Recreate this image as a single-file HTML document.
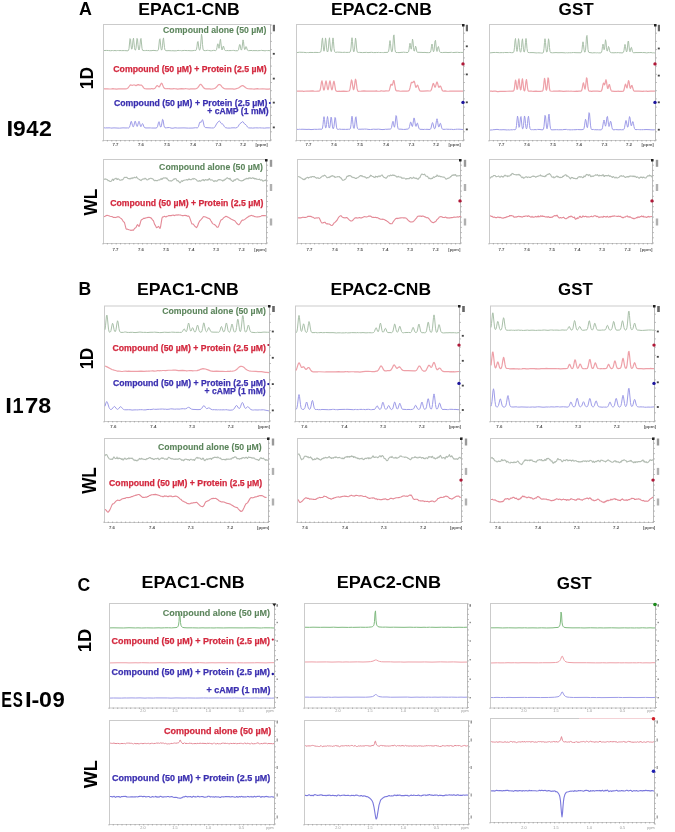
<!DOCTYPE html>
<html><head><meta charset="utf-8"><style>
html,body{margin:0;padding:0;background:#fff;overflow:hidden;width:675px;height:832px;}
svg{display:block;font-family:"Liberation Sans", sans-serif;filter:blur(0.55px);}
</style></head><body>
<svg width="675" height="832" viewBox="0 0 675 832">
<rect width="675" height="832" fill="#fff"/>
<text x="79.1" y="14.9" font-size="18.26" fill="#000" font-weight="bold" text-anchor="start" textLength="12.9" lengthAdjust="spacingAndGlyphs" >A</text>
<text x="138.3" y="14.9" font-size="16.57" fill="#000" font-weight="bold" text-anchor="start" textLength="101.3" lengthAdjust="spacingAndGlyphs" >EPAC1-CNB</text>
<text x="331.0" y="14.9" font-size="16.29" fill="#000" font-weight="bold" text-anchor="start" textLength="100.9" lengthAdjust="spacingAndGlyphs" >EPAC2-CNB</text>
<text x="558.6" y="15.1" font-size="16.86" fill="#000" font-weight="bold" text-anchor="start" textLength="35.2" lengthAdjust="spacingAndGlyphs" >GST</text>
<text x="78.4" y="294.8" font-size="18.12" fill="#000" font-weight="bold" text-anchor="start" textLength="12.7" lengthAdjust="spacingAndGlyphs" >B</text>
<text x="136.9" y="294.7" font-size="16.57" fill="#000" font-weight="bold" text-anchor="start" textLength="101.8" lengthAdjust="spacingAndGlyphs" >EPAC1-CNB</text>
<text x="330.5" y="294.6" font-size="16.00" fill="#000" font-weight="bold" text-anchor="start" textLength="100.5" lengthAdjust="spacingAndGlyphs" >EPAC2-CNB</text>
<text x="558.1" y="295.1" font-size="16.86" fill="#000" font-weight="bold" text-anchor="start" textLength="34.7" lengthAdjust="spacingAndGlyphs" >GST</text>
<text x="77.6" y="590.6" font-size="18.57" fill="#000" font-weight="bold" text-anchor="start" textLength="12.7" lengthAdjust="spacingAndGlyphs" >C</text>
<text x="141.6" y="588.4" font-size="16.14" fill="#000" font-weight="bold" text-anchor="start" textLength="103.0" lengthAdjust="spacingAndGlyphs" >EPAC1-CNB</text>
<text x="336.8" y="588.2" font-size="16.00" fill="#000" font-weight="bold" text-anchor="start" textLength="104.2" lengthAdjust="spacingAndGlyphs" >EPAC2-CNB</text>
<text x="556.7" y="588.5" font-size="16.57" fill="#000" font-weight="bold" text-anchor="start" textLength="35.0" lengthAdjust="spacingAndGlyphs" >GST</text>
<text x="6.4" y="135.7" font-size="22.71" fill="#000" font-weight="bold" text-anchor="start" textLength="6.7" lengthAdjust="spacingAndGlyphs" >I</text>
<text x="13.1" y="135.7" font-size="22.71" fill="#000" font-weight="bold" text-anchor="start" textLength="12.7" lengthAdjust="spacingAndGlyphs" >9</text>
<text x="26.2" y="135.7" font-size="22.71" fill="#000" font-weight="bold" text-anchor="start" textLength="12.3" lengthAdjust="spacingAndGlyphs" >4</text>
<text x="39.0" y="135.7" font-size="22.71" fill="#000" font-weight="bold" text-anchor="start" textLength="12.9" lengthAdjust="spacingAndGlyphs" >2</text>
<text x="5.3" y="412.7" font-size="22.71" fill="#000" font-weight="bold" text-anchor="start" textLength="6.7" lengthAdjust="spacingAndGlyphs" >I</text>
<text x="12.4" y="412.7" font-size="22.71" fill="#000" font-weight="bold" text-anchor="start" textLength="11.1" lengthAdjust="spacingAndGlyphs" >1</text>
<text x="24.9" y="412.7" font-size="22.71" fill="#000" font-weight="bold" text-anchor="start" textLength="13.3" lengthAdjust="spacingAndGlyphs" >7</text>
<text x="38.2" y="412.7" font-size="22.71" fill="#000" font-weight="bold" text-anchor="start" textLength="12.9" lengthAdjust="spacingAndGlyphs" >8</text>
<text x="1.2" y="706.7" font-size="22.86" fill="#000" font-weight="bold" text-anchor="start" textLength="10.7" lengthAdjust="spacingAndGlyphs" >E</text>
<text x="12.8" y="706.7" font-size="22.86" fill="#000" font-weight="bold" text-anchor="start" textLength="10.1" lengthAdjust="spacingAndGlyphs" >S</text>
<text x="24.9" y="706.7" font-size="22.86" fill="#000" font-weight="bold" text-anchor="start" textLength="6.7" lengthAdjust="spacingAndGlyphs" >I</text>
<text x="31.4" y="706.7" font-size="22.86" fill="#000" font-weight="bold" text-anchor="start" textLength="7.8" lengthAdjust="spacingAndGlyphs" >-</text>
<text x="39.1" y="706.7" font-size="22.86" fill="#000" font-weight="bold" text-anchor="start" textLength="12.9" lengthAdjust="spacingAndGlyphs" >0</text>
<text x="52.5" y="706.7" font-size="22.86" fill="#000" font-weight="bold" text-anchor="start" textLength="12.3" lengthAdjust="spacingAndGlyphs" >9</text>
<text transform="translate(93.30,89.13) rotate(-90)" x="0" y="0" font-size="18.26" font-weight="bold" fill="#000" textLength="22.29" lengthAdjust="spacingAndGlyphs">1D</text>
<text transform="translate(92.60,369.29) rotate(-90)" x="0" y="0" font-size="18.26" font-weight="bold" fill="#000" textLength="21.52" lengthAdjust="spacingAndGlyphs">1D</text>
<text transform="translate(90.70,652.29) rotate(-90)" x="0" y="0" font-size="17.68" font-weight="bold" fill="#000" textLength="23.49" lengthAdjust="spacingAndGlyphs">1D</text>
<text transform="translate(97.00,215.50) rotate(-90)" x="0" y="0" font-size="18.26" font-weight="bold" fill="#000" textLength="26.61" lengthAdjust="spacingAndGlyphs">WL</text>
<text transform="translate(96.00,493.80) rotate(-90)" x="0" y="0" font-size="19.42" font-weight="bold" fill="#000" textLength="26.61" lengthAdjust="spacingAndGlyphs">WL</text>
<text transform="translate(97.00,788.20) rotate(-90)" x="0" y="0" font-size="18.84" font-weight="bold" fill="#000" textLength="27.93" lengthAdjust="spacingAndGlyphs">WL</text>
<rect x="103.5" y="24.5" width="167.0" height="116.0" fill="none" stroke="#cbcbcb" stroke-width="1"/>
<line x1="270.5" y1="25.0" x2="270.5" y2="140.0" stroke="#bababa" stroke-width="1"/>
<line x1="270.0" y1="25.0" x2="272.0" y2="25.0" stroke="#b0b0b0" stroke-width="0.8"/>
<line x1="270.0" y1="33.2" x2="272.0" y2="33.2" stroke="#b0b0b0" stroke-width="0.8"/>
<line x1="270.0" y1="41.4" x2="272.0" y2="41.4" stroke="#b0b0b0" stroke-width="0.8"/>
<line x1="270.0" y1="49.6" x2="272.0" y2="49.6" stroke="#b0b0b0" stroke-width="0.8"/>
<line x1="270.0" y1="57.9" x2="272.0" y2="57.9" stroke="#b0b0b0" stroke-width="0.8"/>
<line x1="270.0" y1="66.1" x2="272.0" y2="66.1" stroke="#b0b0b0" stroke-width="0.8"/>
<line x1="270.0" y1="74.3" x2="272.0" y2="74.3" stroke="#b0b0b0" stroke-width="0.8"/>
<line x1="270.0" y1="82.5" x2="272.0" y2="82.5" stroke="#b0b0b0" stroke-width="0.8"/>
<line x1="270.0" y1="90.7" x2="272.0" y2="90.7" stroke="#b0b0b0" stroke-width="0.8"/>
<line x1="270.0" y1="98.9" x2="272.0" y2="98.9" stroke="#b0b0b0" stroke-width="0.8"/>
<line x1="270.0" y1="107.1" x2="272.0" y2="107.1" stroke="#b0b0b0" stroke-width="0.8"/>
<line x1="270.0" y1="115.4" x2="272.0" y2="115.4" stroke="#b0b0b0" stroke-width="0.8"/>
<line x1="270.0" y1="123.6" x2="272.0" y2="123.6" stroke="#b0b0b0" stroke-width="0.8"/>
<line x1="270.0" y1="131.8" x2="272.0" y2="131.8" stroke="#b0b0b0" stroke-width="0.8"/>
<line x1="270.0" y1="140.0" x2="272.0" y2="140.0" stroke="#b0b0b0" stroke-width="0.8"/>
<rect x="272.8" y="24.8" width="2.2" height="6.5" fill="#666"/>
<rect x="272.8" y="52.9" width="2.0" height="1.8" fill="#444"/>
<rect x="272.8" y="77.7" width="2.0" height="1.8" fill="#444"/>
<rect x="272.8" y="101.7" width="2.0" height="1.8" fill="#444"/>
<rect x="272.8" y="126.5" width="2.0" height="1.8" fill="#444"/>
<line x1="103.0" y1="140.0" x2="103.0" y2="141.5" stroke="#9a9a9a" stroke-width="0.7"/>
<line x1="107.4" y1="140.0" x2="107.4" y2="141.5" stroke="#9a9a9a" stroke-width="0.7"/>
<line x1="111.8" y1="140.0" x2="111.8" y2="141.5" stroke="#9a9a9a" stroke-width="0.7"/>
<line x1="116.2" y1="140.0" x2="116.2" y2="141.5" stroke="#9a9a9a" stroke-width="0.7"/>
<line x1="120.6" y1="140.0" x2="120.6" y2="141.5" stroke="#9a9a9a" stroke-width="0.7"/>
<line x1="125.0" y1="140.0" x2="125.0" y2="141.5" stroke="#9a9a9a" stroke-width="0.7"/>
<line x1="129.4" y1="140.0" x2="129.4" y2="141.5" stroke="#9a9a9a" stroke-width="0.7"/>
<line x1="133.8" y1="140.0" x2="133.8" y2="141.5" stroke="#9a9a9a" stroke-width="0.7"/>
<line x1="138.2" y1="140.0" x2="138.2" y2="141.5" stroke="#9a9a9a" stroke-width="0.7"/>
<line x1="142.6" y1="140.0" x2="142.6" y2="141.5" stroke="#9a9a9a" stroke-width="0.7"/>
<line x1="146.9" y1="140.0" x2="146.9" y2="141.5" stroke="#9a9a9a" stroke-width="0.7"/>
<line x1="151.3" y1="140.0" x2="151.3" y2="141.5" stroke="#9a9a9a" stroke-width="0.7"/>
<line x1="155.7" y1="140.0" x2="155.7" y2="141.5" stroke="#9a9a9a" stroke-width="0.7"/>
<line x1="160.1" y1="140.0" x2="160.1" y2="141.5" stroke="#9a9a9a" stroke-width="0.7"/>
<line x1="164.5" y1="140.0" x2="164.5" y2="141.5" stroke="#9a9a9a" stroke-width="0.7"/>
<line x1="168.9" y1="140.0" x2="168.9" y2="141.5" stroke="#9a9a9a" stroke-width="0.7"/>
<line x1="173.3" y1="140.0" x2="173.3" y2="141.5" stroke="#9a9a9a" stroke-width="0.7"/>
<line x1="177.7" y1="140.0" x2="177.7" y2="141.5" stroke="#9a9a9a" stroke-width="0.7"/>
<line x1="182.1" y1="140.0" x2="182.1" y2="141.5" stroke="#9a9a9a" stroke-width="0.7"/>
<line x1="186.5" y1="140.0" x2="186.5" y2="141.5" stroke="#9a9a9a" stroke-width="0.7"/>
<line x1="190.9" y1="140.0" x2="190.9" y2="141.5" stroke="#9a9a9a" stroke-width="0.7"/>
<line x1="195.3" y1="140.0" x2="195.3" y2="141.5" stroke="#9a9a9a" stroke-width="0.7"/>
<line x1="199.7" y1="140.0" x2="199.7" y2="141.5" stroke="#9a9a9a" stroke-width="0.7"/>
<line x1="204.1" y1="140.0" x2="204.1" y2="141.5" stroke="#9a9a9a" stroke-width="0.7"/>
<line x1="208.5" y1="140.0" x2="208.5" y2="141.5" stroke="#9a9a9a" stroke-width="0.7"/>
<line x1="212.9" y1="140.0" x2="212.9" y2="141.5" stroke="#9a9a9a" stroke-width="0.7"/>
<line x1="217.3" y1="140.0" x2="217.3" y2="141.5" stroke="#9a9a9a" stroke-width="0.7"/>
<line x1="221.7" y1="140.0" x2="221.7" y2="141.5" stroke="#9a9a9a" stroke-width="0.7"/>
<line x1="226.1" y1="140.0" x2="226.1" y2="141.5" stroke="#9a9a9a" stroke-width="0.7"/>
<line x1="230.4" y1="140.0" x2="230.4" y2="141.5" stroke="#9a9a9a" stroke-width="0.7"/>
<line x1="234.8" y1="140.0" x2="234.8" y2="141.5" stroke="#9a9a9a" stroke-width="0.7"/>
<line x1="239.2" y1="140.0" x2="239.2" y2="141.5" stroke="#9a9a9a" stroke-width="0.7"/>
<line x1="243.6" y1="140.0" x2="243.6" y2="141.5" stroke="#9a9a9a" stroke-width="0.7"/>
<line x1="248.0" y1="140.0" x2="248.0" y2="141.5" stroke="#9a9a9a" stroke-width="0.7"/>
<line x1="252.4" y1="140.0" x2="252.4" y2="141.5" stroke="#9a9a9a" stroke-width="0.7"/>
<line x1="256.8" y1="140.0" x2="256.8" y2="141.5" stroke="#9a9a9a" stroke-width="0.7"/>
<line x1="261.2" y1="140.0" x2="261.2" y2="141.5" stroke="#9a9a9a" stroke-width="0.7"/>
<line x1="265.6" y1="140.0" x2="265.6" y2="141.5" stroke="#9a9a9a" stroke-width="0.7"/>
<line x1="270.0" y1="140.0" x2="270.0" y2="141.5" stroke="#9a9a9a" stroke-width="0.7"/>
<text x="115.5" y="146.0" font-size="4.4" font-weight="bold" fill="#555" text-anchor="middle">7.7</text>
<text x="141.0" y="146.0" font-size="4.4" font-weight="bold" fill="#555" text-anchor="middle">7.6</text>
<text x="167.0" y="146.0" font-size="4.4" font-weight="bold" fill="#555" text-anchor="middle">7.5</text>
<text x="193.0" y="146.0" font-size="4.4" font-weight="bold" fill="#555" text-anchor="middle">7.4</text>
<text x="218.5" y="146.0" font-size="4.4" font-weight="bold" fill="#555" text-anchor="middle">7.3</text>
<text x="243.0" y="146.0" font-size="4.4" font-weight="bold" fill="#555" text-anchor="middle">7.2</text>
<text x="261.7" y="146.0" font-size="4.4" font-weight="bold" fill="#555" text-anchor="middle">[ppm]</text>
<polyline fill="none" stroke="#a9c0a9" stroke-width="1.0" stroke-linejoin="round"  points="104.0,50.54 106.5,50.45 108.5,50.52 110.5,50.74 112.5,50.51 113.5,50.68 114.0,50.53 116.5,50.67 117.5,50.50 118.5,50.53 119.0,50.66 120.0,50.53 121.5,50.64 124.5,50.58 128.0,50.82 128.5,50.45 129.0,48.68 130.0,38.64 130.5,39.28 131.0,44.85 131.5,48.90 132.0,49.17 132.5,45.87 133.0,40.23 133.5,38.20 134.5,47.67 135.0,49.93 135.5,50.10 136.0,48.33 137.0,38.41 137.5,39.16 138.0,44.78 138.5,48.89 139.0,50.01 139.5,48.89 140.0,44.79 140.5,39.26 141.0,38.44 142.0,48.36 142.5,50.26 143.0,50.54 144.5,50.59 145.0,50.48 145.5,50.55 146.0,50.39 147.5,50.57 149.0,50.52 149.5,50.71 152.0,50.63 153.0,50.39 156.5,50.70 157.5,50.63 158.0,50.45 158.5,49.15 159.5,39.53 160.0,38.78 161.0,48.59 161.5,50.13 162.0,49.38 162.5,45.84 163.0,40.07 163.5,37.91 164.5,47.64 165.0,49.98 165.5,50.53 167.0,50.77 168.0,50.60 171.5,50.76 173.0,50.69 174.0,50.85 176.5,50.77 178.0,50.40 179.5,50.56 180.5,50.52 181.5,50.71 184.5,50.46 187.5,50.60 189.0,50.56 190.0,50.72 192.0,50.75 194.5,50.42 195.0,50.52 196.0,50.33 196.5,49.34 197.0,46.22 197.5,42.00 198.0,41.48 199.0,48.92 199.5,50.17 200.0,49.82 200.5,46.78 201.5,34.12 202.0,36.84 202.5,44.37 203.0,49.05 203.5,50.34 204.0,50.58 205.5,50.61 207.5,50.34 208.5,50.47 209.0,50.40 210.0,50.77 211.0,50.82 211.5,50.78 212.0,50.59 213.0,50.57 213.5,50.39 215.0,50.46 215.5,50.61 216.0,50.50 216.5,49.72 217.0,47.41 217.5,44.20 218.0,43.71 218.5,46.44 219.0,48.32 219.5,46.21 220.0,41.17 220.5,39.22 221.5,48.16 222.0,49.98 222.5,49.04 223.0,46.85 223.5,46.07 224.5,49.60 225.0,50.41 225.5,50.56 226.5,50.63 228.0,50.50 228.5,50.64 231.5,50.56 232.0,50.40 232.5,50.49 233.5,50.41 235.5,50.72 237.5,50.71 238.0,50.55 238.5,49.78 239.5,44.72 240.0,44.50 241.0,49.59 241.5,50.11 242.0,48.29 243.0,39.90 243.5,41.64 244.0,46.58 244.5,49.40 245.0,49.53 246.0,46.56 246.5,47.22 247.0,49.06 247.5,50.24 248.0,50.55 248.5,50.66 251.0,50.49 252.0,50.50 252.5,50.68 254.0,50.56 255.0,50.68 256.0,50.55 257.5,50.71 260.5,50.52 261.5,50.33 263.0,50.62 264.0,50.62 265.0,50.87 266.5,50.51 267.5,50.58 269.0,50.52 270.0,50.75"/>
<polyline fill="none" stroke="#eea0a8" stroke-width="1.2" stroke-linejoin="round"  points="104.0,88.71 104.5,88.80 107.5,88.77 109.5,89.02 111.0,89.02 113.0,88.70 114.5,88.97 116.5,89.12 118.5,88.86 120.0,88.96 124.5,88.74 125.5,88.82 127.0,88.57 128.0,88.00 130.0,85.25 130.5,84.93 131.0,84.97 132.0,85.30 132.5,85.28 133.5,84.98 134.0,84.93 134.5,85.00 136.0,85.65 138.0,84.63 138.5,84.65 139.5,85.10 140.0,85.16 141.0,84.98 141.5,85.14 142.5,86.16 143.5,87.64 144.0,88.18 145.0,88.75 146.5,88.95 149.5,88.77 151.0,88.79 151.5,88.67 153.5,88.81 154.0,88.74 155.0,88.26 156.5,86.18 157.0,85.68 157.5,85.65 158.5,86.58 159.0,86.86 159.5,86.62 161.0,83.65 161.5,83.21 162.0,83.59 163.5,87.13 164.0,87.88 164.5,88.34 165.5,88.75 167.5,88.64 168.5,88.75 169.0,88.63 170.5,88.88 172.5,88.94 174.0,88.64 174.5,88.77 176.5,88.86 177.5,89.11 181.5,88.71 184.0,88.85 185.0,88.72 186.5,88.77 189.5,89.04 190.5,88.90 191.0,88.95 192.5,88.83 194.0,88.97 194.5,88.85 195.0,88.89 196.0,88.75 197.0,88.27 198.0,87.31 200.0,84.54 200.5,84.37 201.0,84.43 201.5,84.86 203.5,87.71 205.0,88.63 206.0,88.87 207.0,88.80 208.5,88.97 210.0,88.84 210.5,89.03 212.5,88.96 213.0,88.93 214.5,88.54 215.5,87.89 216.5,87.02 218.0,85.20 218.5,84.79 219.0,84.54 219.5,84.47 220.5,84.98 222.0,86.83 223.0,87.81 224.0,88.48 224.5,88.67 226.0,88.92 227.0,88.92 228.0,88.78 229.0,88.86 231.0,88.80 231.5,88.95 232.5,88.94 234.0,89.17 235.5,88.92 238.5,87.99 241.0,86.16 242.0,85.72 242.5,85.67 243.5,85.91 245.5,87.54 246.5,88.22 248.0,88.74 250.5,88.83 251.5,88.75 253.0,89.01 254.0,89.05 257.5,88.70 259.0,88.98 262.5,88.75 266.5,89.11 267.5,89.05 268.5,89.13 270.0,88.96"/>
<polyline fill="none" stroke="#9e9ce8" stroke-width="1.0" stroke-linejoin="round"  points="104.0,127.78 105.5,127.97 106.0,127.86 108.0,127.91 109.0,127.82 110.5,127.95 111.0,128.11 114.0,127.89 119.5,128.15 123.0,127.86 126.0,127.98 127.5,127.91 128.5,128.07 129.0,127.79 129.5,127.12 130.0,125.58 131.0,121.43 131.5,121.53 132.5,125.61 133.0,126.80 133.5,126.68 134.0,125.23 134.5,122.90 135.0,121.17 135.5,121.41 136.5,125.64 137.0,126.59 137.5,126.13 138.5,122.31 139.0,121.34 139.5,122.42 140.5,126.34 141.0,126.73 141.5,125.78 142.0,124.27 142.5,123.56 143.0,124.24 144.0,126.94 144.5,127.58 145.0,127.80 146.0,127.94 150.5,127.91 151.5,128.01 156.0,128.04 157.0,127.60 157.5,126.74 158.5,122.43 159.0,121.70 159.5,123.20 160.0,125.60 160.5,126.95 161.0,126.96 161.5,125.17 162.5,119.37 163.0,119.77 164.0,125.79 164.5,127.24 165.0,127.80 166.0,127.92 166.5,127.77 169.0,127.56 169.5,127.57 171.0,128.07 172.0,128.20 173.0,128.19 175.0,127.78 177.5,128.02 184.0,127.90 188.5,128.12 193.0,128.02 195.5,127.72 196.0,127.84 197.5,127.77 198.0,127.45 198.5,126.47 199.5,122.85 200.0,121.87 201.0,122.54 201.5,121.83 202.0,120.34 202.5,119.67 203.0,120.87 204.0,125.46 204.5,126.90 205.0,127.41 205.5,127.58 211.5,127.96 213.5,127.95 214.0,127.75 214.5,127.47 215.0,126.80 217.0,123.12 219.0,121.17 219.5,121.03 220.0,121.45 221.0,123.28 221.5,123.71 222.5,123.92 223.0,124.30 224.5,126.75 225.0,127.36 225.5,127.66 227.5,128.06 230.5,128.07 232.0,127.80 233.0,127.88 234.0,127.76 235.5,127.93 237.0,127.56 237.5,127.24 238.0,126.72 239.0,124.90 240.0,123.55 241.0,122.99 242.0,121.97 242.5,121.67 243.0,121.73 244.5,123.87 246.0,124.83 246.5,125.43 247.5,127.08 248.0,127.54 248.5,127.80 249.0,127.79 250.0,128.08 251.0,127.90 252.5,128.10 255.5,127.83 258.5,127.95 259.5,127.82 261.5,127.96 262.0,127.84 262.5,127.97 264.5,128.11 267.0,127.85 268.0,127.92 269.5,127.82 270.0,127.95"/>
<rect x="296.5" y="24.5" width="167.0" height="116.0" fill="none" stroke="#cbcbcb" stroke-width="1"/>
<line x1="463.5" y1="25.0" x2="463.5" y2="140.0" stroke="#bababa" stroke-width="1"/>
<line x1="463.0" y1="25.0" x2="465.0" y2="25.0" stroke="#b0b0b0" stroke-width="0.8"/>
<line x1="463.0" y1="33.2" x2="465.0" y2="33.2" stroke="#b0b0b0" stroke-width="0.8"/>
<line x1="463.0" y1="41.4" x2="465.0" y2="41.4" stroke="#b0b0b0" stroke-width="0.8"/>
<line x1="463.0" y1="49.6" x2="465.0" y2="49.6" stroke="#b0b0b0" stroke-width="0.8"/>
<line x1="463.0" y1="57.9" x2="465.0" y2="57.9" stroke="#b0b0b0" stroke-width="0.8"/>
<line x1="463.0" y1="66.1" x2="465.0" y2="66.1" stroke="#b0b0b0" stroke-width="0.8"/>
<line x1="463.0" y1="74.3" x2="465.0" y2="74.3" stroke="#b0b0b0" stroke-width="0.8"/>
<line x1="463.0" y1="82.5" x2="465.0" y2="82.5" stroke="#b0b0b0" stroke-width="0.8"/>
<line x1="463.0" y1="90.7" x2="465.0" y2="90.7" stroke="#b0b0b0" stroke-width="0.8"/>
<line x1="463.0" y1="98.9" x2="465.0" y2="98.9" stroke="#b0b0b0" stroke-width="0.8"/>
<line x1="463.0" y1="107.1" x2="465.0" y2="107.1" stroke="#b0b0b0" stroke-width="0.8"/>
<line x1="463.0" y1="115.4" x2="465.0" y2="115.4" stroke="#b0b0b0" stroke-width="0.8"/>
<line x1="463.0" y1="123.6" x2="465.0" y2="123.6" stroke="#b0b0b0" stroke-width="0.8"/>
<line x1="463.0" y1="131.8" x2="465.0" y2="131.8" stroke="#b0b0b0" stroke-width="0.8"/>
<line x1="463.0" y1="140.0" x2="465.0" y2="140.0" stroke="#b0b0b0" stroke-width="0.8"/>
<rect x="465.8" y="24.8" width="2.2" height="6.5" fill="#666"/>
<rect x="465.8" y="45.4" width="2.0" height="1.8" fill="#444"/>
<rect x="465.8" y="73.5" width="2.0" height="1.8" fill="#444"/>
<rect x="465.8" y="101.4" width="2.0" height="1.8" fill="#444"/>
<rect x="465.8" y="128.5" width="2.0" height="1.8" fill="#444"/>
<line x1="296.0" y1="140.0" x2="296.0" y2="141.5" stroke="#9a9a9a" stroke-width="0.7"/>
<line x1="300.4" y1="140.0" x2="300.4" y2="141.5" stroke="#9a9a9a" stroke-width="0.7"/>
<line x1="304.8" y1="140.0" x2="304.8" y2="141.5" stroke="#9a9a9a" stroke-width="0.7"/>
<line x1="309.2" y1="140.0" x2="309.2" y2="141.5" stroke="#9a9a9a" stroke-width="0.7"/>
<line x1="313.6" y1="140.0" x2="313.6" y2="141.5" stroke="#9a9a9a" stroke-width="0.7"/>
<line x1="318.0" y1="140.0" x2="318.0" y2="141.5" stroke="#9a9a9a" stroke-width="0.7"/>
<line x1="322.4" y1="140.0" x2="322.4" y2="141.5" stroke="#9a9a9a" stroke-width="0.7"/>
<line x1="326.8" y1="140.0" x2="326.8" y2="141.5" stroke="#9a9a9a" stroke-width="0.7"/>
<line x1="331.2" y1="140.0" x2="331.2" y2="141.5" stroke="#9a9a9a" stroke-width="0.7"/>
<line x1="335.6" y1="140.0" x2="335.6" y2="141.5" stroke="#9a9a9a" stroke-width="0.7"/>
<line x1="339.9" y1="140.0" x2="339.9" y2="141.5" stroke="#9a9a9a" stroke-width="0.7"/>
<line x1="344.3" y1="140.0" x2="344.3" y2="141.5" stroke="#9a9a9a" stroke-width="0.7"/>
<line x1="348.7" y1="140.0" x2="348.7" y2="141.5" stroke="#9a9a9a" stroke-width="0.7"/>
<line x1="353.1" y1="140.0" x2="353.1" y2="141.5" stroke="#9a9a9a" stroke-width="0.7"/>
<line x1="357.5" y1="140.0" x2="357.5" y2="141.5" stroke="#9a9a9a" stroke-width="0.7"/>
<line x1="361.9" y1="140.0" x2="361.9" y2="141.5" stroke="#9a9a9a" stroke-width="0.7"/>
<line x1="366.3" y1="140.0" x2="366.3" y2="141.5" stroke="#9a9a9a" stroke-width="0.7"/>
<line x1="370.7" y1="140.0" x2="370.7" y2="141.5" stroke="#9a9a9a" stroke-width="0.7"/>
<line x1="375.1" y1="140.0" x2="375.1" y2="141.5" stroke="#9a9a9a" stroke-width="0.7"/>
<line x1="379.5" y1="140.0" x2="379.5" y2="141.5" stroke="#9a9a9a" stroke-width="0.7"/>
<line x1="383.9" y1="140.0" x2="383.9" y2="141.5" stroke="#9a9a9a" stroke-width="0.7"/>
<line x1="388.3" y1="140.0" x2="388.3" y2="141.5" stroke="#9a9a9a" stroke-width="0.7"/>
<line x1="392.7" y1="140.0" x2="392.7" y2="141.5" stroke="#9a9a9a" stroke-width="0.7"/>
<line x1="397.1" y1="140.0" x2="397.1" y2="141.5" stroke="#9a9a9a" stroke-width="0.7"/>
<line x1="401.5" y1="140.0" x2="401.5" y2="141.5" stroke="#9a9a9a" stroke-width="0.7"/>
<line x1="405.9" y1="140.0" x2="405.9" y2="141.5" stroke="#9a9a9a" stroke-width="0.7"/>
<line x1="410.3" y1="140.0" x2="410.3" y2="141.5" stroke="#9a9a9a" stroke-width="0.7"/>
<line x1="414.7" y1="140.0" x2="414.7" y2="141.5" stroke="#9a9a9a" stroke-width="0.7"/>
<line x1="419.1" y1="140.0" x2="419.1" y2="141.5" stroke="#9a9a9a" stroke-width="0.7"/>
<line x1="423.4" y1="140.0" x2="423.4" y2="141.5" stroke="#9a9a9a" stroke-width="0.7"/>
<line x1="427.8" y1="140.0" x2="427.8" y2="141.5" stroke="#9a9a9a" stroke-width="0.7"/>
<line x1="432.2" y1="140.0" x2="432.2" y2="141.5" stroke="#9a9a9a" stroke-width="0.7"/>
<line x1="436.6" y1="140.0" x2="436.6" y2="141.5" stroke="#9a9a9a" stroke-width="0.7"/>
<line x1="441.0" y1="140.0" x2="441.0" y2="141.5" stroke="#9a9a9a" stroke-width="0.7"/>
<line x1="445.4" y1="140.0" x2="445.4" y2="141.5" stroke="#9a9a9a" stroke-width="0.7"/>
<line x1="449.8" y1="140.0" x2="449.8" y2="141.5" stroke="#9a9a9a" stroke-width="0.7"/>
<line x1="454.2" y1="140.0" x2="454.2" y2="141.5" stroke="#9a9a9a" stroke-width="0.7"/>
<line x1="458.6" y1="140.0" x2="458.6" y2="141.5" stroke="#9a9a9a" stroke-width="0.7"/>
<line x1="463.0" y1="140.0" x2="463.0" y2="141.5" stroke="#9a9a9a" stroke-width="0.7"/>
<text x="308.5" y="146.0" font-size="4.4" font-weight="bold" fill="#555" text-anchor="middle">7.7</text>
<text x="334.0" y="146.0" font-size="4.4" font-weight="bold" fill="#555" text-anchor="middle">7.6</text>
<text x="360.0" y="146.0" font-size="4.4" font-weight="bold" fill="#555" text-anchor="middle">7.5</text>
<text x="386.0" y="146.0" font-size="4.4" font-weight="bold" fill="#555" text-anchor="middle">7.4</text>
<text x="411.5" y="146.0" font-size="4.4" font-weight="bold" fill="#555" text-anchor="middle">7.3</text>
<text x="436.0" y="146.0" font-size="4.4" font-weight="bold" fill="#555" text-anchor="middle">7.2</text>
<text x="454.7" y="146.0" font-size="4.4" font-weight="bold" fill="#555" text-anchor="middle">[ppm]</text>
<polyline fill="none" stroke="#a9c0a9" stroke-width="1.0" stroke-linejoin="round"  points="297.0,52.56 299.5,52.22 303.5,52.35 306.5,52.63 307.5,52.50 308.5,52.58 310.0,52.45 313.5,52.53 315.0,52.40 318.5,52.50 319.0,52.40 319.5,52.43 320.5,52.13 321.0,51.07 321.5,47.13 322.0,40.41 322.5,37.93 323.5,49.07 324.0,51.20 324.5,49.06 325.5,37.95 326.0,40.50 326.5,47.10 327.0,51.06 327.5,51.99 328.0,51.04 328.5,46.94 329.0,40.30 329.5,37.77 330.5,48.97 331.0,51.57 331.5,51.35 332.0,48.17 332.5,41.76 333.0,37.92 333.5,41.79 334.0,48.29 334.5,51.50 335.0,52.23 335.5,52.32 336.0,52.21 337.0,52.23 337.5,52.10 338.0,52.22 339.0,52.15 342.5,52.44 345.0,52.23 345.5,52.40 348.5,52.40 350.0,52.16 350.5,51.33 351.0,48.01 351.5,41.57 352.0,37.72 352.5,41.59 353.0,48.18 353.5,51.53 354.0,51.75 354.5,49.25 355.5,37.99 356.0,40.49 356.5,47.04 357.0,51.04 357.5,52.24 358.5,52.47 359.5,52.40 362.5,52.59 366.5,52.39 368.0,52.62 371.5,52.30 373.5,52.58 374.0,52.52 375.0,52.62 376.5,52.44 378.0,52.55 378.5,52.40 379.5,52.53 381.5,52.52 382.0,52.63 382.5,52.53 383.5,52.58 384.0,52.45 386.0,52.46 388.0,52.23 388.5,51.67 389.0,48.92 389.5,43.76 390.0,40.58 390.5,43.74 391.0,48.94 391.5,51.59 392.0,51.90 392.5,50.07 393.0,43.98 393.5,35.88 394.0,34.89 395.0,49.44 395.5,51.95 396.0,52.53 397.5,52.49 399.0,52.61 402.0,52.31 403.0,52.34 403.5,52.18 405.5,52.39 406.0,52.35 407.0,52.54 408.0,52.40 408.5,51.85 409.0,49.71 409.5,45.64 410.0,43.22 410.5,45.64 411.0,49.11 411.5,48.87 412.5,39.07 413.0,41.41 413.5,47.52 414.0,51.03 414.5,51.01 415.5,46.12 416.0,47.10 416.5,50.02 417.0,51.90 417.5,52.41 419.0,52.26 420.0,52.42 421.0,52.37 423.0,52.51 425.0,52.41 426.0,52.58 428.5,52.64 430.0,52.51 430.5,52.11 431.0,50.15 431.5,46.25 432.0,44.03 432.5,46.33 433.0,50.10 433.5,51.78 434.0,50.86 435.0,41.09 435.5,40.28 436.5,50.30 437.0,51.46 437.5,49.69 438.0,46.95 438.5,46.56 439.5,51.45 440.0,52.20 440.5,52.39 442.5,52.59 443.0,52.48 446.0,52.38 448.0,52.57 451.5,52.32 452.5,52.52 454.0,52.51 456.0,52.32 457.5,52.33 460.0,52.54 460.5,52.43 463.0,52.44"/>
<polyline fill="none" stroke="#eea0a8" stroke-width="1.2" stroke-linejoin="round"  points="297.0,91.07 298.0,91.01 299.0,91.15 300.0,90.97 301.5,91.18 303.0,91.19 303.5,91.37 307.0,90.99 309.0,91.19 312.5,90.88 314.0,91.15 316.0,91.25 318.0,91.03 318.5,91.11 319.5,90.95 320.0,90.28 320.5,88.47 321.5,81.92 322.0,80.84 322.5,83.15 323.5,89.35 324.0,90.11 324.5,88.97 325.5,82.49 326.0,80.81 326.5,82.54 327.5,88.84 328.0,89.73 328.5,88.47 329.5,81.93 330.0,80.81 330.5,83.00 331.0,86.54 331.5,89.12 332.0,89.80 332.5,88.45 333.5,82.13 334.0,81.21 334.5,83.42 335.5,89.66 336.0,90.85 336.5,91.15 337.0,91.29 338.5,91.32 339.0,91.19 340.0,91.42 343.5,91.17 346.5,91.30 349.0,90.98 349.5,90.59 350.0,89.11 351.0,82.35 351.5,79.96 352.0,80.95 353.0,88.10 353.5,89.71 354.0,88.89 354.5,85.81 355.0,81.62 355.5,79.23 356.0,80.42 357.0,88.14 357.5,90.31 358.0,91.18 358.5,91.33 359.0,91.23 361.0,91.27 361.5,91.11 364.0,90.96 366.5,91.16 368.5,91.05 369.5,91.20 371.0,91.08 372.5,91.20 374.0,91.02 375.0,91.15 376.5,90.89 377.5,91.24 380.0,91.15 381.5,90.81 382.5,91.04 384.0,91.01 384.5,91.14 386.0,90.95 388.5,91.01 389.0,90.66 389.5,89.70 390.5,85.74 391.0,84.28 391.5,84.38 392.0,85.16 392.5,84.91 393.5,80.68 394.0,80.56 395.5,89.27 396.0,90.50 396.5,90.85 398.5,90.87 400.5,91.24 402.5,91.07 406.0,91.16 407.0,91.03 408.5,91.02 409.0,90.56 409.5,89.69 410.0,87.99 411.0,83.59 411.5,82.32 412.0,82.28 412.5,82.72 413.0,82.52 413.5,81.66 414.0,81.13 414.5,81.98 415.5,86.42 416.0,87.34 416.5,86.76 417.0,85.62 417.5,85.11 418.0,85.91 419.0,89.12 419.5,90.23 420.0,90.83 420.5,91.04 423.0,91.18 427.5,90.86 429.5,91.01 430.5,90.85 431.0,90.35 431.5,89.30 433.0,83.75 433.5,83.49 434.0,84.67 434.5,86.34 435.0,87.32 435.5,86.71 436.5,82.86 437.0,81.98 437.5,82.96 438.5,86.85 439.0,87.40 440.0,86.03 440.5,86.12 441.0,87.07 442.0,89.91 442.5,90.69 443.0,91.01 443.5,91.05 445.0,90.84 446.5,91.14 449.0,91.25 450.0,91.03 451.0,91.19 454.5,90.99 457.0,91.13 463.0,91.11"/>
<polyline fill="none" stroke="#9e9ce8" stroke-width="1.0" stroke-linejoin="round"  points="297.0,129.34 298.5,129.44 299.5,129.26 300.5,129.37 302.0,129.24 307.0,129.43 309.0,129.31 311.0,129.59 314.5,129.31 317.5,129.35 319.0,129.17 321.0,129.18 321.5,129.32 322.0,129.13 322.5,128.04 323.0,124.71 323.5,119.46 324.0,116.67 324.5,119.53 325.0,124.60 325.5,127.76 326.0,127.80 326.5,124.65 327.0,119.40 327.5,116.55 328.0,119.29 328.5,124.39 329.0,127.56 329.5,128.07 330.0,126.08 331.0,117.09 331.5,117.69 332.5,126.93 333.0,128.75 333.5,128.49 334.0,126.41 335.0,117.46 335.5,118.10 336.5,127.16 337.0,128.95 337.5,129.30 338.5,129.38 339.5,129.08 341.5,129.37 342.0,129.24 343.0,129.42 344.0,129.29 345.5,129.42 348.5,129.26 349.5,129.33 350.0,129.13 350.5,128.10 351.0,124.59 351.5,119.17 352.0,116.24 352.5,119.13 353.0,124.58 353.5,127.87 354.0,128.45 354.5,126.86 355.5,117.44 356.0,116.75 357.0,126.20 357.5,128.53 358.0,129.15 358.5,129.26 360.0,129.18 361.0,129.27 362.0,129.07 363.0,129.21 364.5,129.07 366.5,129.12 369.0,129.46 370.5,129.50 373.5,129.20 376.0,129.32 378.5,129.15 382.0,129.57 385.0,129.38 385.5,129.25 387.0,129.29 388.0,129.16 390.0,129.12 390.5,129.01 391.0,128.70 391.5,127.60 392.5,122.24 393.0,121.31 393.5,123.20 394.0,126.23 394.5,127.22 395.0,124.87 396.0,115.57 396.5,116.14 397.5,125.82 398.0,128.37 398.5,129.14 401.0,129.17 403.5,129.46 406.0,129.31 407.0,129.04 408.0,129.16 408.5,128.88 409.0,128.19 409.5,126.51 410.5,122.16 411.0,122.29 412.0,126.30 412.5,126.38 413.0,123.87 413.5,120.16 414.0,117.92 414.5,119.02 415.5,125.81 416.0,126.42 417.0,123.41 417.5,123.11 418.5,126.94 419.0,128.37 419.5,129.09 420.0,129.25 421.0,129.38 422.0,129.31 423.0,129.47 424.0,129.47 424.5,129.34 425.5,129.43 427.0,129.27 428.0,129.42 430.0,129.46 430.5,129.13 431.0,128.17 432.0,123.78 432.5,122.58 433.0,123.67 434.0,127.91 434.5,128.73 435.0,128.51 435.5,127.05 436.5,120.47 437.0,118.77 437.5,120.51 438.0,124.06 438.5,126.71 439.0,126.98 440.0,123.56 440.5,123.34 441.0,124.89 441.5,127.13 442.0,128.55 442.5,129.21 443.0,129.35 445.5,129.31 446.5,129.16 448.0,129.30 449.0,129.22 449.5,129.33 451.5,129.31 453.5,129.54 454.0,129.38 455.5,129.40 457.0,129.14 457.5,129.23 459.0,129.18 463.0,129.50"/>
<circle cx="463.0" cy="63.9" r="1.7" fill="#b01838"/>
<circle cx="463.0" cy="102.4" r="1.7" fill="#1c149c"/>
<rect x="462" y="24" width="2.5" height="2.5" fill="#222"/>
<rect x="489.5" y="24.5" width="166.0" height="116.0" fill="none" stroke="#cbcbcb" stroke-width="1"/>
<line x1="655.5" y1="25.0" x2="655.5" y2="140.0" stroke="#bababa" stroke-width="1"/>
<line x1="655.0" y1="25.0" x2="657.0" y2="25.0" stroke="#b0b0b0" stroke-width="0.8"/>
<line x1="655.0" y1="33.2" x2="657.0" y2="33.2" stroke="#b0b0b0" stroke-width="0.8"/>
<line x1="655.0" y1="41.4" x2="657.0" y2="41.4" stroke="#b0b0b0" stroke-width="0.8"/>
<line x1="655.0" y1="49.6" x2="657.0" y2="49.6" stroke="#b0b0b0" stroke-width="0.8"/>
<line x1="655.0" y1="57.9" x2="657.0" y2="57.9" stroke="#b0b0b0" stroke-width="0.8"/>
<line x1="655.0" y1="66.1" x2="657.0" y2="66.1" stroke="#b0b0b0" stroke-width="0.8"/>
<line x1="655.0" y1="74.3" x2="657.0" y2="74.3" stroke="#b0b0b0" stroke-width="0.8"/>
<line x1="655.0" y1="82.5" x2="657.0" y2="82.5" stroke="#b0b0b0" stroke-width="0.8"/>
<line x1="655.0" y1="90.7" x2="657.0" y2="90.7" stroke="#b0b0b0" stroke-width="0.8"/>
<line x1="655.0" y1="98.9" x2="657.0" y2="98.9" stroke="#b0b0b0" stroke-width="0.8"/>
<line x1="655.0" y1="107.1" x2="657.0" y2="107.1" stroke="#b0b0b0" stroke-width="0.8"/>
<line x1="655.0" y1="115.4" x2="657.0" y2="115.4" stroke="#b0b0b0" stroke-width="0.8"/>
<line x1="655.0" y1="123.6" x2="657.0" y2="123.6" stroke="#b0b0b0" stroke-width="0.8"/>
<line x1="655.0" y1="131.8" x2="657.0" y2="131.8" stroke="#b0b0b0" stroke-width="0.8"/>
<line x1="655.0" y1="140.0" x2="657.0" y2="140.0" stroke="#b0b0b0" stroke-width="0.8"/>
<rect x="657.8" y="24.8" width="2.2" height="6.5" fill="#666"/>
<rect x="657.8" y="47.6" width="2.0" height="1.8" fill="#444"/>
<rect x="657.8" y="74.7" width="2.0" height="1.8" fill="#444"/>
<rect x="657.8" y="101.4" width="2.0" height="1.8" fill="#444"/>
<rect x="657.8" y="128.8" width="2.0" height="1.8" fill="#444"/>
<line x1="489.0" y1="140.0" x2="489.0" y2="141.5" stroke="#9a9a9a" stroke-width="0.7"/>
<line x1="493.4" y1="140.0" x2="493.4" y2="141.5" stroke="#9a9a9a" stroke-width="0.7"/>
<line x1="497.7" y1="140.0" x2="497.7" y2="141.5" stroke="#9a9a9a" stroke-width="0.7"/>
<line x1="502.1" y1="140.0" x2="502.1" y2="141.5" stroke="#9a9a9a" stroke-width="0.7"/>
<line x1="506.5" y1="140.0" x2="506.5" y2="141.5" stroke="#9a9a9a" stroke-width="0.7"/>
<line x1="510.8" y1="140.0" x2="510.8" y2="141.5" stroke="#9a9a9a" stroke-width="0.7"/>
<line x1="515.2" y1="140.0" x2="515.2" y2="141.5" stroke="#9a9a9a" stroke-width="0.7"/>
<line x1="519.6" y1="140.0" x2="519.6" y2="141.5" stroke="#9a9a9a" stroke-width="0.7"/>
<line x1="523.9" y1="140.0" x2="523.9" y2="141.5" stroke="#9a9a9a" stroke-width="0.7"/>
<line x1="528.3" y1="140.0" x2="528.3" y2="141.5" stroke="#9a9a9a" stroke-width="0.7"/>
<line x1="532.7" y1="140.0" x2="532.7" y2="141.5" stroke="#9a9a9a" stroke-width="0.7"/>
<line x1="537.1" y1="140.0" x2="537.1" y2="141.5" stroke="#9a9a9a" stroke-width="0.7"/>
<line x1="541.4" y1="140.0" x2="541.4" y2="141.5" stroke="#9a9a9a" stroke-width="0.7"/>
<line x1="545.8" y1="140.0" x2="545.8" y2="141.5" stroke="#9a9a9a" stroke-width="0.7"/>
<line x1="550.2" y1="140.0" x2="550.2" y2="141.5" stroke="#9a9a9a" stroke-width="0.7"/>
<line x1="554.5" y1="140.0" x2="554.5" y2="141.5" stroke="#9a9a9a" stroke-width="0.7"/>
<line x1="558.9" y1="140.0" x2="558.9" y2="141.5" stroke="#9a9a9a" stroke-width="0.7"/>
<line x1="563.3" y1="140.0" x2="563.3" y2="141.5" stroke="#9a9a9a" stroke-width="0.7"/>
<line x1="567.6" y1="140.0" x2="567.6" y2="141.5" stroke="#9a9a9a" stroke-width="0.7"/>
<line x1="572.0" y1="140.0" x2="572.0" y2="141.5" stroke="#9a9a9a" stroke-width="0.7"/>
<line x1="576.4" y1="140.0" x2="576.4" y2="141.5" stroke="#9a9a9a" stroke-width="0.7"/>
<line x1="580.7" y1="140.0" x2="580.7" y2="141.5" stroke="#9a9a9a" stroke-width="0.7"/>
<line x1="585.1" y1="140.0" x2="585.1" y2="141.5" stroke="#9a9a9a" stroke-width="0.7"/>
<line x1="589.5" y1="140.0" x2="589.5" y2="141.5" stroke="#9a9a9a" stroke-width="0.7"/>
<line x1="593.8" y1="140.0" x2="593.8" y2="141.5" stroke="#9a9a9a" stroke-width="0.7"/>
<line x1="598.2" y1="140.0" x2="598.2" y2="141.5" stroke="#9a9a9a" stroke-width="0.7"/>
<line x1="602.6" y1="140.0" x2="602.6" y2="141.5" stroke="#9a9a9a" stroke-width="0.7"/>
<line x1="606.9" y1="140.0" x2="606.9" y2="141.5" stroke="#9a9a9a" stroke-width="0.7"/>
<line x1="611.3" y1="140.0" x2="611.3" y2="141.5" stroke="#9a9a9a" stroke-width="0.7"/>
<line x1="615.7" y1="140.0" x2="615.7" y2="141.5" stroke="#9a9a9a" stroke-width="0.7"/>
<line x1="620.1" y1="140.0" x2="620.1" y2="141.5" stroke="#9a9a9a" stroke-width="0.7"/>
<line x1="624.4" y1="140.0" x2="624.4" y2="141.5" stroke="#9a9a9a" stroke-width="0.7"/>
<line x1="628.8" y1="140.0" x2="628.8" y2="141.5" stroke="#9a9a9a" stroke-width="0.7"/>
<line x1="633.2" y1="140.0" x2="633.2" y2="141.5" stroke="#9a9a9a" stroke-width="0.7"/>
<line x1="637.5" y1="140.0" x2="637.5" y2="141.5" stroke="#9a9a9a" stroke-width="0.7"/>
<line x1="641.9" y1="140.0" x2="641.9" y2="141.5" stroke="#9a9a9a" stroke-width="0.7"/>
<line x1="646.3" y1="140.0" x2="646.3" y2="141.5" stroke="#9a9a9a" stroke-width="0.7"/>
<line x1="650.6" y1="140.0" x2="650.6" y2="141.5" stroke="#9a9a9a" stroke-width="0.7"/>
<line x1="655.0" y1="140.0" x2="655.0" y2="141.5" stroke="#9a9a9a" stroke-width="0.7"/>
<text x="501.5" y="146.0" font-size="4.4" font-weight="bold" fill="#555" text-anchor="middle">7.7</text>
<text x="527.0" y="146.0" font-size="4.4" font-weight="bold" fill="#555" text-anchor="middle">7.6</text>
<text x="553.0" y="146.0" font-size="4.4" font-weight="bold" fill="#555" text-anchor="middle">7.5</text>
<text x="579.0" y="146.0" font-size="4.4" font-weight="bold" fill="#555" text-anchor="middle">7.4</text>
<text x="604.5" y="146.0" font-size="4.4" font-weight="bold" fill="#555" text-anchor="middle">7.3</text>
<text x="629.0" y="146.0" font-size="4.4" font-weight="bold" fill="#555" text-anchor="middle">7.2</text>
<text x="647.7" y="146.0" font-size="4.4" font-weight="bold" fill="#555" text-anchor="middle">[ppm]</text>
<polyline fill="none" stroke="#a9c0a9" stroke-width="1.0" stroke-linejoin="round"  points="490.0,52.88 494.0,52.46 495.5,52.53 496.0,52.43 499.5,52.69 502.5,52.60 504.0,52.72 504.5,52.49 508.5,52.57 509.5,52.45 511.5,52.67 512.0,52.59 513.0,52.70 513.5,52.34 514.0,51.23 514.5,47.22 515.0,40.83 515.5,38.49 516.5,49.35 517.0,51.45 517.5,49.32 518.5,38.66 519.0,41.02 519.5,47.34 520.0,51.26 520.5,52.22 521.0,51.34 521.5,47.49 522.0,41.10 522.5,38.83 523.5,49.58 524.0,52.05 524.5,51.78 525.0,48.58 525.5,42.32 526.0,38.49 526.5,42.24 527.0,48.46 527.5,51.59 528.0,52.42 529.5,52.61 533.0,52.58 537.0,52.98 537.5,52.82 538.0,52.81 540.5,52.91 541.5,53.07 542.5,53.06 543.0,52.94 543.5,52.11 544.0,48.76 544.5,42.48 545.0,38.73 545.5,42.45 546.0,48.68 546.5,51.86 547.0,52.09 547.5,49.68 548.5,38.79 549.0,41.11 549.5,47.51 550.0,51.45 550.5,52.59 552.5,52.81 556.0,52.57 558.0,52.72 562.0,52.61 565.5,52.87 566.5,52.71 567.5,52.82 569.5,52.69 570.0,52.88 571.0,52.64 571.5,52.69 573.5,52.53 576.0,52.69 581.0,52.75 581.5,52.18 582.0,49.67 582.5,44.71 583.0,41.81 583.5,44.68 584.0,49.57 584.5,51.94 585.0,52.20 585.5,50.39 586.0,44.49 586.5,36.50 587.0,35.44 588.0,49.55 588.5,52.05 589.0,52.48 592.5,52.91 593.0,52.81 595.5,52.73 596.5,52.85 597.5,52.73 598.5,52.89 601.0,52.89 601.5,52.34 602.0,50.26 602.5,46.43 603.0,44.14 603.5,46.39 604.0,49.78 604.5,49.26 605.5,39.75 606.0,41.91 606.5,47.76 607.0,51.04 607.5,50.89 608.5,46.46 609.0,47.52 609.5,50.30 610.0,52.01 610.5,52.50 611.5,52.70 614.0,52.81 616.0,52.62 616.5,52.71 618.5,52.58 619.0,52.77 621.0,52.80 622.0,52.94 623.0,52.70 623.5,52.20 624.0,50.36 624.5,46.73 625.0,44.41 625.5,46.59 626.0,50.20 626.5,51.91 627.0,51.09 627.5,47.10 628.0,41.64 628.5,41.04 629.5,50.70 630.0,51.77 630.5,50.25 631.0,47.71 631.5,47.40 632.5,51.74 633.0,52.54 633.5,52.69 635.0,52.69 636.0,52.53 637.0,52.62 642.0,52.49 642.5,52.60 643.0,52.53 645.0,52.61 646.5,52.86 648.0,52.73 649.0,52.51 649.5,52.63 651.0,52.54 652.5,52.84 653.5,52.78 654.5,52.90 655.0,52.82"/>
<polyline fill="none" stroke="#eea0a8" stroke-width="1.2" stroke-linejoin="round"  points="490.0,91.04 491.5,91.15 492.0,91.29 494.0,91.11 495.5,91.15 497.5,91.57 498.0,91.58 500.0,91.34 505.0,91.42 507.0,91.23 510.5,91.22 512.0,91.02 513.0,91.08 513.5,90.96 514.0,90.26 514.5,87.73 515.0,83.17 515.5,80.01 516.0,81.52 516.5,86.06 517.0,89.27 517.5,89.10 518.0,85.52 518.5,80.57 519.0,78.82 519.5,82.43 520.0,87.49 520.5,89.94 521.0,89.35 521.5,85.65 522.0,80.50 522.5,78.79 523.0,82.56 523.5,87.60 524.0,90.40 524.5,90.92 525.0,89.76 526.0,81.16 526.5,79.52 527.0,83.02 527.5,87.76 528.0,90.41 528.5,91.07 529.0,91.25 530.0,91.07 531.0,91.18 531.5,91.13 532.0,91.26 533.5,91.28 536.0,91.11 537.5,91.41 540.5,91.40 541.0,91.19 542.0,91.26 542.5,91.05 543.0,90.23 543.5,87.24 544.0,82.04 544.5,78.26 545.0,80.06 546.0,89.41 546.5,90.22 547.0,88.13 548.0,77.91 548.5,78.56 549.5,88.60 550.0,90.67 550.5,91.01 552.0,91.24 553.0,91.26 553.5,91.11 554.0,91.19 555.0,91.11 557.0,91.17 557.5,91.04 558.5,91.08 559.0,90.92 563.5,91.32 567.0,91.05 568.0,91.22 570.0,91.27 571.0,91.12 572.0,91.25 575.0,91.34 577.0,91.21 578.0,91.29 578.5,91.19 580.5,91.18 581.0,91.11 581.5,90.74 582.0,89.52 583.0,83.77 583.5,82.83 584.0,84.96 584.5,87.91 585.0,89.08 585.5,86.86 586.5,77.89 587.0,78.46 588.0,87.74 588.5,90.12 589.0,91.02 589.5,91.23 590.5,91.12 591.5,91.30 593.0,91.06 593.5,91.19 595.0,91.06 597.5,91.05 600.0,91.29 601.0,91.17 601.5,90.81 602.0,89.59 603.0,84.42 603.5,83.03 604.0,83.71 604.5,84.85 605.0,83.84 605.5,81.16 606.0,79.74 606.5,81.59 607.0,85.30 607.5,88.10 608.0,88.36 609.0,84.74 609.5,84.55 610.5,88.68 611.0,90.24 611.5,90.94 612.0,91.21 614.5,91.46 615.5,91.31 617.5,91.28 618.0,91.16 619.0,91.38 621.0,91.32 622.0,91.46 623.0,91.26 623.5,90.92 624.0,89.87 625.0,85.28 625.5,84.12 626.0,85.23 626.5,87.21 627.0,87.97 627.5,86.15 628.0,82.78 628.5,80.65 629.0,81.57 630.0,87.69 630.5,88.36 631.5,85.61 632.0,85.46 633.5,90.36 634.0,90.93 634.5,91.17 636.5,91.22 639.0,91.05 643.0,91.36 644.0,91.17 644.5,91.24 646.5,91.11 647.5,91.35 650.5,91.08 651.0,91.13 652.0,90.97 653.5,91.17 654.5,91.13 655.0,91.27"/>
<polyline fill="none" stroke="#9e9ce8" stroke-width="1.0" stroke-linejoin="round"  points="490.0,130.06 492.5,129.88 493.0,129.70 494.0,129.70 497.0,129.39 499.5,129.74 502.0,129.80 503.0,129.66 506.0,129.84 507.0,130.02 507.5,129.89 509.0,129.83 509.5,129.95 510.5,129.80 512.5,129.78 513.5,129.59 515.0,129.78 515.5,129.54 516.0,128.60 516.5,125.54 517.0,120.02 517.5,116.07 518.0,118.07 518.5,123.54 519.0,127.35 519.5,126.84 520.5,117.33 521.0,116.54 522.0,126.46 522.5,128.79 523.0,128.62 523.5,125.57 524.0,120.00 524.5,115.97 525.0,117.92 525.5,123.53 526.0,127.68 526.5,128.86 527.0,127.68 527.5,123.61 528.0,118.11 528.5,116.21 529.0,120.13 529.5,125.44 530.0,128.55 530.5,129.49 531.5,129.70 532.5,129.62 533.5,129.71 535.0,129.60 536.5,129.67 537.5,129.43 540.0,129.47 541.0,129.73 543.0,129.77 543.5,129.07 544.0,126.32 545.0,115.40 545.5,116.11 546.5,126.90 547.0,128.76 547.5,127.44 548.0,122.73 548.5,116.27 549.0,114.15 549.5,118.84 550.0,125.07 550.5,128.56 551.0,129.63 552.0,129.85 556.5,129.67 557.0,129.74 558.0,129.66 558.5,129.76 562.5,129.74 564.0,129.49 566.5,129.43 567.5,129.69 568.5,129.65 570.0,129.88 571.5,129.76 572.0,129.87 573.5,129.68 575.0,129.74 577.5,129.52 581.0,129.69 583.0,129.52 583.5,129.35 584.0,128.41 584.5,125.86 585.0,121.94 585.5,119.25 586.0,120.56 587.0,127.40 587.5,127.56 588.0,124.14 589.0,112.67 589.5,113.40 590.5,125.16 591.0,128.33 591.5,129.44 592.0,129.60 593.5,129.44 594.5,129.72 595.0,129.66 597.0,129.81 598.0,129.66 598.5,129.79 601.0,129.86 601.5,129.69 602.0,129.13 602.5,127.68 603.5,121.57 604.0,120.05 604.5,121.54 605.0,124.56 605.5,126.18 606.0,124.79 607.0,116.83 607.5,116.47 608.5,124.32 609.0,126.51 609.5,125.63 610.0,122.98 610.5,121.20 611.0,121.97 612.0,127.71 612.5,129.25 613.0,129.75 614.0,129.82 615.5,129.58 619.0,129.80 620.0,129.67 621.5,129.77 623.5,129.68 624.0,129.22 624.5,127.77 625.5,121.95 626.0,120.45 626.5,121.91 627.0,124.91 627.5,127.11 628.0,126.96 628.5,123.92 629.0,119.39 629.5,116.58 630.0,117.82 631.0,125.35 631.5,125.86 632.5,121.84 633.0,121.60 633.5,123.69 634.0,126.63 634.5,128.55 635.0,129.42 636.0,129.64 637.5,129.52 638.5,129.55 639.0,129.68 639.5,129.61 640.0,129.75 641.5,129.65 643.0,129.72 643.5,129.60 645.0,129.62 646.0,129.52 650.0,129.68 651.0,129.85 652.0,129.78 653.0,129.91 654.5,129.71 655.0,129.76"/>
<circle cx="655.0" cy="63.9" r="1.7" fill="#b01838"/>
<circle cx="655.0" cy="102.4" r="1.7" fill="#1c149c"/>
<rect x="654" y="24" width="2.5" height="2.5" fill="#222"/>
<text x="163.1" y="33.4" font-size="9.24" fill="#5c855c" font-weight="bold" text-anchor="start" textLength="103.2" lengthAdjust="spacingAndGlyphs" stroke="#5c855c" stroke-width="0.1">Compound alone (50 µM)</text>
<text x="113.3" y="71.8" font-size="9.24" fill="#d3283e" font-weight="bold" text-anchor="start" textLength="153.4" lengthAdjust="spacingAndGlyphs" stroke="#d3283e" stroke-width="0.25">Compound (50 µM) + Protein (2.5 µM)</text>
<text x="113.9" y="105.6" font-size="9.24" fill="#3a2fb0" font-weight="bold" text-anchor="start" textLength="153.6" lengthAdjust="spacingAndGlyphs" stroke="#3a2fb0" stroke-width="0.25">Compound (50 µM) + Protein (2.5 µM)</text>
<text x="207.2" y="114.3" font-size="9.24" fill="#3a2fb0" font-weight="bold" text-anchor="start" textLength="61.5" lengthAdjust="spacingAndGlyphs" stroke="#3a2fb0" stroke-width="0.25">+ cAMP (1 mM)</text>
<circle cx="269.8" cy="103.0" r="1.0" fill="#2020b0"/>
<rect x="103.5" y="159.5" width="163.0" height="84.0" fill="none" stroke="#cbcbcb" stroke-width="1"/>
<line x1="266.5" y1="160.0" x2="266.5" y2="243.0" stroke="#bababa" stroke-width="1"/>
<line x1="266.0" y1="160.0" x2="268.0" y2="160.0" stroke="#b0b0b0" stroke-width="0.8"/>
<line x1="266.0" y1="165.2" x2="268.0" y2="165.2" stroke="#b0b0b0" stroke-width="0.8"/>
<line x1="266.0" y1="170.4" x2="268.0" y2="170.4" stroke="#b0b0b0" stroke-width="0.8"/>
<line x1="266.0" y1="175.6" x2="268.0" y2="175.6" stroke="#b0b0b0" stroke-width="0.8"/>
<line x1="266.0" y1="180.8" x2="268.0" y2="180.8" stroke="#b0b0b0" stroke-width="0.8"/>
<line x1="266.0" y1="185.9" x2="268.0" y2="185.9" stroke="#b0b0b0" stroke-width="0.8"/>
<line x1="266.0" y1="191.1" x2="268.0" y2="191.1" stroke="#b0b0b0" stroke-width="0.8"/>
<line x1="266.0" y1="196.3" x2="268.0" y2="196.3" stroke="#b0b0b0" stroke-width="0.8"/>
<line x1="266.0" y1="201.5" x2="268.0" y2="201.5" stroke="#b0b0b0" stroke-width="0.8"/>
<line x1="266.0" y1="206.7" x2="268.0" y2="206.7" stroke="#b0b0b0" stroke-width="0.8"/>
<line x1="266.0" y1="211.9" x2="268.0" y2="211.9" stroke="#b0b0b0" stroke-width="0.8"/>
<line x1="266.0" y1="217.1" x2="268.0" y2="217.1" stroke="#b0b0b0" stroke-width="0.8"/>
<line x1="266.0" y1="222.2" x2="268.0" y2="222.2" stroke="#b0b0b0" stroke-width="0.8"/>
<line x1="266.0" y1="227.4" x2="268.0" y2="227.4" stroke="#b0b0b0" stroke-width="0.8"/>
<line x1="266.0" y1="232.6" x2="268.0" y2="232.6" stroke="#b0b0b0" stroke-width="0.8"/>
<line x1="266.0" y1="237.8" x2="268.0" y2="237.8" stroke="#b0b0b0" stroke-width="0.8"/>
<line x1="266.0" y1="243.0" x2="268.0" y2="243.0" stroke="#b0b0b0" stroke-width="0.8"/>
<rect x="269.8" y="159.8" width="2.4" height="7" fill="#999"/>
<rect x="269.8" y="184.0" width="2.4" height="7" fill="#b0b0b0"/>
<rect x="269.8" y="218.5" width="2.4" height="7" fill="#b0b0b0"/>
<line x1="103.0" y1="243.0" x2="103.0" y2="244.5" stroke="#9a9a9a" stroke-width="0.7"/>
<line x1="107.4" y1="243.0" x2="107.4" y2="244.5" stroke="#9a9a9a" stroke-width="0.7"/>
<line x1="111.8" y1="243.0" x2="111.8" y2="244.5" stroke="#9a9a9a" stroke-width="0.7"/>
<line x1="116.2" y1="243.0" x2="116.2" y2="244.5" stroke="#9a9a9a" stroke-width="0.7"/>
<line x1="120.6" y1="243.0" x2="120.6" y2="244.5" stroke="#9a9a9a" stroke-width="0.7"/>
<line x1="125.0" y1="243.0" x2="125.0" y2="244.5" stroke="#9a9a9a" stroke-width="0.7"/>
<line x1="129.4" y1="243.0" x2="129.4" y2="244.5" stroke="#9a9a9a" stroke-width="0.7"/>
<line x1="133.8" y1="243.0" x2="133.8" y2="244.5" stroke="#9a9a9a" stroke-width="0.7"/>
<line x1="138.2" y1="243.0" x2="138.2" y2="244.5" stroke="#9a9a9a" stroke-width="0.7"/>
<line x1="142.6" y1="243.0" x2="142.6" y2="244.5" stroke="#9a9a9a" stroke-width="0.7"/>
<line x1="147.1" y1="243.0" x2="147.1" y2="244.5" stroke="#9a9a9a" stroke-width="0.7"/>
<line x1="151.5" y1="243.0" x2="151.5" y2="244.5" stroke="#9a9a9a" stroke-width="0.7"/>
<line x1="155.9" y1="243.0" x2="155.9" y2="244.5" stroke="#9a9a9a" stroke-width="0.7"/>
<line x1="160.3" y1="243.0" x2="160.3" y2="244.5" stroke="#9a9a9a" stroke-width="0.7"/>
<line x1="164.7" y1="243.0" x2="164.7" y2="244.5" stroke="#9a9a9a" stroke-width="0.7"/>
<line x1="169.1" y1="243.0" x2="169.1" y2="244.5" stroke="#9a9a9a" stroke-width="0.7"/>
<line x1="173.5" y1="243.0" x2="173.5" y2="244.5" stroke="#9a9a9a" stroke-width="0.7"/>
<line x1="177.9" y1="243.0" x2="177.9" y2="244.5" stroke="#9a9a9a" stroke-width="0.7"/>
<line x1="182.3" y1="243.0" x2="182.3" y2="244.5" stroke="#9a9a9a" stroke-width="0.7"/>
<line x1="186.7" y1="243.0" x2="186.7" y2="244.5" stroke="#9a9a9a" stroke-width="0.7"/>
<line x1="191.1" y1="243.0" x2="191.1" y2="244.5" stroke="#9a9a9a" stroke-width="0.7"/>
<line x1="195.5" y1="243.0" x2="195.5" y2="244.5" stroke="#9a9a9a" stroke-width="0.7"/>
<line x1="199.9" y1="243.0" x2="199.9" y2="244.5" stroke="#9a9a9a" stroke-width="0.7"/>
<line x1="204.3" y1="243.0" x2="204.3" y2="244.5" stroke="#9a9a9a" stroke-width="0.7"/>
<line x1="208.7" y1="243.0" x2="208.7" y2="244.5" stroke="#9a9a9a" stroke-width="0.7"/>
<line x1="213.1" y1="243.0" x2="213.1" y2="244.5" stroke="#9a9a9a" stroke-width="0.7"/>
<line x1="217.5" y1="243.0" x2="217.5" y2="244.5" stroke="#9a9a9a" stroke-width="0.7"/>
<line x1="221.9" y1="243.0" x2="221.9" y2="244.5" stroke="#9a9a9a" stroke-width="0.7"/>
<line x1="226.4" y1="243.0" x2="226.4" y2="244.5" stroke="#9a9a9a" stroke-width="0.7"/>
<line x1="230.8" y1="243.0" x2="230.8" y2="244.5" stroke="#9a9a9a" stroke-width="0.7"/>
<line x1="235.2" y1="243.0" x2="235.2" y2="244.5" stroke="#9a9a9a" stroke-width="0.7"/>
<line x1="239.6" y1="243.0" x2="239.6" y2="244.5" stroke="#9a9a9a" stroke-width="0.7"/>
<line x1="244.0" y1="243.0" x2="244.0" y2="244.5" stroke="#9a9a9a" stroke-width="0.7"/>
<line x1="248.4" y1="243.0" x2="248.4" y2="244.5" stroke="#9a9a9a" stroke-width="0.7"/>
<line x1="252.8" y1="243.0" x2="252.8" y2="244.5" stroke="#9a9a9a" stroke-width="0.7"/>
<line x1="257.2" y1="243.0" x2="257.2" y2="244.5" stroke="#9a9a9a" stroke-width="0.7"/>
<line x1="261.6" y1="243.0" x2="261.6" y2="244.5" stroke="#9a9a9a" stroke-width="0.7"/>
<line x1="266.0" y1="243.0" x2="266.0" y2="244.5" stroke="#9a9a9a" stroke-width="0.7"/>
<text x="115.5" y="250.5" font-size="4.4" font-weight="bold" fill="#555" text-anchor="middle">7.7</text>
<text x="141.0" y="250.5" font-size="4.4" font-weight="bold" fill="#555" text-anchor="middle">7.6</text>
<text x="166.0" y="250.5" font-size="4.4" font-weight="bold" fill="#555" text-anchor="middle">7.5</text>
<text x="191.3" y="250.5" font-size="4.4" font-weight="bold" fill="#555" text-anchor="middle">7.4</text>
<text x="216.0" y="250.5" font-size="4.4" font-weight="bold" fill="#555" text-anchor="middle">7.3</text>
<text x="241.6" y="250.5" font-size="4.4" font-weight="bold" fill="#555" text-anchor="middle">7.2</text>
<text x="260.3" y="250.5" font-size="4.4" font-weight="bold" fill="#555" text-anchor="middle">[ppm]</text>
<polyline fill="none" stroke="#b2bcb2" stroke-width="1.1" stroke-linejoin="round"  points="104.0,179.55 104.5,179.01 105.0,179.24 105.5,178.83 106.0,179.23 106.5,179.18 107.0,179.63 107.5,179.80 108.0,180.60 108.5,180.54 109.0,180.68 110.0,181.54 111.0,181.35 111.5,180.90 112.5,179.17 113.0,179.47 113.5,180.49 114.0,179.29 114.5,178.98 115.0,178.86 116.0,178.18 116.5,178.64 117.0,179.59 117.5,179.40 118.0,178.65 118.5,178.90 120.0,180.28 120.5,180.25 121.5,179.76 122.0,179.89 122.5,179.73 123.5,178.81 124.0,177.80 124.5,177.25 125.5,177.50 126.0,177.24 126.5,177.53 127.0,177.33 127.5,178.10 128.0,178.58 128.5,178.74 129.0,178.52 129.5,178.51 130.0,179.18 131.0,178.06 131.5,178.16 132.0,178.63 132.5,177.84 133.5,177.97 134.5,177.22 135.0,177.70 135.5,177.76 136.0,177.67 136.5,176.66 137.0,177.54 138.0,178.65 138.5,178.88 139.5,179.64 140.0,179.79 140.5,180.37 141.0,180.61 141.5,179.99 142.5,179.12 143.0,179.26 143.5,178.88 144.5,178.99 145.0,178.18 146.5,179.19 147.0,179.93 148.0,179.68 148.5,179.06 149.0,178.71 149.5,178.92 150.0,178.51 150.5,178.28 151.0,178.27 152.0,178.67 152.5,178.70 154.5,180.75 155.0,180.79 155.5,180.34 156.5,180.82 157.0,180.56 157.5,180.72 158.0,180.18 158.5,180.07 159.0,179.76 159.5,179.93 160.0,179.84 160.5,178.98 161.0,178.80 161.5,179.32 162.0,178.42 162.5,179.12 163.0,178.31 164.0,177.70 164.5,178.08 165.0,178.15 165.5,177.80 166.0,177.95 166.5,178.60 167.0,178.16 167.5,179.19 168.0,179.47 168.5,180.42 169.0,180.69 169.5,180.72 170.0,180.94 170.5,180.65 171.5,181.07 172.0,180.52 172.5,180.42 173.0,180.05 173.5,179.14 174.0,178.86 174.5,179.25 175.0,178.70 175.5,178.64 176.0,178.87 177.0,180.82 177.5,180.51 178.0,180.64 178.5,181.42 179.0,181.46 179.5,182.52 180.0,182.87 180.5,182.52 181.5,180.73 182.0,180.81 182.5,181.46 183.0,180.77 184.0,180.20 184.5,180.20 185.0,179.94 186.0,180.02 186.5,179.53 187.0,179.53 187.5,180.08 188.0,179.87 188.5,179.44 189.0,178.69 189.5,179.58 190.0,179.45 190.5,179.67 191.0,179.71 191.5,179.65 192.5,178.65 193.5,179.08 194.0,178.39 195.0,178.82 195.5,179.24 196.0,179.41 196.5,179.83 197.0,180.82 198.0,181.10 199.0,181.13 199.5,180.60 200.5,181.18 201.0,180.90 201.5,180.22 202.0,180.10 202.5,179.82 203.0,180.18 203.5,179.60 204.0,180.59 204.5,180.70 205.5,179.44 206.0,179.66 206.5,180.07 207.0,180.23 207.5,179.61 208.0,180.22 208.5,179.68 209.0,178.76 209.5,178.59 210.0,179.64 210.5,180.09 211.0,179.91 212.0,180.05 212.5,179.98 213.5,181.29 214.0,181.57 214.5,180.89 215.0,180.95 215.5,180.67 216.0,181.10 217.0,181.17 217.5,180.40 218.5,179.59 219.0,179.99 219.5,179.59 220.5,179.76 221.5,180.32 222.0,180.17 222.5,181.03 223.0,180.89 223.5,180.10 224.5,180.18 225.0,179.18 225.5,179.45 226.0,178.69 226.5,178.40 227.0,177.72 227.5,177.84 228.0,178.49 228.5,178.64 229.0,178.45 229.5,179.26 230.0,178.26 230.5,179.03 231.0,180.28 231.5,180.39 232.5,181.37 233.5,181.19 234.0,179.82 235.0,180.31 235.5,179.60 236.0,179.23 236.5,179.09 237.0,178.70 238.0,178.90 238.5,180.01 239.0,180.05 240.5,180.79 241.5,180.87 242.5,180.66 243.0,180.35 243.5,180.42 244.0,179.61 245.0,179.37 245.5,178.90 246.0,178.91 246.5,178.38 248.5,178.82 249.0,177.67 250.0,178.21 250.5,177.85 251.0,178.48 251.5,178.43 252.5,177.74 253.0,177.77 253.5,178.49 254.0,178.25 254.5,178.35 255.0,179.13 255.5,178.63 256.0,178.43 256.5,179.29 257.0,179.32 257.5,179.20 258.5,179.56 259.0,179.41 259.5,179.07 260.5,180.27 261.0,180.09 261.5,179.72 262.0,180.04 262.5,180.99 263.0,180.73 263.5,181.14 264.0,180.69 265.5,179.90 266.0,180.97"/>
<polyline fill="none" stroke="#e48a97" stroke-width="1.1" stroke-linejoin="round"  points="104.0,216.64 105.0,216.31 106.5,215.41 107.0,215.21 109.5,215.92 110.0,216.19 112.5,216.79 113.5,217.48 114.0,217.58 115.0,217.29 115.5,217.60 116.5,217.28 117.0,216.85 117.5,216.73 119.0,216.85 120.5,218.10 121.5,218.72 122.5,220.10 123.0,221.05 123.5,221.69 124.0,221.98 124.5,222.61 126.0,228.58 126.5,229.26 127.5,229.14 129.0,229.73 130.0,229.92 130.5,230.34 131.0,230.51 132.0,230.06 132.5,230.31 133.0,230.13 133.5,230.20 134.5,228.53 135.0,228.05 135.5,227.94 136.0,227.47 137.0,225.34 137.5,224.70 138.0,225.07 138.5,226.03 139.0,226.41 139.5,225.48 140.0,224.05 141.0,220.44 141.5,219.82 142.5,219.31 143.5,218.41 144.0,218.30 144.5,218.38 146.5,217.76 147.0,217.72 147.5,217.42 148.0,217.33 148.5,217.48 149.0,217.30 149.5,217.37 150.0,217.63 151.0,217.89 152.0,219.09 152.5,220.10 153.0,220.27 153.5,220.94 154.5,224.15 155.5,225.62 156.0,226.84 156.5,227.72 157.0,227.54 157.5,227.21 158.5,226.30 159.0,226.87 159.5,227.95 160.0,228.33 160.5,227.21 162.0,218.11 162.5,216.96 163.5,216.89 164.5,216.32 165.5,216.86 166.5,216.76 167.0,216.26 168.0,215.96 168.5,215.65 169.5,215.63 170.0,215.47 171.5,215.60 172.0,215.32 173.5,215.09 174.0,215.49 174.5,215.63 175.0,215.20 175.5,215.18 176.0,214.84 177.0,215.18 178.0,214.68 179.5,215.03 180.0,214.94 181.0,215.12 182.0,215.62 182.5,215.57 183.0,215.71 183.5,215.63 184.0,215.36 185.0,215.49 185.5,215.29 186.0,215.73 186.5,215.58 187.5,216.22 188.5,215.97 189.5,217.18 191.5,222.92 192.0,223.90 192.5,224.01 193.0,223.97 194.0,225.02 195.0,226.51 195.5,226.76 196.5,227.58 197.5,226.20 198.5,223.23 199.5,221.18 200.0,220.61 200.5,220.27 202.5,217.83 203.0,217.06 203.5,216.64 204.5,216.70 205.5,217.07 206.0,217.14 207.0,217.78 207.5,217.84 208.0,218.17 209.0,218.35 210.0,219.23 210.5,219.94 211.0,220.98 211.5,221.64 212.5,223.45 213.0,223.88 214.0,224.38 214.5,224.50 216.0,225.90 217.0,227.22 217.5,227.29 218.0,227.14 219.0,225.17 220.5,220.89 221.0,219.96 222.5,219.24 223.5,217.88 226.0,216.21 227.0,216.73 227.5,216.86 228.0,217.25 228.5,217.32 229.5,218.05 231.0,218.93 233.0,219.91 234.0,220.56 234.5,220.56 235.0,220.97 236.5,223.03 238.5,224.79 239.0,224.77 239.5,224.14 240.5,222.79 241.0,221.67 242.0,220.42 242.5,220.05 243.5,220.12 244.5,219.63 246.0,218.39 247.5,217.30 248.0,217.07 249.0,216.08 249.5,216.13 251.0,215.48 251.5,215.39 252.5,215.88 253.0,215.79 254.0,216.22 254.5,216.60 255.0,216.82 255.5,216.67 257.0,216.93 257.5,216.82 258.0,216.94 258.5,216.74 259.5,216.75 260.0,216.41 261.0,216.16 261.5,215.83 263.0,215.47 263.5,215.81 264.0,215.53 266.0,215.78"/>
<rect x="265" y="159" width="2.5" height="2.5" fill="#222"/>
<rect x="297.5" y="159.5" width="163.0" height="84.0" fill="none" stroke="#cbcbcb" stroke-width="1"/>
<line x1="460.5" y1="160.0" x2="460.5" y2="243.0" stroke="#bababa" stroke-width="1"/>
<line x1="460.0" y1="160.0" x2="462.0" y2="160.0" stroke="#b0b0b0" stroke-width="0.8"/>
<line x1="460.0" y1="165.2" x2="462.0" y2="165.2" stroke="#b0b0b0" stroke-width="0.8"/>
<line x1="460.0" y1="170.4" x2="462.0" y2="170.4" stroke="#b0b0b0" stroke-width="0.8"/>
<line x1="460.0" y1="175.6" x2="462.0" y2="175.6" stroke="#b0b0b0" stroke-width="0.8"/>
<line x1="460.0" y1="180.8" x2="462.0" y2="180.8" stroke="#b0b0b0" stroke-width="0.8"/>
<line x1="460.0" y1="185.9" x2="462.0" y2="185.9" stroke="#b0b0b0" stroke-width="0.8"/>
<line x1="460.0" y1="191.1" x2="462.0" y2="191.1" stroke="#b0b0b0" stroke-width="0.8"/>
<line x1="460.0" y1="196.3" x2="462.0" y2="196.3" stroke="#b0b0b0" stroke-width="0.8"/>
<line x1="460.0" y1="201.5" x2="462.0" y2="201.5" stroke="#b0b0b0" stroke-width="0.8"/>
<line x1="460.0" y1="206.7" x2="462.0" y2="206.7" stroke="#b0b0b0" stroke-width="0.8"/>
<line x1="460.0" y1="211.9" x2="462.0" y2="211.9" stroke="#b0b0b0" stroke-width="0.8"/>
<line x1="460.0" y1="217.1" x2="462.0" y2="217.1" stroke="#b0b0b0" stroke-width="0.8"/>
<line x1="460.0" y1="222.2" x2="462.0" y2="222.2" stroke="#b0b0b0" stroke-width="0.8"/>
<line x1="460.0" y1="227.4" x2="462.0" y2="227.4" stroke="#b0b0b0" stroke-width="0.8"/>
<line x1="460.0" y1="232.6" x2="462.0" y2="232.6" stroke="#b0b0b0" stroke-width="0.8"/>
<line x1="460.0" y1="237.8" x2="462.0" y2="237.8" stroke="#b0b0b0" stroke-width="0.8"/>
<line x1="460.0" y1="243.0" x2="462.0" y2="243.0" stroke="#b0b0b0" stroke-width="0.8"/>
<rect x="463.8" y="159.8" width="2.4" height="7" fill="#999"/>
<rect x="463.8" y="184.0" width="2.4" height="7" fill="#b0b0b0"/>
<rect x="463.8" y="218.5" width="2.4" height="7" fill="#b0b0b0"/>
<line x1="297.0" y1="243.0" x2="297.0" y2="244.5" stroke="#9a9a9a" stroke-width="0.7"/>
<line x1="301.4" y1="243.0" x2="301.4" y2="244.5" stroke="#9a9a9a" stroke-width="0.7"/>
<line x1="305.8" y1="243.0" x2="305.8" y2="244.5" stroke="#9a9a9a" stroke-width="0.7"/>
<line x1="310.2" y1="243.0" x2="310.2" y2="244.5" stroke="#9a9a9a" stroke-width="0.7"/>
<line x1="314.6" y1="243.0" x2="314.6" y2="244.5" stroke="#9a9a9a" stroke-width="0.7"/>
<line x1="319.0" y1="243.0" x2="319.0" y2="244.5" stroke="#9a9a9a" stroke-width="0.7"/>
<line x1="323.4" y1="243.0" x2="323.4" y2="244.5" stroke="#9a9a9a" stroke-width="0.7"/>
<line x1="327.8" y1="243.0" x2="327.8" y2="244.5" stroke="#9a9a9a" stroke-width="0.7"/>
<line x1="332.2" y1="243.0" x2="332.2" y2="244.5" stroke="#9a9a9a" stroke-width="0.7"/>
<line x1="336.6" y1="243.0" x2="336.6" y2="244.5" stroke="#9a9a9a" stroke-width="0.7"/>
<line x1="341.1" y1="243.0" x2="341.1" y2="244.5" stroke="#9a9a9a" stroke-width="0.7"/>
<line x1="345.5" y1="243.0" x2="345.5" y2="244.5" stroke="#9a9a9a" stroke-width="0.7"/>
<line x1="349.9" y1="243.0" x2="349.9" y2="244.5" stroke="#9a9a9a" stroke-width="0.7"/>
<line x1="354.3" y1="243.0" x2="354.3" y2="244.5" stroke="#9a9a9a" stroke-width="0.7"/>
<line x1="358.7" y1="243.0" x2="358.7" y2="244.5" stroke="#9a9a9a" stroke-width="0.7"/>
<line x1="363.1" y1="243.0" x2="363.1" y2="244.5" stroke="#9a9a9a" stroke-width="0.7"/>
<line x1="367.5" y1="243.0" x2="367.5" y2="244.5" stroke="#9a9a9a" stroke-width="0.7"/>
<line x1="371.9" y1="243.0" x2="371.9" y2="244.5" stroke="#9a9a9a" stroke-width="0.7"/>
<line x1="376.3" y1="243.0" x2="376.3" y2="244.5" stroke="#9a9a9a" stroke-width="0.7"/>
<line x1="380.7" y1="243.0" x2="380.7" y2="244.5" stroke="#9a9a9a" stroke-width="0.7"/>
<line x1="385.1" y1="243.0" x2="385.1" y2="244.5" stroke="#9a9a9a" stroke-width="0.7"/>
<line x1="389.5" y1="243.0" x2="389.5" y2="244.5" stroke="#9a9a9a" stroke-width="0.7"/>
<line x1="393.9" y1="243.0" x2="393.9" y2="244.5" stroke="#9a9a9a" stroke-width="0.7"/>
<line x1="398.3" y1="243.0" x2="398.3" y2="244.5" stroke="#9a9a9a" stroke-width="0.7"/>
<line x1="402.7" y1="243.0" x2="402.7" y2="244.5" stroke="#9a9a9a" stroke-width="0.7"/>
<line x1="407.1" y1="243.0" x2="407.1" y2="244.5" stroke="#9a9a9a" stroke-width="0.7"/>
<line x1="411.5" y1="243.0" x2="411.5" y2="244.5" stroke="#9a9a9a" stroke-width="0.7"/>
<line x1="415.9" y1="243.0" x2="415.9" y2="244.5" stroke="#9a9a9a" stroke-width="0.7"/>
<line x1="420.4" y1="243.0" x2="420.4" y2="244.5" stroke="#9a9a9a" stroke-width="0.7"/>
<line x1="424.8" y1="243.0" x2="424.8" y2="244.5" stroke="#9a9a9a" stroke-width="0.7"/>
<line x1="429.2" y1="243.0" x2="429.2" y2="244.5" stroke="#9a9a9a" stroke-width="0.7"/>
<line x1="433.6" y1="243.0" x2="433.6" y2="244.5" stroke="#9a9a9a" stroke-width="0.7"/>
<line x1="438.0" y1="243.0" x2="438.0" y2="244.5" stroke="#9a9a9a" stroke-width="0.7"/>
<line x1="442.4" y1="243.0" x2="442.4" y2="244.5" stroke="#9a9a9a" stroke-width="0.7"/>
<line x1="446.8" y1="243.0" x2="446.8" y2="244.5" stroke="#9a9a9a" stroke-width="0.7"/>
<line x1="451.2" y1="243.0" x2="451.2" y2="244.5" stroke="#9a9a9a" stroke-width="0.7"/>
<line x1="455.6" y1="243.0" x2="455.6" y2="244.5" stroke="#9a9a9a" stroke-width="0.7"/>
<line x1="460.0" y1="243.0" x2="460.0" y2="244.5" stroke="#9a9a9a" stroke-width="0.7"/>
<text x="309.5" y="250.5" font-size="4.4" font-weight="bold" fill="#555" text-anchor="middle">7.7</text>
<text x="335.0" y="250.5" font-size="4.4" font-weight="bold" fill="#555" text-anchor="middle">7.6</text>
<text x="360.0" y="250.5" font-size="4.4" font-weight="bold" fill="#555" text-anchor="middle">7.5</text>
<text x="385.3" y="250.5" font-size="4.4" font-weight="bold" fill="#555" text-anchor="middle">7.4</text>
<text x="410.0" y="250.5" font-size="4.4" font-weight="bold" fill="#555" text-anchor="middle">7.3</text>
<text x="435.6" y="250.5" font-size="4.4" font-weight="bold" fill="#555" text-anchor="middle">7.2</text>
<text x="454.3" y="250.5" font-size="4.4" font-weight="bold" fill="#555" text-anchor="middle">[ppm]</text>
<polyline fill="none" stroke="#b2bcb2" stroke-width="1.1" stroke-linejoin="round"  points="298.0,176.53 299.0,176.83 299.5,177.10 300.0,176.96 300.5,177.64 301.0,177.96 301.5,178.08 302.0,178.44 302.5,179.02 303.5,179.65 304.0,179.17 304.5,179.57 305.0,178.86 305.5,179.07 306.0,178.02 306.5,177.95 307.5,177.24 308.0,177.41 308.5,178.06 309.0,177.57 310.0,177.17 310.5,177.13 311.0,176.75 311.5,177.25 312.0,176.72 312.5,176.52 313.0,176.50 314.0,176.87 314.5,176.55 315.0,177.29 316.0,177.81 316.5,178.24 317.5,177.71 318.0,177.75 319.0,178.52 320.0,178.30 320.5,177.56 321.5,176.96 322.0,176.21 322.5,176.16 323.0,175.80 323.5,176.12 324.5,175.10 325.0,175.55 325.5,175.78 327.0,177.77 327.5,177.79 328.0,177.26 328.5,177.30 329.0,177.61 329.5,176.92 330.0,177.13 330.5,176.28 331.0,176.35 331.5,175.87 332.0,176.24 332.5,175.62 333.0,176.05 333.5,175.98 334.0,176.67 334.5,176.34 335.0,177.56 336.0,177.02 337.0,177.02 337.5,176.58 338.0,176.74 339.5,176.64 340.0,177.49 340.5,177.98 341.0,177.87 342.5,180.13 343.0,180.27 343.5,180.21 344.0,180.00 345.0,179.23 345.5,179.20 346.0,178.53 347.0,176.30 347.5,176.17 348.0,176.43 348.5,175.79 349.0,175.45 349.5,175.89 350.0,175.54 350.5,175.84 351.0,175.94 351.5,177.03 352.0,176.80 353.0,177.70 354.0,177.30 355.5,178.55 356.0,178.10 356.5,178.43 357.0,177.69 358.0,177.64 358.5,176.99 359.0,176.79 360.0,176.03 360.5,175.45 361.0,175.53 361.5,176.08 362.0,175.60 362.5,176.31 363.0,176.72 364.0,176.55 365.0,177.25 365.5,177.05 366.5,178.28 367.5,177.46 368.5,177.69 369.0,177.34 369.5,176.57 370.0,176.54 370.5,175.17 371.0,175.60 371.5,175.54 372.0,176.22 372.5,176.48 373.0,176.45 373.5,176.73 374.0,177.39 374.5,177.21 375.0,177.57 375.5,176.16 376.0,176.71 377.0,176.41 377.5,177.14 378.0,176.73 378.5,176.02 379.0,176.23 379.5,175.95 380.0,176.59 380.5,175.93 381.5,175.37 382.0,174.87 382.5,175.44 383.0,176.42 384.0,177.40 384.5,177.56 386.0,178.36 386.5,177.94 388.0,175.93 388.5,175.76 389.0,175.77 389.5,176.07 390.0,175.73 390.5,175.05 391.5,175.60 392.0,175.57 393.0,174.81 393.5,175.33 394.5,175.23 395.0,175.79 395.5,176.05 396.0,176.14 396.5,176.85 397.5,176.92 398.5,176.33 399.0,176.91 399.5,177.07 400.5,177.14 401.0,176.98 402.0,178.40 402.5,177.93 403.5,178.19 404.0,177.88 405.0,178.37 405.5,178.99 406.0,179.09 406.5,178.54 407.0,178.83 408.0,178.41 408.5,178.80 409.0,178.82 410.0,177.75 410.5,177.44 411.0,177.89 411.5,177.93 412.0,178.66 412.5,178.07 413.0,178.04 413.5,177.18 414.5,178.10 415.0,177.98 416.0,178.58 416.5,178.11 417.0,178.73 418.0,179.33 419.0,178.04 419.5,177.69 420.0,177.49 420.5,176.04 421.5,174.27 422.0,174.02 422.5,174.18 423.0,174.52 424.0,174.64 424.5,174.16 426.0,176.31 426.5,176.21 427.5,176.40 429.0,178.73 429.5,178.03 430.5,178.68 431.0,178.87 431.5,178.33 432.0,178.21 432.5,178.40 433.5,176.76 434.0,177.33 434.5,177.46 435.5,176.46 436.0,176.23 436.5,176.39 437.0,174.93 437.5,175.32 438.0,176.21 438.5,176.40 439.0,176.07 439.5,176.00 440.5,176.80 441.0,176.41 442.5,177.08 443.0,176.97 443.5,177.16 444.0,177.10 444.5,177.23 446.0,179.28 447.5,178.41 448.0,178.48 448.5,178.02 449.0,178.04 450.0,177.51 450.5,176.52 451.0,176.59 452.0,175.30 452.5,175.00 453.0,175.54 453.5,174.91 454.0,174.89 454.5,174.69 455.0,175.32 455.5,174.56 456.5,176.09 457.0,176.06 457.5,175.70 458.0,176.01 459.5,175.54 460.0,176.06"/>
<polyline fill="none" stroke="#e48a97" stroke-width="1.1" stroke-linejoin="round"  points="298.0,218.00 298.5,217.74 299.0,217.90 300.5,217.88 301.0,217.71 302.0,217.61 302.5,217.33 303.5,217.18 304.0,217.44 305.0,217.35 305.5,217.46 307.0,216.99 307.5,216.55 308.0,216.31 308.5,216.52 309.0,216.25 309.5,216.39 310.5,216.39 311.5,216.65 312.5,217.21 313.0,217.26 314.0,217.87 314.5,218.31 315.0,218.36 315.5,218.08 316.0,217.99 317.0,217.92 317.5,218.05 318.0,217.77 319.0,217.76 319.5,218.56 321.0,221.78 321.5,222.57 322.0,222.99 322.5,223.00 323.5,222.54 324.0,222.59 324.5,222.33 325.0,222.23 325.5,222.76 326.0,223.52 327.0,224.04 327.5,223.64 328.5,224.02 329.0,223.96 329.5,224.11 331.0,225.29 332.0,225.56 332.5,225.18 333.5,223.89 334.0,223.05 335.0,222.38 337.0,220.25 338.5,217.39 340.5,215.69 341.0,215.76 341.5,216.14 342.0,216.87 342.5,217.13 343.0,217.58 343.5,217.72 344.0,217.66 344.5,217.86 345.5,217.83 346.5,217.48 347.0,217.54 347.5,218.18 349.5,220.12 350.5,220.86 351.0,220.94 352.0,220.86 352.5,220.35 353.0,220.03 354.5,218.23 355.5,217.84 356.0,217.89 356.5,217.65 357.5,218.05 358.0,218.09 359.5,217.44 360.5,217.92 361.0,217.81 361.5,217.88 364.0,216.80 365.0,216.67 366.5,217.06 368.0,216.55 368.5,216.17 370.0,216.04 371.0,216.38 372.0,217.23 373.0,217.36 373.5,217.27 374.5,217.51 375.5,217.28 376.5,217.66 377.0,217.57 377.5,217.80 378.0,217.87 378.5,218.14 379.0,218.70 379.5,218.64 380.0,219.03 380.5,219.19 381.0,219.13 381.5,219.36 382.0,219.16 383.0,219.35 383.5,219.18 384.5,219.78 385.0,219.83 385.5,220.54 386.0,220.49 386.5,220.73 387.0,221.22 388.0,221.81 390.0,223.60 391.0,223.82 391.5,223.68 392.0,223.71 393.5,221.33 394.5,220.00 395.5,218.90 396.0,218.53 396.5,218.35 397.0,218.58 397.5,218.26 398.0,218.58 398.5,218.32 400.5,217.88 401.0,217.93 401.5,217.73 402.5,217.70 403.5,217.99 404.0,217.67 406.0,218.06 406.5,218.59 407.0,218.92 408.0,220.19 409.0,221.07 410.5,221.95 411.5,222.01 412.0,221.84 413.0,221.72 413.5,221.34 414.5,220.35 416.0,218.50 416.5,218.13 417.0,217.23 418.0,216.22 419.0,216.07 419.5,216.14 420.0,216.01 420.5,216.28 421.0,216.07 421.5,216.46 422.0,216.15 422.5,216.04 423.0,216.09 424.0,216.49 424.5,216.90 425.0,216.69 425.5,217.25 426.0,217.40 426.5,217.82 427.5,217.66 428.0,217.78 429.0,218.74 429.5,219.56 430.0,219.97 431.0,221.36 431.5,221.83 432.5,222.47 433.5,222.65 435.0,221.79 435.5,221.66 436.0,221.11 437.0,219.43 437.5,219.18 438.0,218.65 438.5,218.32 439.0,217.49 439.5,216.94 441.0,216.52 441.5,216.82 443.0,217.37 444.5,217.58 445.0,217.24 445.5,217.11 447.0,217.89 448.0,217.77 449.0,218.08 449.5,218.04 450.0,217.65 450.5,217.86 451.5,217.57 452.0,217.61 453.0,217.45 454.0,217.04 456.0,217.21 457.5,216.79 458.0,217.12 458.5,217.11 459.5,216.52 460.0,216.53 460.5,216.77 461.0,216.75"/>
<circle cx="460.0" cy="200.9" r="1.7" fill="#b01838"/>
<rect x="459" y="159" width="2.5" height="2.5" fill="#222"/>
<rect x="489.5" y="159.5" width="163.0" height="84.0" fill="none" stroke="#cbcbcb" stroke-width="1"/>
<line x1="652.5" y1="160.0" x2="652.5" y2="243.0" stroke="#bababa" stroke-width="1"/>
<line x1="652.0" y1="160.0" x2="654.0" y2="160.0" stroke="#b0b0b0" stroke-width="0.8"/>
<line x1="652.0" y1="165.2" x2="654.0" y2="165.2" stroke="#b0b0b0" stroke-width="0.8"/>
<line x1="652.0" y1="170.4" x2="654.0" y2="170.4" stroke="#b0b0b0" stroke-width="0.8"/>
<line x1="652.0" y1="175.6" x2="654.0" y2="175.6" stroke="#b0b0b0" stroke-width="0.8"/>
<line x1="652.0" y1="180.8" x2="654.0" y2="180.8" stroke="#b0b0b0" stroke-width="0.8"/>
<line x1="652.0" y1="185.9" x2="654.0" y2="185.9" stroke="#b0b0b0" stroke-width="0.8"/>
<line x1="652.0" y1="191.1" x2="654.0" y2="191.1" stroke="#b0b0b0" stroke-width="0.8"/>
<line x1="652.0" y1="196.3" x2="654.0" y2="196.3" stroke="#b0b0b0" stroke-width="0.8"/>
<line x1="652.0" y1="201.5" x2="654.0" y2="201.5" stroke="#b0b0b0" stroke-width="0.8"/>
<line x1="652.0" y1="206.7" x2="654.0" y2="206.7" stroke="#b0b0b0" stroke-width="0.8"/>
<line x1="652.0" y1="211.9" x2="654.0" y2="211.9" stroke="#b0b0b0" stroke-width="0.8"/>
<line x1="652.0" y1="217.1" x2="654.0" y2="217.1" stroke="#b0b0b0" stroke-width="0.8"/>
<line x1="652.0" y1="222.2" x2="654.0" y2="222.2" stroke="#b0b0b0" stroke-width="0.8"/>
<line x1="652.0" y1="227.4" x2="654.0" y2="227.4" stroke="#b0b0b0" stroke-width="0.8"/>
<line x1="652.0" y1="232.6" x2="654.0" y2="232.6" stroke="#b0b0b0" stroke-width="0.8"/>
<line x1="652.0" y1="237.8" x2="654.0" y2="237.8" stroke="#b0b0b0" stroke-width="0.8"/>
<line x1="652.0" y1="243.0" x2="654.0" y2="243.0" stroke="#b0b0b0" stroke-width="0.8"/>
<rect x="655.8" y="159.8" width="2.4" height="7" fill="#999"/>
<rect x="655.8" y="184.0" width="2.4" height="7" fill="#b0b0b0"/>
<rect x="655.8" y="218.5" width="2.4" height="7" fill="#b0b0b0"/>
<line x1="489.0" y1="243.0" x2="489.0" y2="244.5" stroke="#9a9a9a" stroke-width="0.7"/>
<line x1="493.4" y1="243.0" x2="493.4" y2="244.5" stroke="#9a9a9a" stroke-width="0.7"/>
<line x1="497.8" y1="243.0" x2="497.8" y2="244.5" stroke="#9a9a9a" stroke-width="0.7"/>
<line x1="502.2" y1="243.0" x2="502.2" y2="244.5" stroke="#9a9a9a" stroke-width="0.7"/>
<line x1="506.6" y1="243.0" x2="506.6" y2="244.5" stroke="#9a9a9a" stroke-width="0.7"/>
<line x1="511.0" y1="243.0" x2="511.0" y2="244.5" stroke="#9a9a9a" stroke-width="0.7"/>
<line x1="515.4" y1="243.0" x2="515.4" y2="244.5" stroke="#9a9a9a" stroke-width="0.7"/>
<line x1="519.8" y1="243.0" x2="519.8" y2="244.5" stroke="#9a9a9a" stroke-width="0.7"/>
<line x1="524.2" y1="243.0" x2="524.2" y2="244.5" stroke="#9a9a9a" stroke-width="0.7"/>
<line x1="528.6" y1="243.0" x2="528.6" y2="244.5" stroke="#9a9a9a" stroke-width="0.7"/>
<line x1="533.1" y1="243.0" x2="533.1" y2="244.5" stroke="#9a9a9a" stroke-width="0.7"/>
<line x1="537.5" y1="243.0" x2="537.5" y2="244.5" stroke="#9a9a9a" stroke-width="0.7"/>
<line x1="541.9" y1="243.0" x2="541.9" y2="244.5" stroke="#9a9a9a" stroke-width="0.7"/>
<line x1="546.3" y1="243.0" x2="546.3" y2="244.5" stroke="#9a9a9a" stroke-width="0.7"/>
<line x1="550.7" y1="243.0" x2="550.7" y2="244.5" stroke="#9a9a9a" stroke-width="0.7"/>
<line x1="555.1" y1="243.0" x2="555.1" y2="244.5" stroke="#9a9a9a" stroke-width="0.7"/>
<line x1="559.5" y1="243.0" x2="559.5" y2="244.5" stroke="#9a9a9a" stroke-width="0.7"/>
<line x1="563.9" y1="243.0" x2="563.9" y2="244.5" stroke="#9a9a9a" stroke-width="0.7"/>
<line x1="568.3" y1="243.0" x2="568.3" y2="244.5" stroke="#9a9a9a" stroke-width="0.7"/>
<line x1="572.7" y1="243.0" x2="572.7" y2="244.5" stroke="#9a9a9a" stroke-width="0.7"/>
<line x1="577.1" y1="243.0" x2="577.1" y2="244.5" stroke="#9a9a9a" stroke-width="0.7"/>
<line x1="581.5" y1="243.0" x2="581.5" y2="244.5" stroke="#9a9a9a" stroke-width="0.7"/>
<line x1="585.9" y1="243.0" x2="585.9" y2="244.5" stroke="#9a9a9a" stroke-width="0.7"/>
<line x1="590.3" y1="243.0" x2="590.3" y2="244.5" stroke="#9a9a9a" stroke-width="0.7"/>
<line x1="594.7" y1="243.0" x2="594.7" y2="244.5" stroke="#9a9a9a" stroke-width="0.7"/>
<line x1="599.1" y1="243.0" x2="599.1" y2="244.5" stroke="#9a9a9a" stroke-width="0.7"/>
<line x1="603.5" y1="243.0" x2="603.5" y2="244.5" stroke="#9a9a9a" stroke-width="0.7"/>
<line x1="607.9" y1="243.0" x2="607.9" y2="244.5" stroke="#9a9a9a" stroke-width="0.7"/>
<line x1="612.4" y1="243.0" x2="612.4" y2="244.5" stroke="#9a9a9a" stroke-width="0.7"/>
<line x1="616.8" y1="243.0" x2="616.8" y2="244.5" stroke="#9a9a9a" stroke-width="0.7"/>
<line x1="621.2" y1="243.0" x2="621.2" y2="244.5" stroke="#9a9a9a" stroke-width="0.7"/>
<line x1="625.6" y1="243.0" x2="625.6" y2="244.5" stroke="#9a9a9a" stroke-width="0.7"/>
<line x1="630.0" y1="243.0" x2="630.0" y2="244.5" stroke="#9a9a9a" stroke-width="0.7"/>
<line x1="634.4" y1="243.0" x2="634.4" y2="244.5" stroke="#9a9a9a" stroke-width="0.7"/>
<line x1="638.8" y1="243.0" x2="638.8" y2="244.5" stroke="#9a9a9a" stroke-width="0.7"/>
<line x1="643.2" y1="243.0" x2="643.2" y2="244.5" stroke="#9a9a9a" stroke-width="0.7"/>
<line x1="647.6" y1="243.0" x2="647.6" y2="244.5" stroke="#9a9a9a" stroke-width="0.7"/>
<line x1="652.0" y1="243.0" x2="652.0" y2="244.5" stroke="#9a9a9a" stroke-width="0.7"/>
<text x="501.5" y="250.5" font-size="4.4" font-weight="bold" fill="#555" text-anchor="middle">7.7</text>
<text x="527.0" y="250.5" font-size="4.4" font-weight="bold" fill="#555" text-anchor="middle">7.6</text>
<text x="552.0" y="250.5" font-size="4.4" font-weight="bold" fill="#555" text-anchor="middle">7.5</text>
<text x="577.3" y="250.5" font-size="4.4" font-weight="bold" fill="#555" text-anchor="middle">7.4</text>
<text x="602.0" y="250.5" font-size="4.4" font-weight="bold" fill="#555" text-anchor="middle">7.3</text>
<text x="627.6" y="250.5" font-size="4.4" font-weight="bold" fill="#555" text-anchor="middle">7.2</text>
<text x="646.3" y="250.5" font-size="4.4" font-weight="bold" fill="#555" text-anchor="middle">[ppm]</text>
<polyline fill="none" stroke="#b2bcb2" stroke-width="1.1" stroke-linejoin="round"  points="490.0,178.29 491.0,177.05 491.5,176.63 492.0,176.98 492.5,176.82 493.5,175.62 494.5,175.44 495.0,175.48 495.5,175.96 496.0,176.67 496.5,176.72 497.0,176.44 498.0,176.22 498.5,175.96 499.5,176.98 500.0,177.10 500.5,177.04 501.0,176.27 501.5,176.07 502.5,177.02 503.0,176.62 503.5,176.99 504.0,176.03 504.5,175.72 505.0,175.04 506.0,176.06 507.0,175.91 507.5,176.59 508.0,175.91 508.5,176.20 509.0,175.90 509.5,176.08 510.0,175.60 510.5,174.82 511.0,175.15 511.5,174.60 512.0,173.38 512.5,173.77 513.0,173.59 514.0,174.55 514.5,174.52 515.5,174.84 516.0,174.66 516.5,175.02 517.0,174.58 518.0,174.98 519.0,174.31 519.5,175.21 520.0,175.05 520.5,175.58 521.0,176.60 522.0,177.72 522.5,177.10 523.0,177.15 523.5,178.28 524.5,177.75 525.5,176.93 526.0,176.70 526.5,176.80 527.5,177.57 528.0,177.08 529.0,176.94 529.5,177.52 530.5,177.57 531.0,176.98 531.5,176.89 532.5,176.18 533.0,176.06 533.5,176.42 534.0,176.14 534.5,176.52 535.0,176.50 535.5,177.11 536.0,177.19 536.5,176.65 537.0,176.36 537.5,176.51 538.0,176.14 538.5,176.12 539.0,175.76 539.5,175.76 540.0,175.49 540.5,174.95 541.0,175.99 541.5,175.87 542.0,176.05 542.5,176.02 543.0,176.47 544.0,176.29 544.5,176.68 545.0,176.78 545.5,175.61 546.0,176.12 546.5,174.98 547.0,174.91 547.5,174.36 548.0,174.48 549.5,173.48 550.0,174.28 550.5,174.42 551.5,176.54 552.0,177.06 552.5,177.21 553.0,177.13 553.5,176.80 554.0,177.94 554.5,177.29 555.0,177.28 555.5,177.12 556.5,176.26 557.0,175.98 558.0,177.14 558.5,176.56 559.5,177.56 560.0,177.75 560.5,177.26 561.0,177.57 561.5,177.53 562.0,177.38 562.5,176.38 563.5,176.49 564.0,175.65 564.5,175.29 565.0,175.16 565.5,174.83 566.0,174.76 567.0,176.37 567.5,175.93 569.0,177.15 570.0,178.36 570.5,178.80 571.0,177.96 571.5,177.40 572.0,177.83 572.5,177.52 573.5,178.42 574.0,178.27 574.5,178.51 575.0,178.37 575.5,178.73 576.5,178.59 577.0,178.73 577.5,178.27 578.0,177.22 578.5,177.14 579.0,176.85 579.5,176.97 580.0,176.54 580.5,177.18 581.0,177.07 581.5,176.70 582.5,177.63 583.0,177.67 583.5,177.27 584.0,175.92 584.5,176.44 585.0,176.62 586.5,174.41 588.0,174.86 588.5,175.61 589.0,174.96 589.5,174.59 590.0,175.02 590.5,176.31 591.0,176.71 592.0,175.92 593.0,176.52 594.0,175.80 595.0,175.42 595.5,174.79 596.0,174.81 596.5,175.21 597.0,175.09 597.5,174.60 598.0,175.42 598.5,175.56 599.0,176.18 599.5,175.14 600.0,175.55 601.0,175.62 601.5,175.41 602.0,175.66 602.5,174.89 603.0,175.27 603.5,174.87 604.0,176.52 604.5,176.38 605.0,175.61 605.5,175.78 606.0,175.52 606.5,175.54 607.0,175.93 607.5,175.61 608.0,175.58 608.5,175.05 609.5,176.31 610.0,175.78 610.5,175.94 611.0,176.55 611.5,176.89 612.0,176.92 612.5,177.54 613.0,176.77 613.5,176.65 614.5,177.67 615.0,177.89 615.5,177.70 616.0,177.10 616.5,177.67 617.0,177.96 617.5,178.03 618.0,177.66 619.0,177.33 620.0,176.11 620.5,176.15 621.0,175.78 621.5,175.66 622.0,176.29 622.5,176.28 623.0,176.11 623.5,175.77 624.0,176.52 625.5,177.54 626.5,176.86 627.5,176.51 628.0,177.20 628.5,176.45 629.0,176.83 629.5,176.56 630.0,175.85 630.5,176.22 631.0,176.01 631.5,176.24 632.5,176.06 633.0,176.61 633.5,176.05 634.0,176.29 634.5,176.71 635.0,176.11 636.5,177.54 637.0,176.74 638.0,177.22 638.5,177.88 639.0,177.93 639.5,178.12 640.0,177.26 640.5,177.51 641.0,177.00 641.5,177.51 642.0,177.36 642.5,177.85 643.0,177.00 643.5,177.40 644.0,177.23 644.5,177.77 645.5,178.05 646.0,177.87 646.5,177.07 648.0,175.55 648.5,175.98 649.0,176.08 649.5,175.02 650.0,175.68 650.5,175.61 651.0,176.09 651.5,176.02 652.0,177.43"/>
<polyline fill="none" stroke="#e48a97" stroke-width="1.1" stroke-linejoin="round"  points="490.0,216.08 490.5,215.87 491.5,216.47 492.0,216.28 493.0,217.12 493.5,217.32 494.0,217.36 494.5,217.05 495.5,217.62 496.0,217.60 496.5,217.78 497.5,217.12 498.0,217.07 498.5,217.18 499.0,217.50 499.5,217.61 500.0,217.11 501.0,217.70 501.5,217.74 502.0,218.08 502.5,217.98 503.0,218.30 504.0,217.69 504.5,217.56 505.0,217.70 505.5,217.42 506.0,217.44 506.5,216.80 507.0,216.89 508.0,216.47 508.5,216.58 509.0,216.51 509.5,215.47 510.0,215.50 510.5,215.88 511.0,215.62 511.5,215.53 512.0,215.69 512.5,216.06 513.0,215.98 513.5,216.21 514.0,217.15 514.5,217.30 515.0,216.84 516.0,217.21 516.5,217.04 517.0,216.51 517.5,216.67 518.0,216.61 518.5,216.19 519.0,216.30 519.5,216.69 520.0,216.80 520.5,216.54 521.5,217.02 522.0,216.80 522.5,217.11 523.5,216.42 525.0,216.38 525.5,215.93 526.0,216.03 526.5,215.93 527.0,215.99 527.5,216.49 528.5,215.78 529.0,215.92 529.5,216.56 530.5,216.77 531.0,217.30 531.5,217.05 532.0,216.29 532.5,216.92 533.0,217.23 533.5,216.97 534.0,217.20 534.5,217.08 535.5,216.39 536.0,216.79 536.5,216.95 537.5,216.34 538.0,216.82 538.5,216.07 539.0,216.70 539.5,216.75 540.0,216.67 540.5,215.79 542.0,216.38 542.5,215.82 543.0,216.45 544.0,216.29 544.5,216.42 545.5,217.03 546.0,217.02 546.5,216.84 547.0,217.14 547.5,217.17 548.0,216.58 549.5,217.56 550.0,217.32 551.0,217.42 552.0,216.95 552.5,217.22 553.5,216.16 554.5,215.66 555.0,215.59 555.5,215.87 556.0,215.98 557.0,215.14 558.0,216.73 558.5,217.08 559.0,217.83 559.5,218.05 560.5,217.49 561.5,217.91 563.5,217.17 564.0,217.47 564.5,218.15 565.0,218.57 565.5,218.68 566.5,218.61 567.5,217.75 568.0,217.82 568.5,217.07 569.0,216.61 569.5,216.65 570.0,216.93 570.5,216.20 571.0,216.07 571.5,216.29 572.0,216.73 572.5,216.77 573.0,217.54 574.0,217.42 574.5,217.02 575.0,218.73 575.5,219.25 576.0,219.03 576.5,218.33 577.0,218.68 577.5,217.70 578.0,218.31 578.5,218.20 579.0,217.59 579.5,216.52 580.0,216.22 580.5,216.57 581.0,217.43 582.0,217.20 582.5,216.38 583.0,215.90 583.5,216.42 584.0,216.67 584.5,216.66 585.5,216.22 586.0,216.33 586.5,216.86 587.0,217.04 587.5,216.69 588.0,216.90 588.5,216.79 589.5,216.96 590.0,216.84 590.5,216.54 591.0,216.52 591.5,216.19 592.0,216.68 592.5,216.80 593.0,216.70 593.5,216.38 594.0,215.86 594.5,215.70 595.0,215.81 595.5,215.73 596.5,216.66 597.0,216.24 597.5,216.34 598.0,216.84 598.5,216.99 599.0,217.66 599.5,217.16 600.5,217.09 601.0,216.89 601.5,216.89 602.0,217.12 602.5,216.89 603.0,217.39 603.5,216.31 604.0,216.57 604.5,216.55 605.5,216.93 606.0,216.67 606.5,216.99 607.0,216.53 607.5,216.29 608.0,217.02 609.0,217.20 609.5,216.46 610.0,216.62 610.5,216.95 611.0,216.29 611.5,216.59 612.0,216.52 612.5,216.08 613.0,216.15 613.5,216.01 614.0,216.23 614.5,215.83 615.0,216.07 616.5,216.20 617.0,216.42 617.5,216.33 618.0,216.48 618.5,216.09 619.0,216.09 619.5,216.42 620.0,216.53 620.5,216.21 621.5,217.30 622.5,217.33 623.0,217.95 623.5,217.49 624.5,217.01 625.5,216.98 626.0,216.20 626.5,216.31 627.0,216.27 627.5,215.94 628.0,216.88 628.5,216.72 629.5,217.19 630.0,216.58 630.5,217.30 631.0,217.48 632.0,218.10 632.5,218.04 633.0,218.49 633.5,218.25 634.0,218.85 634.5,218.66 635.0,218.24 635.5,218.21 636.0,217.95 636.5,217.53 637.0,217.85 637.5,217.14 638.0,217.31 638.5,216.94 639.0,217.47 639.5,217.26 640.0,216.67 640.5,216.55 641.0,216.73 641.5,215.92 642.0,216.13 643.0,216.89 643.5,216.19 644.0,217.02 644.5,217.06 645.0,216.87 646.0,217.32 646.5,217.38 647.0,217.17 647.5,216.69 648.0,216.99 648.5,216.38 649.5,217.02 650.0,216.72 652.0,216.43"/>
<circle cx="652.0" cy="200.9" r="1.7" fill="#b01838"/>
<rect x="651" y="159" width="2.5" height="2.5" fill="#222"/>
<text x="159.1" y="170.0" font-size="9.24" fill="#5c855c" font-weight="bold" text-anchor="start" textLength="103.8" lengthAdjust="spacingAndGlyphs" stroke="#5c855c" stroke-width="0.1">Compound alone (50 µM)</text>
<text x="110.2" y="206.2" font-size="9.24" fill="#d3283e" font-weight="bold" text-anchor="start" textLength="153.1" lengthAdjust="spacingAndGlyphs" stroke="#d3283e" stroke-width="0.25">Compound (50 µM) + Protein (2.5 µM)</text>
<rect x="104.5" y="306.0" width="165.0" height="115.5" fill="none" stroke="#cbcbcb" stroke-width="1"/>
<line x1="269.5" y1="306.0" x2="269.5" y2="421.0" stroke="#bababa" stroke-width="1"/>
<line x1="269.0" y1="306.0" x2="271.0" y2="306.0" stroke="#b0b0b0" stroke-width="0.8"/>
<line x1="269.0" y1="314.2" x2="271.0" y2="314.2" stroke="#b0b0b0" stroke-width="0.8"/>
<line x1="269.0" y1="322.4" x2="271.0" y2="322.4" stroke="#b0b0b0" stroke-width="0.8"/>
<line x1="269.0" y1="330.6" x2="271.0" y2="330.6" stroke="#b0b0b0" stroke-width="0.8"/>
<line x1="269.0" y1="338.9" x2="271.0" y2="338.9" stroke="#b0b0b0" stroke-width="0.8"/>
<line x1="269.0" y1="347.1" x2="271.0" y2="347.1" stroke="#b0b0b0" stroke-width="0.8"/>
<line x1="269.0" y1="355.3" x2="271.0" y2="355.3" stroke="#b0b0b0" stroke-width="0.8"/>
<line x1="269.0" y1="363.5" x2="271.0" y2="363.5" stroke="#b0b0b0" stroke-width="0.8"/>
<line x1="269.0" y1="371.7" x2="271.0" y2="371.7" stroke="#b0b0b0" stroke-width="0.8"/>
<line x1="269.0" y1="379.9" x2="271.0" y2="379.9" stroke="#b0b0b0" stroke-width="0.8"/>
<line x1="269.0" y1="388.1" x2="271.0" y2="388.1" stroke="#b0b0b0" stroke-width="0.8"/>
<line x1="269.0" y1="396.4" x2="271.0" y2="396.4" stroke="#b0b0b0" stroke-width="0.8"/>
<line x1="269.0" y1="404.6" x2="271.0" y2="404.6" stroke="#b0b0b0" stroke-width="0.8"/>
<line x1="269.0" y1="412.8" x2="271.0" y2="412.8" stroke="#b0b0b0" stroke-width="0.8"/>
<line x1="269.0" y1="421.0" x2="271.0" y2="421.0" stroke="#b0b0b0" stroke-width="0.8"/>
<rect x="272.2" y="306.0" width="2.6" height="6.0" fill="#666"/>
<rect x="271.8" y="330.6" width="2.0" height="1.8" fill="#444"/>
<rect x="271.8" y="356.9" width="2.0" height="1.8" fill="#444"/>
<rect x="271.8" y="383.2" width="2.0" height="1.8" fill="#444"/>
<rect x="271.8" y="409.5" width="2.0" height="1.8" fill="#444"/>
<line x1="104.0" y1="421.0" x2="104.0" y2="422.5" stroke="#9a9a9a" stroke-width="0.7"/>
<line x1="108.3" y1="421.0" x2="108.3" y2="422.5" stroke="#9a9a9a" stroke-width="0.7"/>
<line x1="112.7" y1="421.0" x2="112.7" y2="422.5" stroke="#9a9a9a" stroke-width="0.7"/>
<line x1="117.0" y1="421.0" x2="117.0" y2="422.5" stroke="#9a9a9a" stroke-width="0.7"/>
<line x1="121.4" y1="421.0" x2="121.4" y2="422.5" stroke="#9a9a9a" stroke-width="0.7"/>
<line x1="125.7" y1="421.0" x2="125.7" y2="422.5" stroke="#9a9a9a" stroke-width="0.7"/>
<line x1="130.1" y1="421.0" x2="130.1" y2="422.5" stroke="#9a9a9a" stroke-width="0.7"/>
<line x1="134.4" y1="421.0" x2="134.4" y2="422.5" stroke="#9a9a9a" stroke-width="0.7"/>
<line x1="138.7" y1="421.0" x2="138.7" y2="422.5" stroke="#9a9a9a" stroke-width="0.7"/>
<line x1="143.1" y1="421.0" x2="143.1" y2="422.5" stroke="#9a9a9a" stroke-width="0.7"/>
<line x1="147.4" y1="421.0" x2="147.4" y2="422.5" stroke="#9a9a9a" stroke-width="0.7"/>
<line x1="151.8" y1="421.0" x2="151.8" y2="422.5" stroke="#9a9a9a" stroke-width="0.7"/>
<line x1="156.1" y1="421.0" x2="156.1" y2="422.5" stroke="#9a9a9a" stroke-width="0.7"/>
<line x1="160.4" y1="421.0" x2="160.4" y2="422.5" stroke="#9a9a9a" stroke-width="0.7"/>
<line x1="164.8" y1="421.0" x2="164.8" y2="422.5" stroke="#9a9a9a" stroke-width="0.7"/>
<line x1="169.1" y1="421.0" x2="169.1" y2="422.5" stroke="#9a9a9a" stroke-width="0.7"/>
<line x1="173.5" y1="421.0" x2="173.5" y2="422.5" stroke="#9a9a9a" stroke-width="0.7"/>
<line x1="177.8" y1="421.0" x2="177.8" y2="422.5" stroke="#9a9a9a" stroke-width="0.7"/>
<line x1="182.2" y1="421.0" x2="182.2" y2="422.5" stroke="#9a9a9a" stroke-width="0.7"/>
<line x1="186.5" y1="421.0" x2="186.5" y2="422.5" stroke="#9a9a9a" stroke-width="0.7"/>
<line x1="190.8" y1="421.0" x2="190.8" y2="422.5" stroke="#9a9a9a" stroke-width="0.7"/>
<line x1="195.2" y1="421.0" x2="195.2" y2="422.5" stroke="#9a9a9a" stroke-width="0.7"/>
<line x1="199.5" y1="421.0" x2="199.5" y2="422.5" stroke="#9a9a9a" stroke-width="0.7"/>
<line x1="203.9" y1="421.0" x2="203.9" y2="422.5" stroke="#9a9a9a" stroke-width="0.7"/>
<line x1="208.2" y1="421.0" x2="208.2" y2="422.5" stroke="#9a9a9a" stroke-width="0.7"/>
<line x1="212.6" y1="421.0" x2="212.6" y2="422.5" stroke="#9a9a9a" stroke-width="0.7"/>
<line x1="216.9" y1="421.0" x2="216.9" y2="422.5" stroke="#9a9a9a" stroke-width="0.7"/>
<line x1="221.2" y1="421.0" x2="221.2" y2="422.5" stroke="#9a9a9a" stroke-width="0.7"/>
<line x1="225.6" y1="421.0" x2="225.6" y2="422.5" stroke="#9a9a9a" stroke-width="0.7"/>
<line x1="229.9" y1="421.0" x2="229.9" y2="422.5" stroke="#9a9a9a" stroke-width="0.7"/>
<line x1="234.3" y1="421.0" x2="234.3" y2="422.5" stroke="#9a9a9a" stroke-width="0.7"/>
<line x1="238.6" y1="421.0" x2="238.6" y2="422.5" stroke="#9a9a9a" stroke-width="0.7"/>
<line x1="242.9" y1="421.0" x2="242.9" y2="422.5" stroke="#9a9a9a" stroke-width="0.7"/>
<line x1="247.3" y1="421.0" x2="247.3" y2="422.5" stroke="#9a9a9a" stroke-width="0.7"/>
<line x1="251.6" y1="421.0" x2="251.6" y2="422.5" stroke="#9a9a9a" stroke-width="0.7"/>
<line x1="256.0" y1="421.0" x2="256.0" y2="422.5" stroke="#9a9a9a" stroke-width="0.7"/>
<line x1="260.3" y1="421.0" x2="260.3" y2="422.5" stroke="#9a9a9a" stroke-width="0.7"/>
<line x1="264.7" y1="421.0" x2="264.7" y2="422.5" stroke="#9a9a9a" stroke-width="0.7"/>
<line x1="269.0" y1="421.0" x2="269.0" y2="422.5" stroke="#9a9a9a" stroke-width="0.7"/>
<text x="113.3" y="427.5" font-size="4.4" font-weight="bold" fill="#555" text-anchor="middle">7.6</text>
<text x="153.3" y="427.5" font-size="4.4" font-weight="bold" fill="#555" text-anchor="middle">7.4</text>
<text x="192.0" y="427.5" font-size="4.4" font-weight="bold" fill="#555" text-anchor="middle">7.3</text>
<text x="230.7" y="427.5" font-size="4.4" font-weight="bold" fill="#555" text-anchor="middle">7.2</text>
<text x="264.0" y="427.5" font-size="4.4" font-weight="bold" fill="#555" text-anchor="middle">[ppm]</text>
<polyline fill="none" stroke="#a9c0a9" stroke-width="1.0" stroke-linejoin="round"  points="105.0,329.71 105.5,325.83 106.5,315.57 107.0,315.04 107.5,319.08 108.5,329.15 109.0,331.36 109.5,332.17 110.0,332.26 110.5,331.76 111.0,330.48 112.0,325.08 112.5,323.26 113.0,324.03 114.0,329.39 114.5,331.10 115.0,331.74 115.5,331.35 116.0,329.80 117.0,322.95 117.5,320.78 118.0,321.73 119.0,328.73 119.5,331.00 120.0,331.88 120.5,332.26 122.0,332.47 123.0,332.29 123.5,332.39 124.5,332.04 125.5,331.97 128.0,332.51 128.5,332.43 129.0,332.51 131.0,332.25 132.0,332.40 132.5,332.31 134.0,332.50 136.0,332.54 137.0,332.37 138.0,332.35 139.0,332.08 141.0,332.14 142.0,332.32 143.5,332.42 145.0,332.32 146.5,332.49 148.0,332.51 150.0,332.29 153.5,332.28 154.5,332.15 159.5,332.59 161.0,332.58 164.5,332.22 168.0,332.43 170.0,332.29 170.5,332.35 171.5,332.17 173.0,332.16 175.5,332.39 179.0,332.32 179.5,332.44 181.5,332.30 182.0,332.06 182.5,331.53 183.5,329.44 184.0,328.85 184.5,329.11 185.5,331.12 186.0,331.65 186.5,331.52 187.0,330.19 188.0,324.80 188.5,323.03 189.0,323.87 190.0,329.37 190.5,330.94 191.0,331.00 191.5,329.99 192.0,328.55 192.5,327.70 193.0,328.04 194.0,330.87 194.5,331.84 195.0,332.12 195.5,331.68 196.0,330.45 197.0,326.14 197.5,325.08 198.0,325.91 199.0,330.36 199.5,331.64 200.0,332.09 201.0,332.19 201.5,331.96 202.0,330.91 202.5,328.74 203.5,323.08 204.0,322.88 205.5,330.41 206.0,331.44 206.5,331.75 207.0,331.34 207.5,330.29 208.5,327.63 209.0,327.61 209.5,328.62 210.5,331.18 211.0,331.75 211.5,331.93 213.0,332.14 217.5,332.20 218.5,332.34 219.0,332.15 219.5,331.69 220.0,330.54 221.0,327.01 221.5,326.48 222.0,327.68 223.0,331.01 223.5,331.80 224.0,331.81 224.5,331.09 225.0,329.30 226.0,323.74 226.5,322.98 227.0,324.79 228.0,330.34 228.5,331.62 229.0,332.16 229.5,332.16 230.0,331.69 230.5,330.23 231.5,325.24 232.0,324.07 232.5,325.19 233.5,330.08 234.0,331.51 234.5,332.02 235.0,332.06 235.5,331.69 236.0,330.40 236.5,327.42 237.5,319.57 238.0,319.19 238.5,322.18 239.5,329.79 240.0,331.46 240.5,331.49 241.0,329.90 241.5,326.05 242.5,315.86 243.0,315.39 243.5,319.31 244.5,329.22 245.0,331.38 245.5,332.02 246.0,332.02 246.5,331.34 247.0,329.89 248.0,325.65 248.5,325.07 249.0,326.42 250.0,330.57 250.5,331.65 251.0,332.06 251.5,332.26 254.0,332.52 255.5,332.55 256.5,332.54 257.5,332.29 258.0,332.40 260.0,332.38 261.0,332.49 262.0,332.28 264.0,332.08 267.5,332.28 269.0,332.24"/>
<polyline fill="none" stroke="#eea0a8" stroke-width="1.2" stroke-linejoin="round"  points="105.0,366.06 106.5,366.62 107.5,367.12 111.5,369.21 112.0,369.59 113.0,369.76 114.0,370.17 115.5,370.51 117.0,371.04 119.0,371.05 119.5,371.19 120.5,371.23 121.0,371.42 122.5,371.51 123.5,371.26 126.0,371.15 127.0,371.28 128.5,371.20 131.0,371.46 132.0,371.46 133.0,371.36 133.5,371.45 136.0,371.34 136.5,371.43 137.0,371.31 137.5,371.36 141.0,371.05 144.0,371.37 147.0,371.22 148.0,371.07 149.5,371.16 150.0,370.99 151.5,371.00 152.0,370.87 153.0,370.88 154.0,371.10 156.5,370.90 158.0,370.53 159.0,370.78 160.0,370.68 161.5,370.77 162.5,370.51 164.0,370.49 165.5,370.61 168.5,370.23 172.0,370.23 173.0,370.11 175.5,370.17 178.5,370.56 182.5,370.39 185.0,370.55 186.0,370.78 187.0,370.79 188.0,370.76 189.5,370.52 191.5,370.61 193.0,370.88 193.5,370.73 197.0,370.66 199.5,369.87 200.5,369.34 203.0,368.60 205.5,368.99 206.5,369.40 208.0,369.83 210.5,370.85 211.5,371.13 212.0,371.13 213.0,371.35 216.5,371.21 220.0,371.46 222.5,371.30 225.5,371.50 227.0,371.42 227.5,371.26 230.0,371.31 230.5,371.19 231.0,371.26 232.5,371.19 234.5,370.75 235.5,370.27 237.5,368.67 238.5,367.61 239.5,366.85 240.5,366.38 241.5,366.26 242.5,366.51 244.5,367.84 245.0,368.43 246.0,369.29 247.5,370.21 249.0,370.81 251.5,371.23 256.0,371.38 258.0,371.70 260.0,371.65 260.5,371.54 261.5,371.58 265.5,372.41 266.5,372.39 269.0,372.63"/>
<polyline fill="none" stroke="#9e9ce8" stroke-width="1.0" stroke-linejoin="round"  points="105.0,406.21 106.0,402.82 106.5,401.77 107.0,401.63 107.5,402.58 109.0,407.42 109.5,408.45 110.0,409.11 110.5,409.47 111.0,409.55 111.5,409.36 112.0,408.98 114.0,406.56 114.5,406.45 115.0,406.80 116.5,408.77 117.5,409.39 118.0,409.18 118.5,408.81 120.0,406.95 120.5,406.67 121.0,406.78 121.5,407.26 122.5,408.59 123.0,409.05 123.5,409.40 124.5,409.72 126.0,409.80 128.5,409.71 131.0,409.82 132.0,410.08 134.0,409.90 136.5,409.84 138.0,409.94 138.5,409.78 140.5,409.68 142.5,409.71 143.5,409.89 146.0,409.87 147.0,409.52 149.5,409.48 150.0,409.60 152.0,409.40 153.5,409.09 154.5,409.30 157.0,409.31 158.0,409.11 159.0,409.26 159.5,409.13 162.5,409.00 165.0,409.24 165.5,409.16 167.0,409.40 168.0,409.23 169.0,409.22 170.5,408.87 172.0,408.88 174.5,409.16 176.0,409.13 176.5,409.02 180.0,409.11 180.5,408.93 183.0,408.70 183.5,408.72 184.0,408.91 185.5,408.79 186.0,408.65 187.0,408.12 187.5,407.66 188.0,407.41 188.5,407.33 189.0,407.38 191.5,409.13 193.0,409.41 198.0,409.61 200.0,409.51 201.0,409.13 201.5,408.64 203.5,405.74 204.0,405.71 204.5,406.04 205.5,407.61 206.0,408.22 206.5,408.59 207.0,408.59 208.5,407.90 209.0,407.83 210.0,408.41 211.0,409.26 212.5,409.72 214.5,409.65 215.0,409.81 217.0,409.75 217.5,409.87 218.5,409.72 219.5,409.85 221.5,409.82 222.0,409.94 223.0,409.78 224.5,409.84 225.5,409.72 227.0,409.73 227.5,409.89 230.0,410.19 232.5,409.95 233.5,409.41 234.0,408.96 236.0,405.76 236.5,405.51 237.0,405.72 238.5,408.10 239.0,408.53 239.5,408.51 240.0,407.90 240.5,406.76 241.5,403.75 242.0,402.69 242.5,402.54 243.0,403.18 244.5,407.31 245.0,408.12 245.5,408.40 246.0,408.19 247.5,406.73 248.0,406.76 248.5,407.01 250.0,408.87 250.5,409.32 251.0,409.61 252.5,410.01 253.5,410.02 254.5,409.86 258.0,410.01 259.5,409.84 260.5,409.91 263.5,409.79 269.0,410.89"/>
<rect x="268" y="305" width="2.5" height="2.5" fill="#222"/>
<rect x="295.5" y="306.0" width="164.0" height="115.5" fill="none" stroke="#cbcbcb" stroke-width="1"/>
<line x1="459.5" y1="306.0" x2="459.5" y2="421.0" stroke="#bababa" stroke-width="1"/>
<line x1="459.0" y1="306.0" x2="461.0" y2="306.0" stroke="#b0b0b0" stroke-width="0.8"/>
<line x1="459.0" y1="314.2" x2="461.0" y2="314.2" stroke="#b0b0b0" stroke-width="0.8"/>
<line x1="459.0" y1="322.4" x2="461.0" y2="322.4" stroke="#b0b0b0" stroke-width="0.8"/>
<line x1="459.0" y1="330.6" x2="461.0" y2="330.6" stroke="#b0b0b0" stroke-width="0.8"/>
<line x1="459.0" y1="338.9" x2="461.0" y2="338.9" stroke="#b0b0b0" stroke-width="0.8"/>
<line x1="459.0" y1="347.1" x2="461.0" y2="347.1" stroke="#b0b0b0" stroke-width="0.8"/>
<line x1="459.0" y1="355.3" x2="461.0" y2="355.3" stroke="#b0b0b0" stroke-width="0.8"/>
<line x1="459.0" y1="363.5" x2="461.0" y2="363.5" stroke="#b0b0b0" stroke-width="0.8"/>
<line x1="459.0" y1="371.7" x2="461.0" y2="371.7" stroke="#b0b0b0" stroke-width="0.8"/>
<line x1="459.0" y1="379.9" x2="461.0" y2="379.9" stroke="#b0b0b0" stroke-width="0.8"/>
<line x1="459.0" y1="388.1" x2="461.0" y2="388.1" stroke="#b0b0b0" stroke-width="0.8"/>
<line x1="459.0" y1="396.4" x2="461.0" y2="396.4" stroke="#b0b0b0" stroke-width="0.8"/>
<line x1="459.0" y1="404.6" x2="461.0" y2="404.6" stroke="#b0b0b0" stroke-width="0.8"/>
<line x1="459.0" y1="412.8" x2="461.0" y2="412.8" stroke="#b0b0b0" stroke-width="0.8"/>
<line x1="459.0" y1="421.0" x2="461.0" y2="421.0" stroke="#b0b0b0" stroke-width="0.8"/>
<rect x="462.2" y="306.0" width="2.6" height="6.0" fill="#666"/>
<rect x="461.8" y="334.9" width="2.0" height="1.8" fill="#444"/>
<rect x="461.8" y="359.9" width="2.0" height="1.8" fill="#444"/>
<rect x="461.8" y="384.7" width="2.0" height="1.8" fill="#444"/>
<rect x="461.8" y="409.1" width="2.0" height="1.8" fill="#444"/>
<line x1="295.0" y1="421.0" x2="295.0" y2="422.5" stroke="#9a9a9a" stroke-width="0.7"/>
<line x1="299.3" y1="421.0" x2="299.3" y2="422.5" stroke="#9a9a9a" stroke-width="0.7"/>
<line x1="303.6" y1="421.0" x2="303.6" y2="422.5" stroke="#9a9a9a" stroke-width="0.7"/>
<line x1="307.9" y1="421.0" x2="307.9" y2="422.5" stroke="#9a9a9a" stroke-width="0.7"/>
<line x1="312.3" y1="421.0" x2="312.3" y2="422.5" stroke="#9a9a9a" stroke-width="0.7"/>
<line x1="316.6" y1="421.0" x2="316.6" y2="422.5" stroke="#9a9a9a" stroke-width="0.7"/>
<line x1="320.9" y1="421.0" x2="320.9" y2="422.5" stroke="#9a9a9a" stroke-width="0.7"/>
<line x1="325.2" y1="421.0" x2="325.2" y2="422.5" stroke="#9a9a9a" stroke-width="0.7"/>
<line x1="329.5" y1="421.0" x2="329.5" y2="422.5" stroke="#9a9a9a" stroke-width="0.7"/>
<line x1="333.8" y1="421.0" x2="333.8" y2="422.5" stroke="#9a9a9a" stroke-width="0.7"/>
<line x1="338.2" y1="421.0" x2="338.2" y2="422.5" stroke="#9a9a9a" stroke-width="0.7"/>
<line x1="342.5" y1="421.0" x2="342.5" y2="422.5" stroke="#9a9a9a" stroke-width="0.7"/>
<line x1="346.8" y1="421.0" x2="346.8" y2="422.5" stroke="#9a9a9a" stroke-width="0.7"/>
<line x1="351.1" y1="421.0" x2="351.1" y2="422.5" stroke="#9a9a9a" stroke-width="0.7"/>
<line x1="355.4" y1="421.0" x2="355.4" y2="422.5" stroke="#9a9a9a" stroke-width="0.7"/>
<line x1="359.7" y1="421.0" x2="359.7" y2="422.5" stroke="#9a9a9a" stroke-width="0.7"/>
<line x1="364.1" y1="421.0" x2="364.1" y2="422.5" stroke="#9a9a9a" stroke-width="0.7"/>
<line x1="368.4" y1="421.0" x2="368.4" y2="422.5" stroke="#9a9a9a" stroke-width="0.7"/>
<line x1="372.7" y1="421.0" x2="372.7" y2="422.5" stroke="#9a9a9a" stroke-width="0.7"/>
<line x1="377.0" y1="421.0" x2="377.0" y2="422.5" stroke="#9a9a9a" stroke-width="0.7"/>
<line x1="381.3" y1="421.0" x2="381.3" y2="422.5" stroke="#9a9a9a" stroke-width="0.7"/>
<line x1="385.6" y1="421.0" x2="385.6" y2="422.5" stroke="#9a9a9a" stroke-width="0.7"/>
<line x1="389.9" y1="421.0" x2="389.9" y2="422.5" stroke="#9a9a9a" stroke-width="0.7"/>
<line x1="394.3" y1="421.0" x2="394.3" y2="422.5" stroke="#9a9a9a" stroke-width="0.7"/>
<line x1="398.6" y1="421.0" x2="398.6" y2="422.5" stroke="#9a9a9a" stroke-width="0.7"/>
<line x1="402.9" y1="421.0" x2="402.9" y2="422.5" stroke="#9a9a9a" stroke-width="0.7"/>
<line x1="407.2" y1="421.0" x2="407.2" y2="422.5" stroke="#9a9a9a" stroke-width="0.7"/>
<line x1="411.5" y1="421.0" x2="411.5" y2="422.5" stroke="#9a9a9a" stroke-width="0.7"/>
<line x1="415.8" y1="421.0" x2="415.8" y2="422.5" stroke="#9a9a9a" stroke-width="0.7"/>
<line x1="420.2" y1="421.0" x2="420.2" y2="422.5" stroke="#9a9a9a" stroke-width="0.7"/>
<line x1="424.5" y1="421.0" x2="424.5" y2="422.5" stroke="#9a9a9a" stroke-width="0.7"/>
<line x1="428.8" y1="421.0" x2="428.8" y2="422.5" stroke="#9a9a9a" stroke-width="0.7"/>
<line x1="433.1" y1="421.0" x2="433.1" y2="422.5" stroke="#9a9a9a" stroke-width="0.7"/>
<line x1="437.4" y1="421.0" x2="437.4" y2="422.5" stroke="#9a9a9a" stroke-width="0.7"/>
<line x1="441.7" y1="421.0" x2="441.7" y2="422.5" stroke="#9a9a9a" stroke-width="0.7"/>
<line x1="446.1" y1="421.0" x2="446.1" y2="422.5" stroke="#9a9a9a" stroke-width="0.7"/>
<line x1="450.4" y1="421.0" x2="450.4" y2="422.5" stroke="#9a9a9a" stroke-width="0.7"/>
<line x1="454.7" y1="421.0" x2="454.7" y2="422.5" stroke="#9a9a9a" stroke-width="0.7"/>
<line x1="459.0" y1="421.0" x2="459.0" y2="422.5" stroke="#9a9a9a" stroke-width="0.7"/>
<text x="304.3" y="427.5" font-size="4.4" font-weight="bold" fill="#555" text-anchor="middle">7.6</text>
<text x="344.3" y="427.5" font-size="4.4" font-weight="bold" fill="#555" text-anchor="middle">7.4</text>
<text x="383.0" y="427.5" font-size="4.4" font-weight="bold" fill="#555" text-anchor="middle">7.3</text>
<text x="421.7" y="427.5" font-size="4.4" font-weight="bold" fill="#555" text-anchor="middle">7.2</text>
<text x="455.0" y="427.5" font-size="4.4" font-weight="bold" fill="#555" text-anchor="middle">[ppm]</text>
<polyline fill="none" stroke="#a9c0a9" stroke-width="1.0" stroke-linejoin="round"  points="296.0,332.78 296.5,332.41 297.0,331.12 297.5,328.13 298.5,317.77 299.0,315.41 299.5,317.74 300.5,327.95 301.0,330.79 301.5,331.44 302.0,330.57 303.0,325.43 303.5,323.80 304.0,324.62 305.0,329.94 305.5,331.67 306.0,332.32 306.5,332.47 307.0,331.92 307.5,330.30 308.5,323.61 309.0,321.54 309.5,322.57 310.5,329.14 311.0,331.26 311.5,332.24 312.0,332.61 315.0,332.60 315.5,332.46 316.0,332.61 317.5,332.74 318.5,332.64 319.0,332.74 321.0,332.46 322.5,332.68 325.0,332.62 325.5,332.50 330.0,332.68 333.0,332.62 336.5,332.98 337.0,332.83 340.5,332.79 341.5,332.91 344.5,332.85 346.5,332.65 347.5,332.89 350.0,332.81 351.5,332.60 356.5,332.72 358.0,332.55 358.5,332.69 359.5,332.61 361.0,332.80 362.0,332.61 363.0,332.59 366.0,332.86 368.5,332.66 371.5,332.78 372.5,332.71 373.5,332.53 374.0,332.20 374.5,331.41 375.5,328.50 376.0,327.63 376.5,328.11 377.5,331.06 378.0,331.78 378.5,331.38 379.0,329.67 380.0,324.04 380.5,323.10 381.0,324.89 382.0,330.60 382.5,331.97 383.0,332.30 383.5,331.98 384.0,331.27 385.0,328.66 385.5,328.31 386.0,329.09 387.0,331.83 387.5,332.43 388.0,332.58 390.0,332.56 391.5,332.70 392.0,332.56 392.5,332.10 393.0,331.07 394.5,324.11 395.0,324.33 396.0,329.44 396.5,331.30 397.0,332.08 397.5,332.16 398.0,331.53 399.5,326.52 400.0,326.26 401.5,331.52 402.0,332.32 402.5,332.58 403.5,332.81 404.5,332.57 405.0,332.62 407.0,332.45 408.0,332.59 408.5,332.46 410.5,332.60 411.0,332.34 411.5,331.57 412.5,328.34 413.0,327.29 413.5,327.76 414.5,330.92 415.0,332.02 415.5,332.54 416.0,332.57 416.5,332.42 417.0,331.68 417.5,329.97 418.5,324.69 419.0,324.07 419.5,325.73 420.5,330.97 421.0,332.14 421.5,332.56 422.0,332.76 424.0,332.61 424.5,332.78 425.0,332.78 425.5,332.59 426.0,332.17 426.5,330.86 428.0,322.21 428.5,322.42 429.5,328.57 430.0,330.90 430.5,332.03 431.0,332.50 431.5,332.28 432.0,331.18 432.5,328.14 433.5,317.33 434.0,314.88 434.5,317.24 435.5,328.16 436.0,331.19 436.5,332.30 437.0,332.19 437.5,331.01 438.5,326.21 439.0,324.60 439.5,325.26 440.5,330.12 441.0,331.72 441.5,332.43 442.0,332.70 443.5,332.93 447.0,332.73 448.0,332.83 449.0,332.65 452.0,332.78 453.0,332.68 454.5,332.73 456.5,332.93 459.0,332.60"/>
<polyline fill="none" stroke="#eea0a8" stroke-width="1.2" stroke-linejoin="round"  points="296.0,370.44 296.5,369.32 298.0,364.58 298.5,363.41 299.0,362.76 299.5,363.14 301.0,366.56 301.5,367.31 302.0,367.40 302.5,367.19 303.0,366.82 303.5,366.72 304.0,367.10 305.5,369.04 306.0,369.39 306.5,369.26 308.0,367.68 308.5,367.56 309.0,367.63 309.5,368.13 310.5,369.84 311.5,371.10 312.5,371.62 313.5,371.86 317.0,371.79 317.5,371.88 318.0,371.73 319.5,371.73 325.0,371.98 326.0,371.84 327.5,371.89 328.0,371.78 329.5,371.75 335.5,371.92 339.0,371.66 340.0,371.81 340.5,371.73 342.5,371.86 343.5,371.75 344.0,371.86 345.5,371.66 346.5,371.75 347.5,371.64 348.5,371.80 351.5,371.73 354.0,371.77 354.5,371.88 356.0,371.74 357.5,371.93 358.0,371.86 360.0,372.04 361.0,371.84 361.5,371.89 363.0,371.56 365.5,371.37 367.5,371.43 368.5,371.29 369.5,371.47 371.0,371.48 372.0,371.68 374.5,371.62 376.5,371.16 377.0,371.15 377.5,370.94 378.5,369.84 380.5,366.28 381.0,365.93 381.5,366.14 382.0,366.83 383.5,369.64 384.0,370.28 384.5,370.63 385.0,370.89 386.0,370.92 386.5,370.89 387.0,370.71 389.5,370.66 390.5,370.39 391.0,369.96 392.0,368.41 393.5,365.37 394.0,364.90 394.5,365.01 396.0,367.41 396.5,368.07 397.0,368.38 397.5,368.18 398.5,367.22 399.0,366.96 399.5,366.88 400.0,367.20 400.5,367.78 401.5,369.23 402.0,369.79 403.0,370.36 404.5,370.62 406.0,370.70 407.0,370.70 408.0,370.55 414.0,370.88 415.5,370.79 416.0,370.57 416.5,370.19 417.0,369.55 418.5,366.83 419.0,366.17 419.5,365.99 420.0,366.23 422.0,369.81 422.5,370.38 423.5,371.08 425.0,371.17 426.0,370.39 426.5,369.61 428.5,365.43 429.0,365.17 429.5,365.42 430.5,366.90 431.0,367.37 431.5,367.27 432.0,366.54 433.5,362.81 434.0,362.43 434.5,363.08 435.0,364.36 436.0,367.68 436.5,368.90 437.0,369.58 437.5,369.70 439.0,368.26 439.5,368.09 440.0,368.22 440.5,368.67 441.5,370.11 442.5,371.14 444.0,371.56 445.5,371.69 449.0,371.66 450.0,371.83 451.0,371.69 452.5,371.81 453.0,371.67 454.5,371.84 459.0,371.49"/>
<polyline fill="none" stroke="#9e9ce8" stroke-width="1.0" stroke-linejoin="round"  points="296.0,409.50 296.5,409.01 297.0,407.74 297.5,404.85 298.5,396.36 299.0,394.56 299.5,396.32 300.5,404.69 301.0,407.57 301.5,408.79 302.0,409.27 302.5,409.42 304.0,409.24 304.5,408.65 305.0,407.57 306.0,403.24 306.5,402.02 307.0,402.61 308.0,406.76 308.5,408.30 309.0,409.07 309.5,409.35 310.0,409.05 310.5,408.13 311.0,406.13 312.0,401.05 312.5,400.42 313.0,401.91 314.0,407.14 314.5,408.62 315.0,409.30 316.0,409.52 316.5,409.53 317.0,409.38 318.5,409.68 320.0,409.60 320.5,409.71 322.0,409.46 328.5,409.71 331.0,409.62 332.5,409.39 333.0,409.48 333.5,409.38 335.0,409.50 335.5,409.67 336.5,409.59 337.0,409.76 338.0,409.73 339.0,409.53 345.0,409.37 345.5,409.44 347.0,409.31 353.5,409.69 355.5,409.43 356.5,409.57 358.5,409.60 359.5,409.45 362.0,409.37 362.5,409.53 363.5,409.41 365.5,409.63 366.0,409.48 368.5,409.30 370.5,409.63 371.5,409.66 374.0,409.40 375.0,409.11 375.5,408.50 376.5,406.38 377.0,405.78 377.5,406.08 378.5,408.13 379.0,408.87 380.0,409.40 380.5,409.13 381.0,408.38 381.5,406.78 382.5,402.64 383.0,402.18 383.5,403.29 384.5,407.47 385.0,408.67 385.5,409.21 386.0,409.34 386.5,409.11 387.0,408.52 388.0,406.34 388.5,405.60 389.0,405.72 390.5,408.94 391.0,409.43 391.5,409.56 392.0,409.42 392.5,409.01 393.0,407.92 394.0,403.71 394.5,402.14 395.0,402.30 396.5,408.02 397.0,408.88 397.5,408.96 398.0,408.35 399.5,403.50 400.0,403.32 400.5,404.59 401.5,407.96 402.0,408.90 402.5,409.27 406.5,409.54 409.0,409.44 410.5,409.57 412.5,409.32 413.5,408.88 414.0,408.19 415.0,405.92 415.5,405.27 416.0,405.55 417.5,408.74 418.0,409.16 418.5,409.37 419.0,409.39 419.5,409.18 420.0,408.48 420.5,406.84 421.5,402.66 422.0,402.03 422.5,403.27 423.5,407.51 424.0,408.76 424.5,409.21 425.0,409.31 425.5,409.06 426.0,408.29 426.5,406.79 427.5,400.84 428.0,398.67 428.5,398.99 430.0,407.39 430.5,408.67 431.0,409.14 431.5,408.92 432.0,407.57 432.5,404.58 433.5,395.76 434.0,393.92 434.5,395.70 435.5,404.49 436.0,407.46 436.5,408.89 437.0,409.07 437.5,408.72 438.0,407.71 439.0,404.17 439.5,403.03 440.0,403.47 441.0,407.09 441.5,408.40 442.0,409.11 443.0,409.55 444.0,409.39 447.5,409.59 448.0,409.51 448.5,409.56 449.5,409.34 452.0,409.32 453.5,409.47 456.0,409.43 457.0,409.60 459.0,409.71"/>
<circle cx="459.0" cy="345.1" r="1.7" fill="#b01838"/>
<circle cx="459.0" cy="383.4" r="1.7" fill="#1c149c"/>
<rect x="458" y="305" width="2.5" height="2.5" fill="#222"/>
<rect x="490.5" y="306.0" width="164.0" height="115.5" fill="none" stroke="#cbcbcb" stroke-width="1"/>
<line x1="654.5" y1="306.0" x2="654.5" y2="421.0" stroke="#bababa" stroke-width="1"/>
<line x1="654.0" y1="306.0" x2="656.0" y2="306.0" stroke="#b0b0b0" stroke-width="0.8"/>
<line x1="654.0" y1="314.2" x2="656.0" y2="314.2" stroke="#b0b0b0" stroke-width="0.8"/>
<line x1="654.0" y1="322.4" x2="656.0" y2="322.4" stroke="#b0b0b0" stroke-width="0.8"/>
<line x1="654.0" y1="330.6" x2="656.0" y2="330.6" stroke="#b0b0b0" stroke-width="0.8"/>
<line x1="654.0" y1="338.9" x2="656.0" y2="338.9" stroke="#b0b0b0" stroke-width="0.8"/>
<line x1="654.0" y1="347.1" x2="656.0" y2="347.1" stroke="#b0b0b0" stroke-width="0.8"/>
<line x1="654.0" y1="355.3" x2="656.0" y2="355.3" stroke="#b0b0b0" stroke-width="0.8"/>
<line x1="654.0" y1="363.5" x2="656.0" y2="363.5" stroke="#b0b0b0" stroke-width="0.8"/>
<line x1="654.0" y1="371.7" x2="656.0" y2="371.7" stroke="#b0b0b0" stroke-width="0.8"/>
<line x1="654.0" y1="379.9" x2="656.0" y2="379.9" stroke="#b0b0b0" stroke-width="0.8"/>
<line x1="654.0" y1="388.1" x2="656.0" y2="388.1" stroke="#b0b0b0" stroke-width="0.8"/>
<line x1="654.0" y1="396.4" x2="656.0" y2="396.4" stroke="#b0b0b0" stroke-width="0.8"/>
<line x1="654.0" y1="404.6" x2="656.0" y2="404.6" stroke="#b0b0b0" stroke-width="0.8"/>
<line x1="654.0" y1="412.8" x2="656.0" y2="412.8" stroke="#b0b0b0" stroke-width="0.8"/>
<line x1="654.0" y1="421.0" x2="656.0" y2="421.0" stroke="#b0b0b0" stroke-width="0.8"/>
<rect x="657.2" y="306.0" width="2.6" height="6.0" fill="#666"/>
<rect x="656.8" y="330.6" width="2.0" height="1.8" fill="#444"/>
<rect x="656.8" y="355.9" width="2.0" height="1.8" fill="#444"/>
<rect x="656.8" y="381.4" width="2.0" height="1.8" fill="#444"/>
<rect x="656.8" y="406.1" width="2.0" height="1.8" fill="#444"/>
<line x1="490.0" y1="421.0" x2="490.0" y2="422.5" stroke="#9a9a9a" stroke-width="0.7"/>
<line x1="494.3" y1="421.0" x2="494.3" y2="422.5" stroke="#9a9a9a" stroke-width="0.7"/>
<line x1="498.6" y1="421.0" x2="498.6" y2="422.5" stroke="#9a9a9a" stroke-width="0.7"/>
<line x1="502.9" y1="421.0" x2="502.9" y2="422.5" stroke="#9a9a9a" stroke-width="0.7"/>
<line x1="507.3" y1="421.0" x2="507.3" y2="422.5" stroke="#9a9a9a" stroke-width="0.7"/>
<line x1="511.6" y1="421.0" x2="511.6" y2="422.5" stroke="#9a9a9a" stroke-width="0.7"/>
<line x1="515.9" y1="421.0" x2="515.9" y2="422.5" stroke="#9a9a9a" stroke-width="0.7"/>
<line x1="520.2" y1="421.0" x2="520.2" y2="422.5" stroke="#9a9a9a" stroke-width="0.7"/>
<line x1="524.5" y1="421.0" x2="524.5" y2="422.5" stroke="#9a9a9a" stroke-width="0.7"/>
<line x1="528.8" y1="421.0" x2="528.8" y2="422.5" stroke="#9a9a9a" stroke-width="0.7"/>
<line x1="533.2" y1="421.0" x2="533.2" y2="422.5" stroke="#9a9a9a" stroke-width="0.7"/>
<line x1="537.5" y1="421.0" x2="537.5" y2="422.5" stroke="#9a9a9a" stroke-width="0.7"/>
<line x1="541.8" y1="421.0" x2="541.8" y2="422.5" stroke="#9a9a9a" stroke-width="0.7"/>
<line x1="546.1" y1="421.0" x2="546.1" y2="422.5" stroke="#9a9a9a" stroke-width="0.7"/>
<line x1="550.4" y1="421.0" x2="550.4" y2="422.5" stroke="#9a9a9a" stroke-width="0.7"/>
<line x1="554.7" y1="421.0" x2="554.7" y2="422.5" stroke="#9a9a9a" stroke-width="0.7"/>
<line x1="559.1" y1="421.0" x2="559.1" y2="422.5" stroke="#9a9a9a" stroke-width="0.7"/>
<line x1="563.4" y1="421.0" x2="563.4" y2="422.5" stroke="#9a9a9a" stroke-width="0.7"/>
<line x1="567.7" y1="421.0" x2="567.7" y2="422.5" stroke="#9a9a9a" stroke-width="0.7"/>
<line x1="572.0" y1="421.0" x2="572.0" y2="422.5" stroke="#9a9a9a" stroke-width="0.7"/>
<line x1="576.3" y1="421.0" x2="576.3" y2="422.5" stroke="#9a9a9a" stroke-width="0.7"/>
<line x1="580.6" y1="421.0" x2="580.6" y2="422.5" stroke="#9a9a9a" stroke-width="0.7"/>
<line x1="584.9" y1="421.0" x2="584.9" y2="422.5" stroke="#9a9a9a" stroke-width="0.7"/>
<line x1="589.3" y1="421.0" x2="589.3" y2="422.5" stroke="#9a9a9a" stroke-width="0.7"/>
<line x1="593.6" y1="421.0" x2="593.6" y2="422.5" stroke="#9a9a9a" stroke-width="0.7"/>
<line x1="597.9" y1="421.0" x2="597.9" y2="422.5" stroke="#9a9a9a" stroke-width="0.7"/>
<line x1="602.2" y1="421.0" x2="602.2" y2="422.5" stroke="#9a9a9a" stroke-width="0.7"/>
<line x1="606.5" y1="421.0" x2="606.5" y2="422.5" stroke="#9a9a9a" stroke-width="0.7"/>
<line x1="610.8" y1="421.0" x2="610.8" y2="422.5" stroke="#9a9a9a" stroke-width="0.7"/>
<line x1="615.2" y1="421.0" x2="615.2" y2="422.5" stroke="#9a9a9a" stroke-width="0.7"/>
<line x1="619.5" y1="421.0" x2="619.5" y2="422.5" stroke="#9a9a9a" stroke-width="0.7"/>
<line x1="623.8" y1="421.0" x2="623.8" y2="422.5" stroke="#9a9a9a" stroke-width="0.7"/>
<line x1="628.1" y1="421.0" x2="628.1" y2="422.5" stroke="#9a9a9a" stroke-width="0.7"/>
<line x1="632.4" y1="421.0" x2="632.4" y2="422.5" stroke="#9a9a9a" stroke-width="0.7"/>
<line x1="636.7" y1="421.0" x2="636.7" y2="422.5" stroke="#9a9a9a" stroke-width="0.7"/>
<line x1="641.1" y1="421.0" x2="641.1" y2="422.5" stroke="#9a9a9a" stroke-width="0.7"/>
<line x1="645.4" y1="421.0" x2="645.4" y2="422.5" stroke="#9a9a9a" stroke-width="0.7"/>
<line x1="649.7" y1="421.0" x2="649.7" y2="422.5" stroke="#9a9a9a" stroke-width="0.7"/>
<line x1="654.0" y1="421.0" x2="654.0" y2="422.5" stroke="#9a9a9a" stroke-width="0.7"/>
<text x="499.3" y="427.5" font-size="4.4" font-weight="bold" fill="#555" text-anchor="middle">7.6</text>
<text x="539.3" y="427.5" font-size="4.4" font-weight="bold" fill="#555" text-anchor="middle">7.4</text>
<text x="578.0" y="427.5" font-size="4.4" font-weight="bold" fill="#555" text-anchor="middle">7.3</text>
<text x="616.7" y="427.5" font-size="4.4" font-weight="bold" fill="#555" text-anchor="middle">7.2</text>
<text x="650.0" y="427.5" font-size="4.4" font-weight="bold" fill="#555" text-anchor="middle">[ppm]</text>
<polyline fill="none" stroke="#a9c0a9" stroke-width="1.0" stroke-linejoin="round"  points="491.0,327.49 491.5,323.55 492.5,313.20 493.0,312.74 494.5,326.88 495.0,329.10 495.5,329.60 496.0,328.91 496.5,326.87 497.5,321.68 498.0,321.44 498.5,323.33 499.5,328.46 500.0,329.62 500.5,329.98 501.0,329.94 501.5,329.15 502.0,327.39 503.0,319.98 503.5,317.72 504.0,318.73 505.0,326.28 505.5,328.73 506.0,329.83 506.5,330.17 508.5,330.29 511.5,330.15 512.5,330.29 513.5,330.25 515.0,330.38 515.5,330.24 517.0,330.21 518.5,330.02 519.0,330.18 521.0,330.29 521.5,330.21 522.0,330.36 523.5,330.45 527.5,330.12 529.0,330.37 532.0,330.17 534.0,330.24 535.5,330.43 537.5,330.32 538.0,330.19 541.5,330.29 543.0,330.07 544.5,330.02 548.0,330.37 550.5,330.01 551.5,329.99 553.0,330.08 554.0,330.28 554.5,330.14 557.0,330.09 559.5,330.30 560.5,330.22 561.0,330.07 563.0,329.94 564.0,330.14 565.5,330.09 566.0,330.23 566.5,330.14 567.0,329.81 567.5,329.25 568.0,328.41 568.5,327.20 569.0,326.50 569.5,326.72 570.5,329.11 571.0,329.93 572.0,330.07 572.5,329.59 573.0,328.10 574.0,322.41 574.5,320.55 575.0,321.43 576.0,327.20 576.5,329.18 577.0,329.97 577.5,330.03 578.0,329.54 578.5,328.64 579.0,327.38 579.5,326.57 580.0,326.66 581.5,329.77 582.0,330.18 582.5,330.26 584.0,330.21 585.5,329.97 586.0,330.04 587.0,329.68 587.5,328.72 588.0,326.56 589.0,321.11 589.5,320.84 591.0,328.42 591.5,329.60 592.0,329.98 592.5,329.95 593.0,329.16 593.5,327.64 594.5,323.42 595.0,323.29 595.5,324.83 596.5,328.74 597.0,329.66 597.5,329.99 598.0,330.12 600.0,330.23 601.5,330.14 602.0,329.97 603.5,330.07 605.0,329.96 605.5,329.65 606.0,328.71 607.0,325.70 607.5,325.32 608.0,326.24 609.0,329.15 609.5,329.85 610.0,330.05 610.5,330.09 611.0,329.95 611.5,329.54 612.0,328.42 613.5,321.46 614.0,321.80 615.0,326.96 615.5,328.88 616.0,329.83 617.0,330.19 619.5,330.02 620.0,329.88 620.5,329.27 621.0,327.66 622.0,321.97 622.5,320.73 623.0,321.98 624.0,327.58 624.5,329.16 625.0,329.81 625.5,330.07 626.0,329.95 626.5,329.26 627.0,327.36 627.5,323.07 628.5,311.67 629.0,311.09 629.5,315.49 630.0,321.90 630.5,326.52 631.0,328.92 631.5,329.65 632.0,329.76 632.5,329.41 633.0,328.42 634.0,324.37 634.5,323.12 635.0,323.73 636.0,327.87 636.5,329.29 637.0,329.90 637.5,330.09 639.0,330.14 641.0,330.42 642.5,330.43 648.5,330.01 651.5,330.03 652.5,330.18 654.0,330.10"/>
<polyline fill="none" stroke="#eea0a8" stroke-width="1.2" stroke-linejoin="round"  points="491.0,365.35 492.5,352.37 493.0,352.07 493.5,355.49 494.5,364.86 495.0,367.24 495.5,367.97 496.0,367.36 497.5,362.16 498.0,362.05 498.5,363.50 499.5,367.28 500.0,368.25 500.5,368.55 501.0,368.44 501.5,367.57 502.0,365.67 503.0,359.32 503.5,357.39 504.0,358.16 505.0,364.43 505.5,366.72 506.0,367.88 506.5,368.31 507.5,368.52 508.5,368.48 509.5,368.79 514.5,368.72 515.0,368.83 515.5,368.75 518.0,368.82 519.0,369.06 519.5,368.93 520.0,369.01 522.0,368.86 522.5,368.60 523.0,368.69 523.5,368.60 524.0,368.70 525.0,368.64 526.0,368.82 527.5,368.75 528.5,368.91 529.5,368.72 531.0,368.71 532.0,368.55 534.5,368.62 535.5,368.79 536.0,368.69 537.0,368.78 539.0,368.73 539.5,368.86 541.0,368.65 544.5,368.71 547.0,368.44 547.5,368.57 551.5,368.50 552.0,368.64 553.5,368.52 555.0,368.64 556.0,368.52 557.5,368.76 558.0,368.68 560.5,368.88 564.0,368.62 565.5,368.70 567.0,368.48 567.5,368.26 568.0,367.57 569.0,364.98 569.5,364.32 570.0,364.72 571.0,367.26 571.5,368.14 572.0,368.55 572.5,368.50 573.0,367.85 573.5,366.35 574.5,361.18 575.0,359.81 575.5,360.40 576.5,365.41 577.0,367.21 577.5,368.09 578.0,368.19 578.5,367.60 579.5,365.03 580.0,364.09 580.5,364.26 582.0,367.83 582.5,368.33 583.0,368.60 583.5,368.68 584.5,368.77 585.5,368.64 586.5,368.74 587.0,368.56 587.5,367.99 588.0,366.80 589.5,359.74 590.0,359.49 590.5,361.39 591.5,366.67 592.0,368.00 592.5,368.43 593.0,368.32 593.5,367.64 595.0,363.14 595.5,362.92 596.0,364.02 597.0,367.24 597.5,367.98 598.0,368.47 600.0,368.77 600.5,368.71 601.0,368.79 601.5,368.65 602.5,368.76 603.5,368.62 605.0,368.66 606.0,368.52 606.5,368.30 607.0,367.62 608.0,365.07 608.5,364.35 609.0,364.70 610.0,367.01 610.5,367.90 611.0,368.43 611.5,368.60 612.0,368.48 612.5,368.22 613.0,367.46 613.5,365.87 614.5,361.42 615.0,360.89 615.5,362.18 616.5,366.52 617.0,367.78 617.5,368.27 618.0,368.55 619.5,368.46 620.0,368.34 620.5,367.99 621.0,367.19 621.5,365.26 622.5,359.60 623.0,358.28 623.5,359.56 624.5,365.38 625.0,367.32 625.5,368.17 626.0,368.27 626.5,367.59 627.0,365.34 628.5,351.86 629.0,351.43 629.5,354.95 630.5,364.66 631.0,367.19 631.5,368.18 632.0,368.32 632.5,367.91 633.0,366.91 634.0,363.72 634.5,362.70 635.0,363.13 636.0,366.42 636.5,367.64 637.0,368.28 638.0,368.57 640.5,368.59 641.0,368.75 641.5,368.69 643.5,368.94 646.0,368.63 647.5,368.55 649.5,368.61 650.0,368.46 652.0,368.64 654.0,368.64"/>
<polyline fill="none" stroke="#9e9ce8" stroke-width="1.0" stroke-linejoin="round"  points="491.0,406.21 491.5,404.60 492.0,401.24 493.0,390.85 493.5,388.79 494.0,391.01 495.0,401.41 495.5,404.74 496.0,406.39 496.5,406.95 497.0,407.01 497.5,406.86 498.0,406.43 498.5,405.46 500.0,399.16 500.5,398.96 501.0,400.69 502.0,405.08 502.5,406.37 503.0,406.86 504.0,407.08 504.5,407.07 505.0,406.92 505.5,406.43 506.0,405.19 506.5,402.78 507.5,396.45 508.0,395.57 508.5,397.50 509.5,403.86 510.0,405.73 510.5,406.56 511.5,406.90 513.0,407.02 516.0,406.84 517.0,406.92 517.5,407.07 520.0,407.07 521.0,406.93 527.0,407.13 528.5,407.08 529.5,407.18 532.5,406.98 535.0,407.15 537.5,406.81 539.0,406.83 543.0,407.20 545.0,407.14 546.0,406.96 548.0,407.04 548.5,406.94 549.5,407.04 551.0,406.83 554.5,407.01 556.0,406.79 558.5,406.76 559.5,406.98 560.0,406.98 563.5,406.76 564.0,406.91 565.0,406.85 567.0,407.08 568.0,407.02 568.5,406.83 569.0,406.21 569.5,405.19 570.5,402.34 571.0,401.94 571.5,402.78 572.5,405.69 573.0,406.52 574.0,406.89 574.5,406.84 575.0,406.28 575.5,404.92 576.5,400.09 577.0,398.32 577.5,398.50 579.0,405.13 579.5,406.34 580.0,406.69 580.5,406.78 581.0,406.59 581.5,406.10 582.0,405.21 583.0,402.34 583.5,401.70 584.0,402.31 585.0,405.35 585.5,406.21 586.0,406.58 586.5,406.73 587.0,406.74 587.5,406.41 588.0,405.29 589.5,398.74 590.0,398.45 590.5,400.13 591.5,405.01 592.0,406.26 592.5,406.66 593.5,406.76 594.0,406.31 594.5,405.30 595.5,401.68 596.0,400.82 596.5,401.29 597.5,404.70 598.0,405.97 598.5,406.61 599.0,406.96 599.5,406.90 602.0,407.16 603.0,407.16 603.5,407.06 604.5,407.13 605.0,407.04 606.5,407.19 607.0,407.14 607.5,406.89 608.0,406.33 608.5,405.30 609.5,402.49 610.0,401.95 610.5,402.80 611.5,405.56 612.0,406.40 612.5,406.77 613.0,406.84 613.5,406.79 614.0,406.33 614.5,405.22 615.5,400.20 616.0,398.42 616.5,398.65 618.0,405.33 618.5,406.50 619.0,406.91 619.5,407.03 620.0,406.87 620.5,406.50 621.0,405.44 621.5,403.26 622.5,396.78 623.0,395.31 623.5,396.85 624.5,403.41 625.0,405.53 625.5,406.48 626.0,406.46 626.5,405.64 627.0,403.17 628.5,388.73 629.0,388.22 629.5,392.12 630.5,402.60 631.0,405.27 631.5,406.36 632.0,406.57 632.5,406.08 633.0,404.79 634.0,400.57 634.5,399.38 635.0,399.88 636.0,403.99 636.5,405.61 637.0,406.32 637.5,406.65 638.5,406.89 639.5,406.97 640.0,406.86 642.5,406.95 643.0,406.87 644.5,407.20 646.5,407.21 648.0,407.07 650.5,407.17 654.0,406.90"/>
<circle cx="654.0" cy="345.1" r="1.7" fill="#b01838"/>
<circle cx="654.0" cy="383.4" r="1.7" fill="#1c149c"/>
<rect x="653" y="305" width="2.5" height="2.5" fill="#222"/>
<circle cx="268.3" cy="345.0" r="1.0" fill="#b01838"/>
<circle cx="268.3" cy="384.1" r="1.1" fill="#1c149c"/>
<text x="162.2" y="314.0" font-size="9.24" fill="#5c855c" font-weight="bold" text-anchor="start" textLength="103.6" lengthAdjust="spacingAndGlyphs" stroke="#5c855c" stroke-width="0.1">Compound alone (50 µM)</text>
<text x="112.5" y="351.2" font-size="9.24" fill="#d3283e" font-weight="bold" text-anchor="start" textLength="153.3" lengthAdjust="spacingAndGlyphs" stroke="#d3283e" stroke-width="0.25">Compound (50 µM) + Protein (2.5 µM)</text>
<text x="112.9" y="386.0" font-size="9.24" fill="#3a2fb0" font-weight="bold" text-anchor="start" textLength="152.9" lengthAdjust="spacingAndGlyphs" stroke="#3a2fb0" stroke-width="0.25">Compound (50 µM) + Protein (2.5 µM)</text>
<text x="204.6" y="394.3" font-size="9.24" fill="#3a2fb0" font-weight="bold" text-anchor="start" textLength="61.1" lengthAdjust="spacingAndGlyphs" stroke="#3a2fb0" stroke-width="0.25">+ cAMP (1 mM)</text>
<rect x="104.5" y="438.5" width="164.0" height="84.0" fill="none" stroke="#cbcbcb" stroke-width="1"/>
<line x1="268.5" y1="438.0" x2="268.5" y2="521.5" stroke="#bababa" stroke-width="1"/>
<line x1="268.0" y1="438.0" x2="270.0" y2="438.0" stroke="#b0b0b0" stroke-width="0.8"/>
<line x1="268.0" y1="443.2" x2="270.0" y2="443.2" stroke="#b0b0b0" stroke-width="0.8"/>
<line x1="268.0" y1="448.4" x2="270.0" y2="448.4" stroke="#b0b0b0" stroke-width="0.8"/>
<line x1="268.0" y1="453.7" x2="270.0" y2="453.7" stroke="#b0b0b0" stroke-width="0.8"/>
<line x1="268.0" y1="458.9" x2="270.0" y2="458.9" stroke="#b0b0b0" stroke-width="0.8"/>
<line x1="268.0" y1="464.1" x2="270.0" y2="464.1" stroke="#b0b0b0" stroke-width="0.8"/>
<line x1="268.0" y1="469.3" x2="270.0" y2="469.3" stroke="#b0b0b0" stroke-width="0.8"/>
<line x1="268.0" y1="474.5" x2="270.0" y2="474.5" stroke="#b0b0b0" stroke-width="0.8"/>
<line x1="268.0" y1="479.8" x2="270.0" y2="479.8" stroke="#b0b0b0" stroke-width="0.8"/>
<line x1="268.0" y1="485.0" x2="270.0" y2="485.0" stroke="#b0b0b0" stroke-width="0.8"/>
<line x1="268.0" y1="490.2" x2="270.0" y2="490.2" stroke="#b0b0b0" stroke-width="0.8"/>
<line x1="268.0" y1="495.4" x2="270.0" y2="495.4" stroke="#b0b0b0" stroke-width="0.8"/>
<line x1="268.0" y1="500.6" x2="270.0" y2="500.6" stroke="#b0b0b0" stroke-width="0.8"/>
<line x1="268.0" y1="505.8" x2="270.0" y2="505.8" stroke="#b0b0b0" stroke-width="0.8"/>
<line x1="268.0" y1="511.1" x2="270.0" y2="511.1" stroke="#b0b0b0" stroke-width="0.8"/>
<line x1="268.0" y1="516.3" x2="270.0" y2="516.3" stroke="#b0b0b0" stroke-width="0.8"/>
<line x1="268.0" y1="521.5" x2="270.0" y2="521.5" stroke="#b0b0b0" stroke-width="0.8"/>
<rect x="271.8" y="438.5" width="2.4" height="7" fill="#999"/>
<rect x="271.8" y="467.9" width="2.4" height="7" fill="#b0b0b0"/>
<rect x="271.8" y="498.5" width="2.4" height="7" fill="#b0b0b0"/>
<line x1="104.0" y1="521.5" x2="104.0" y2="523.0" stroke="#9a9a9a" stroke-width="0.7"/>
<line x1="108.3" y1="521.5" x2="108.3" y2="523.0" stroke="#9a9a9a" stroke-width="0.7"/>
<line x1="112.6" y1="521.5" x2="112.6" y2="523.0" stroke="#9a9a9a" stroke-width="0.7"/>
<line x1="116.9" y1="521.5" x2="116.9" y2="523.0" stroke="#9a9a9a" stroke-width="0.7"/>
<line x1="121.3" y1="521.5" x2="121.3" y2="523.0" stroke="#9a9a9a" stroke-width="0.7"/>
<line x1="125.6" y1="521.5" x2="125.6" y2="523.0" stroke="#9a9a9a" stroke-width="0.7"/>
<line x1="129.9" y1="521.5" x2="129.9" y2="523.0" stroke="#9a9a9a" stroke-width="0.7"/>
<line x1="134.2" y1="521.5" x2="134.2" y2="523.0" stroke="#9a9a9a" stroke-width="0.7"/>
<line x1="138.5" y1="521.5" x2="138.5" y2="523.0" stroke="#9a9a9a" stroke-width="0.7"/>
<line x1="142.8" y1="521.5" x2="142.8" y2="523.0" stroke="#9a9a9a" stroke-width="0.7"/>
<line x1="147.2" y1="521.5" x2="147.2" y2="523.0" stroke="#9a9a9a" stroke-width="0.7"/>
<line x1="151.5" y1="521.5" x2="151.5" y2="523.0" stroke="#9a9a9a" stroke-width="0.7"/>
<line x1="155.8" y1="521.5" x2="155.8" y2="523.0" stroke="#9a9a9a" stroke-width="0.7"/>
<line x1="160.1" y1="521.5" x2="160.1" y2="523.0" stroke="#9a9a9a" stroke-width="0.7"/>
<line x1="164.4" y1="521.5" x2="164.4" y2="523.0" stroke="#9a9a9a" stroke-width="0.7"/>
<line x1="168.7" y1="521.5" x2="168.7" y2="523.0" stroke="#9a9a9a" stroke-width="0.7"/>
<line x1="173.1" y1="521.5" x2="173.1" y2="523.0" stroke="#9a9a9a" stroke-width="0.7"/>
<line x1="177.4" y1="521.5" x2="177.4" y2="523.0" stroke="#9a9a9a" stroke-width="0.7"/>
<line x1="181.7" y1="521.5" x2="181.7" y2="523.0" stroke="#9a9a9a" stroke-width="0.7"/>
<line x1="186.0" y1="521.5" x2="186.0" y2="523.0" stroke="#9a9a9a" stroke-width="0.7"/>
<line x1="190.3" y1="521.5" x2="190.3" y2="523.0" stroke="#9a9a9a" stroke-width="0.7"/>
<line x1="194.6" y1="521.5" x2="194.6" y2="523.0" stroke="#9a9a9a" stroke-width="0.7"/>
<line x1="198.9" y1="521.5" x2="198.9" y2="523.0" stroke="#9a9a9a" stroke-width="0.7"/>
<line x1="203.3" y1="521.5" x2="203.3" y2="523.0" stroke="#9a9a9a" stroke-width="0.7"/>
<line x1="207.6" y1="521.5" x2="207.6" y2="523.0" stroke="#9a9a9a" stroke-width="0.7"/>
<line x1="211.9" y1="521.5" x2="211.9" y2="523.0" stroke="#9a9a9a" stroke-width="0.7"/>
<line x1="216.2" y1="521.5" x2="216.2" y2="523.0" stroke="#9a9a9a" stroke-width="0.7"/>
<line x1="220.5" y1="521.5" x2="220.5" y2="523.0" stroke="#9a9a9a" stroke-width="0.7"/>
<line x1="224.8" y1="521.5" x2="224.8" y2="523.0" stroke="#9a9a9a" stroke-width="0.7"/>
<line x1="229.2" y1="521.5" x2="229.2" y2="523.0" stroke="#9a9a9a" stroke-width="0.7"/>
<line x1="233.5" y1="521.5" x2="233.5" y2="523.0" stroke="#9a9a9a" stroke-width="0.7"/>
<line x1="237.8" y1="521.5" x2="237.8" y2="523.0" stroke="#9a9a9a" stroke-width="0.7"/>
<line x1="242.1" y1="521.5" x2="242.1" y2="523.0" stroke="#9a9a9a" stroke-width="0.7"/>
<line x1="246.4" y1="521.5" x2="246.4" y2="523.0" stroke="#9a9a9a" stroke-width="0.7"/>
<line x1="250.7" y1="521.5" x2="250.7" y2="523.0" stroke="#9a9a9a" stroke-width="0.7"/>
<line x1="255.1" y1="521.5" x2="255.1" y2="523.0" stroke="#9a9a9a" stroke-width="0.7"/>
<line x1="259.4" y1="521.5" x2="259.4" y2="523.0" stroke="#9a9a9a" stroke-width="0.7"/>
<line x1="263.7" y1="521.5" x2="263.7" y2="523.0" stroke="#9a9a9a" stroke-width="0.7"/>
<line x1="268.0" y1="521.5" x2="268.0" y2="523.0" stroke="#9a9a9a" stroke-width="0.7"/>
<text x="112.0" y="529.0" font-size="4.4" font-weight="bold" fill="#555" text-anchor="middle">7.6</text>
<text x="152.0" y="529.0" font-size="4.4" font-weight="bold" fill="#555" text-anchor="middle">7.4</text>
<text x="190.7" y="529.0" font-size="4.4" font-weight="bold" fill="#555" text-anchor="middle">7.3</text>
<text x="230.1" y="529.0" font-size="4.4" font-weight="bold" fill="#555" text-anchor="middle">7.2</text>
<text x="263.2" y="529.0" font-size="4.4" font-weight="bold" fill="#555" text-anchor="middle">[ppm]</text>
<polyline fill="none" stroke="#b2bcb2" stroke-width="1.1" stroke-linejoin="round"  points="105.0,455.95 105.5,454.86 106.0,454.47 106.5,454.64 107.0,454.96 108.0,457.20 108.5,457.63 109.0,458.60 109.5,459.05 110.0,459.05 111.0,459.47 112.0,458.86 112.5,459.42 113.5,457.41 114.0,456.95 115.0,458.34 116.0,458.61 116.5,458.36 117.0,457.05 117.5,458.49 118.0,458.81 118.5,458.19 119.0,458.52 119.5,458.06 120.5,458.67 121.0,458.66 121.5,459.42 122.0,458.81 122.5,459.05 123.0,460.13 123.5,459.14 124.0,459.18 124.5,458.42 125.0,458.02 125.5,458.86 126.0,458.97 126.5,459.35 127.5,458.51 128.0,458.85 128.5,458.12 129.0,457.80 129.5,458.74 130.5,458.22 131.0,458.17 131.5,458.42 132.0,458.11 132.5,458.21 133.0,459.20 133.5,459.86 134.0,459.86 134.5,460.04 135.0,460.68 135.5,460.12 136.0,460.24 136.5,460.68 137.0,460.86 137.5,460.07 138.0,460.27 138.5,459.89 139.5,458.43 140.0,459.06 140.5,459.18 141.0,458.61 141.5,458.29 142.0,459.21 142.5,458.84 143.0,458.86 144.0,459.58 145.0,459.19 145.5,459.64 146.0,459.73 146.5,458.84 147.0,458.63 147.5,458.90 148.0,458.55 148.5,458.48 149.0,457.89 150.0,457.54 151.5,458.79 152.0,458.35 152.5,458.96 153.0,458.69 153.5,459.57 154.0,459.46 155.0,458.74 156.0,458.51 156.5,458.89 157.0,458.79 157.5,458.29 158.0,458.13 159.0,459.72 160.0,458.96 160.5,458.74 161.5,457.92 162.5,458.45 163.0,457.84 164.5,459.10 165.5,459.03 166.0,458.82 166.5,459.38 167.0,459.01 167.5,459.23 168.0,458.03 168.5,457.38 169.0,457.36 170.0,457.99 170.5,458.51 171.0,458.77 171.5,458.85 172.0,458.33 173.0,459.16 173.5,459.29 174.0,458.88 174.5,459.29 175.0,459.45 176.0,458.84 176.5,459.18 177.0,458.97 177.5,459.33 178.0,459.00 178.5,459.16 179.0,458.69 179.5,458.60 180.0,458.82 180.5,459.22 181.0,459.33 181.5,460.23 182.0,460.06 182.5,460.12 183.0,459.79 183.5,460.59 184.0,460.60 184.5,459.37 185.5,459.25 186.0,458.96 186.5,459.44 187.0,459.56 187.5,459.93 188.0,459.45 188.5,459.47 189.0,460.20 189.5,460.44 190.0,459.46 190.5,459.53 191.0,459.14 191.5,459.62 192.0,459.89 192.5,459.95 193.0,459.62 194.0,459.87 194.5,460.51 195.0,459.25 195.5,458.81 196.0,458.11 196.5,457.84 197.0,457.27 197.5,457.59 198.0,458.40 198.5,457.82 199.5,458.00 200.0,458.27 200.5,458.39 201.0,459.16 201.5,459.21 202.0,459.53 202.5,458.40 203.0,458.06 203.5,458.48 204.0,459.86 204.5,460.56 205.0,460.70 205.5,459.83 206.0,459.69 206.5,459.00 207.0,458.88 207.5,459.58 208.5,458.85 209.0,458.99 209.5,458.53 210.0,458.89 210.5,458.39 211.0,458.49 211.5,459.40 212.0,458.41 212.5,457.99 213.0,458.18 213.5,457.64 214.0,457.68 214.5,457.17 215.5,457.54 216.0,457.16 217.0,457.89 217.5,457.00 218.0,457.28 218.5,457.29 219.0,457.89 220.0,458.37 220.5,458.00 221.0,459.02 221.5,458.98 222.0,459.60 222.5,459.45 223.5,459.42 224.0,459.61 224.5,459.42 225.0,459.90 225.5,459.23 226.0,459.84 226.5,459.14 227.0,458.77 227.5,459.29 228.0,459.33 228.5,459.05 230.0,459.30 230.5,458.85 231.0,459.09 231.5,459.02 232.0,458.10 232.5,457.72 233.0,458.13 233.5,457.61 234.0,457.43 235.0,456.71 235.5,457.13 236.0,457.00 237.0,458.73 237.5,458.42 238.0,458.62 238.5,458.61 239.5,459.26 240.0,458.52 241.0,458.85 241.5,458.03 242.0,458.37 243.0,457.47 244.0,457.75 244.5,458.20 245.0,458.29 245.5,457.53 246.0,457.35 246.5,457.41 247.5,458.51 248.5,456.94 249.5,457.44 250.0,457.30 250.5,457.56 251.0,457.64 251.5,458.01 252.0,457.62 253.0,458.41 254.0,457.74 255.0,459.00 255.5,459.23 256.0,459.17 256.5,459.51 257.0,459.66 257.5,459.53 258.0,459.83 258.5,460.42 259.0,460.18 260.0,458.59 260.5,457.94 261.0,457.57 261.5,458.53 262.0,458.51 262.5,458.63 263.0,458.23 263.5,458.15 264.0,459.09 264.5,459.22 265.0,459.60 265.5,460.32 266.0,459.47 266.5,460.13 267.0,459.92 267.5,460.12 268.0,460.52"/>
<polyline fill="none" stroke="#e48a97" stroke-width="1.1" stroke-linejoin="round"  points="105.0,509.69 105.5,509.60 106.5,510.60 107.0,511.36 108.0,512.25 108.5,511.89 110.0,509.62 112.0,504.87 113.0,503.72 113.5,503.73 114.0,503.38 116.0,501.19 117.0,500.40 117.5,500.17 118.0,500.16 119.5,500.58 120.5,500.06 121.5,499.22 122.5,498.72 124.5,498.41 125.0,498.48 125.5,498.07 126.0,497.84 127.0,497.56 127.5,497.57 128.0,497.85 128.5,497.45 129.0,497.54 129.5,497.48 130.0,497.19 130.5,497.24 131.0,496.78 131.5,496.60 132.0,496.68 134.0,495.77 134.5,495.69 136.0,495.12 136.5,495.13 137.5,494.72 138.5,494.48 139.0,494.52 139.5,494.72 142.5,497.34 143.0,497.38 143.5,497.23 144.0,497.41 145.0,497.16 146.5,497.18 147.5,496.53 148.0,496.61 148.5,496.38 149.5,495.46 151.0,495.11 151.5,494.82 153.0,494.76 153.5,494.50 154.0,494.61 155.5,494.37 159.5,495.49 160.0,495.69 160.5,496.08 162.0,496.22 163.0,496.85 163.5,496.69 164.0,496.17 164.5,495.90 166.0,496.30 166.5,496.11 168.0,496.82 168.5,496.38 169.5,496.07 171.5,496.17 172.0,496.67 172.5,496.73 175.5,496.16 176.5,496.18 177.0,496.39 178.5,497.46 180.0,498.87 180.5,499.18 181.0,499.33 182.0,500.64 183.0,501.25 183.5,501.31 184.5,502.05 185.5,502.28 186.0,502.69 186.5,502.80 187.0,503.41 187.5,503.45 188.0,503.64 188.5,503.59 189.0,503.91 189.5,503.75 190.0,503.76 191.0,503.13 191.5,502.94 192.0,503.17 192.5,502.92 193.0,503.01 194.0,502.57 194.5,502.78 195.0,502.70 195.5,502.42 196.5,502.27 197.0,502.51 200.0,505.69 200.5,505.82 201.0,506.26 202.5,506.74 203.5,506.02 204.0,505.39 205.0,503.03 206.0,501.62 206.5,501.53 208.0,500.68 208.5,500.65 209.0,500.42 209.5,499.85 211.5,498.62 214.0,498.42 214.5,498.55 215.5,498.41 216.0,498.50 217.5,499.41 219.0,500.76 221.0,501.83 221.5,501.93 222.0,501.69 224.0,502.00 225.0,502.39 226.0,503.04 226.5,503.10 227.0,503.38 228.0,503.44 228.5,503.58 229.0,503.90 229.5,503.75 230.5,504.14 231.5,505.05 232.0,505.16 233.0,505.72 234.0,506.60 235.0,506.93 235.5,507.22 236.0,507.27 236.5,507.57 237.0,507.59 237.5,507.77 238.0,508.55 239.5,510.26 241.0,511.51 241.5,511.22 242.0,511.16 242.5,510.83 244.0,507.81 245.0,505.49 246.0,503.66 247.5,502.87 250.0,498.64 251.0,497.60 251.5,497.64 252.0,497.84 253.0,497.82 254.0,497.54 254.5,497.08 255.5,496.87 256.0,496.94 257.0,496.56 257.5,496.21 258.0,496.45 258.5,496.05 260.0,495.58 260.5,495.52 261.0,495.61 261.5,495.44 262.0,495.75 262.5,495.76 263.0,496.01 263.5,496.54 264.0,496.68 264.5,497.09 265.0,497.15 266.0,497.52 266.5,497.26"/>
<rect x="267" y="437.5" width="2.5" height="2.5" fill="#222"/>
<rect x="297.5" y="438.5" width="164.0" height="84.0" fill="none" stroke="#cbcbcb" stroke-width="1"/>
<line x1="461.5" y1="438.0" x2="461.5" y2="521.5" stroke="#bababa" stroke-width="1"/>
<line x1="461.0" y1="438.0" x2="463.0" y2="438.0" stroke="#b0b0b0" stroke-width="0.8"/>
<line x1="461.0" y1="443.2" x2="463.0" y2="443.2" stroke="#b0b0b0" stroke-width="0.8"/>
<line x1="461.0" y1="448.4" x2="463.0" y2="448.4" stroke="#b0b0b0" stroke-width="0.8"/>
<line x1="461.0" y1="453.7" x2="463.0" y2="453.7" stroke="#b0b0b0" stroke-width="0.8"/>
<line x1="461.0" y1="458.9" x2="463.0" y2="458.9" stroke="#b0b0b0" stroke-width="0.8"/>
<line x1="461.0" y1="464.1" x2="463.0" y2="464.1" stroke="#b0b0b0" stroke-width="0.8"/>
<line x1="461.0" y1="469.3" x2="463.0" y2="469.3" stroke="#b0b0b0" stroke-width="0.8"/>
<line x1="461.0" y1="474.5" x2="463.0" y2="474.5" stroke="#b0b0b0" stroke-width="0.8"/>
<line x1="461.0" y1="479.8" x2="463.0" y2="479.8" stroke="#b0b0b0" stroke-width="0.8"/>
<line x1="461.0" y1="485.0" x2="463.0" y2="485.0" stroke="#b0b0b0" stroke-width="0.8"/>
<line x1="461.0" y1="490.2" x2="463.0" y2="490.2" stroke="#b0b0b0" stroke-width="0.8"/>
<line x1="461.0" y1="495.4" x2="463.0" y2="495.4" stroke="#b0b0b0" stroke-width="0.8"/>
<line x1="461.0" y1="500.6" x2="463.0" y2="500.6" stroke="#b0b0b0" stroke-width="0.8"/>
<line x1="461.0" y1="505.8" x2="463.0" y2="505.8" stroke="#b0b0b0" stroke-width="0.8"/>
<line x1="461.0" y1="511.1" x2="463.0" y2="511.1" stroke="#b0b0b0" stroke-width="0.8"/>
<line x1="461.0" y1="516.3" x2="463.0" y2="516.3" stroke="#b0b0b0" stroke-width="0.8"/>
<line x1="461.0" y1="521.5" x2="463.0" y2="521.5" stroke="#b0b0b0" stroke-width="0.8"/>
<rect x="464.8" y="438.5" width="2.4" height="7" fill="#999"/>
<rect x="464.8" y="467.9" width="2.4" height="7" fill="#b0b0b0"/>
<rect x="464.8" y="498.5" width="2.4" height="7" fill="#b0b0b0"/>
<line x1="297.0" y1="521.5" x2="297.0" y2="523.0" stroke="#9a9a9a" stroke-width="0.7"/>
<line x1="301.3" y1="521.5" x2="301.3" y2="523.0" stroke="#9a9a9a" stroke-width="0.7"/>
<line x1="305.6" y1="521.5" x2="305.6" y2="523.0" stroke="#9a9a9a" stroke-width="0.7"/>
<line x1="309.9" y1="521.5" x2="309.9" y2="523.0" stroke="#9a9a9a" stroke-width="0.7"/>
<line x1="314.3" y1="521.5" x2="314.3" y2="523.0" stroke="#9a9a9a" stroke-width="0.7"/>
<line x1="318.6" y1="521.5" x2="318.6" y2="523.0" stroke="#9a9a9a" stroke-width="0.7"/>
<line x1="322.9" y1="521.5" x2="322.9" y2="523.0" stroke="#9a9a9a" stroke-width="0.7"/>
<line x1="327.2" y1="521.5" x2="327.2" y2="523.0" stroke="#9a9a9a" stroke-width="0.7"/>
<line x1="331.5" y1="521.5" x2="331.5" y2="523.0" stroke="#9a9a9a" stroke-width="0.7"/>
<line x1="335.8" y1="521.5" x2="335.8" y2="523.0" stroke="#9a9a9a" stroke-width="0.7"/>
<line x1="340.2" y1="521.5" x2="340.2" y2="523.0" stroke="#9a9a9a" stroke-width="0.7"/>
<line x1="344.5" y1="521.5" x2="344.5" y2="523.0" stroke="#9a9a9a" stroke-width="0.7"/>
<line x1="348.8" y1="521.5" x2="348.8" y2="523.0" stroke="#9a9a9a" stroke-width="0.7"/>
<line x1="353.1" y1="521.5" x2="353.1" y2="523.0" stroke="#9a9a9a" stroke-width="0.7"/>
<line x1="357.4" y1="521.5" x2="357.4" y2="523.0" stroke="#9a9a9a" stroke-width="0.7"/>
<line x1="361.7" y1="521.5" x2="361.7" y2="523.0" stroke="#9a9a9a" stroke-width="0.7"/>
<line x1="366.1" y1="521.5" x2="366.1" y2="523.0" stroke="#9a9a9a" stroke-width="0.7"/>
<line x1="370.4" y1="521.5" x2="370.4" y2="523.0" stroke="#9a9a9a" stroke-width="0.7"/>
<line x1="374.7" y1="521.5" x2="374.7" y2="523.0" stroke="#9a9a9a" stroke-width="0.7"/>
<line x1="379.0" y1="521.5" x2="379.0" y2="523.0" stroke="#9a9a9a" stroke-width="0.7"/>
<line x1="383.3" y1="521.5" x2="383.3" y2="523.0" stroke="#9a9a9a" stroke-width="0.7"/>
<line x1="387.6" y1="521.5" x2="387.6" y2="523.0" stroke="#9a9a9a" stroke-width="0.7"/>
<line x1="391.9" y1="521.5" x2="391.9" y2="523.0" stroke="#9a9a9a" stroke-width="0.7"/>
<line x1="396.3" y1="521.5" x2="396.3" y2="523.0" stroke="#9a9a9a" stroke-width="0.7"/>
<line x1="400.6" y1="521.5" x2="400.6" y2="523.0" stroke="#9a9a9a" stroke-width="0.7"/>
<line x1="404.9" y1="521.5" x2="404.9" y2="523.0" stroke="#9a9a9a" stroke-width="0.7"/>
<line x1="409.2" y1="521.5" x2="409.2" y2="523.0" stroke="#9a9a9a" stroke-width="0.7"/>
<line x1="413.5" y1="521.5" x2="413.5" y2="523.0" stroke="#9a9a9a" stroke-width="0.7"/>
<line x1="417.8" y1="521.5" x2="417.8" y2="523.0" stroke="#9a9a9a" stroke-width="0.7"/>
<line x1="422.2" y1="521.5" x2="422.2" y2="523.0" stroke="#9a9a9a" stroke-width="0.7"/>
<line x1="426.5" y1="521.5" x2="426.5" y2="523.0" stroke="#9a9a9a" stroke-width="0.7"/>
<line x1="430.8" y1="521.5" x2="430.8" y2="523.0" stroke="#9a9a9a" stroke-width="0.7"/>
<line x1="435.1" y1="521.5" x2="435.1" y2="523.0" stroke="#9a9a9a" stroke-width="0.7"/>
<line x1="439.4" y1="521.5" x2="439.4" y2="523.0" stroke="#9a9a9a" stroke-width="0.7"/>
<line x1="443.7" y1="521.5" x2="443.7" y2="523.0" stroke="#9a9a9a" stroke-width="0.7"/>
<line x1="448.1" y1="521.5" x2="448.1" y2="523.0" stroke="#9a9a9a" stroke-width="0.7"/>
<line x1="452.4" y1="521.5" x2="452.4" y2="523.0" stroke="#9a9a9a" stroke-width="0.7"/>
<line x1="456.7" y1="521.5" x2="456.7" y2="523.0" stroke="#9a9a9a" stroke-width="0.7"/>
<line x1="461.0" y1="521.5" x2="461.0" y2="523.0" stroke="#9a9a9a" stroke-width="0.7"/>
<text x="305.0" y="529.0" font-size="4.4" font-weight="bold" fill="#555" text-anchor="middle">7.6</text>
<text x="345.0" y="529.0" font-size="4.4" font-weight="bold" fill="#555" text-anchor="middle">7.4</text>
<text x="383.7" y="529.0" font-size="4.4" font-weight="bold" fill="#555" text-anchor="middle">7.3</text>
<text x="423.1" y="529.0" font-size="4.4" font-weight="bold" fill="#555" text-anchor="middle">7.2</text>
<text x="456.2" y="529.0" font-size="4.4" font-weight="bold" fill="#555" text-anchor="middle">[ppm]</text>
<polyline fill="none" stroke="#b2bcb2" stroke-width="1.1" stroke-linejoin="round"  points="298.0,453.81 298.5,454.21 299.0,453.94 299.5,455.25 300.0,455.72 300.5,457.92 301.0,458.56 301.5,459.75 302.0,459.25 303.5,458.65 304.0,457.21 305.0,456.01 306.0,456.42 306.5,456.39 307.5,457.21 308.0,456.59 309.0,457.87 309.5,457.49 310.0,457.53 310.5,456.92 311.5,458.41 312.0,458.28 312.5,459.90 313.0,459.60 313.5,459.54 314.0,459.73 314.5,458.79 315.5,459.53 316.0,458.95 316.5,458.70 317.0,457.77 317.5,458.63 318.5,458.55 319.0,459.42 319.5,459.23 320.0,459.86 320.5,460.09 321.5,459.60 322.0,458.53 322.5,458.53 323.0,458.67 323.5,457.92 324.0,458.20 324.5,457.86 325.0,457.93 325.5,457.20 326.0,457.48 326.5,457.93 327.0,457.89 327.5,457.67 328.0,457.64 329.0,456.63 329.5,456.60 330.0,457.81 330.5,457.83 331.0,457.47 331.5,458.51 332.0,458.09 332.5,458.03 333.0,457.62 333.5,458.19 334.0,457.48 334.5,457.20 335.0,457.17 335.5,457.60 336.0,456.82 336.5,457.37 337.5,457.85 338.0,457.81 338.5,457.51 339.0,457.61 339.5,457.35 340.0,457.72 341.5,458.22 342.0,458.73 342.5,457.98 343.0,458.75 343.5,458.22 344.0,458.73 344.5,457.75 345.0,457.22 345.5,457.29 346.0,456.88 346.5,456.68 347.0,457.17 347.5,456.44 348.0,457.09 348.5,456.88 349.0,456.47 349.5,457.22 350.0,456.43 350.5,456.69 351.5,455.94 352.0,456.56 352.5,456.21 353.0,456.23 353.5,457.50 354.0,456.67 354.5,457.12 355.0,456.84 355.5,457.71 357.0,457.89 357.5,458.64 358.0,458.02 358.5,458.69 359.0,458.66 359.5,459.09 360.0,458.64 360.5,458.76 361.0,458.58 361.5,458.66 362.0,457.96 362.5,458.82 363.0,459.37 363.5,459.62 364.0,459.13 364.5,459.10 365.0,458.37 366.0,458.24 366.5,458.68 367.0,458.18 368.0,457.64 368.5,458.78 369.0,457.73 369.5,458.03 370.0,458.57 370.5,458.10 371.0,458.09 371.5,457.91 372.5,456.66 373.0,455.76 374.0,457.41 374.5,457.22 375.0,457.46 375.5,457.03 376.5,456.97 377.0,457.16 377.5,457.75 378.0,457.69 379.5,456.01 380.0,455.71 381.0,456.95 381.5,456.52 382.0,455.63 382.5,455.65 383.5,456.65 384.0,458.20 384.5,458.58 385.5,458.85 386.5,460.47 387.0,460.76 387.5,460.56 388.0,460.00 388.5,458.55 390.0,457.11 390.5,456.91 391.5,457.39 392.0,456.26 392.5,457.04 393.5,458.02 394.0,458.03 394.5,457.83 395.0,458.16 395.5,457.61 396.0,457.37 396.5,458.10 397.0,458.19 398.5,457.39 399.0,457.29 399.5,456.85 400.0,456.07 400.5,455.91 401.0,456.18 401.5,456.17 402.0,456.74 404.0,456.93 404.5,457.37 405.5,456.98 406.0,457.20 406.5,457.24 407.5,457.73 408.0,458.43 408.5,458.38 410.0,459.50 410.5,459.76 411.0,459.25 412.0,457.61 412.5,457.87 413.0,457.69 413.5,457.74 414.5,457.49 415.0,456.53 415.5,457.23 416.5,457.74 417.0,457.24 417.5,458.05 418.5,457.82 419.0,457.08 419.5,457.41 420.0,457.18 420.5,457.17 421.5,458.13 422.0,457.60 423.0,457.57 423.5,458.55 424.0,458.31 424.5,458.23 425.0,458.85 425.5,458.24 426.0,457.85 427.0,457.99 427.5,458.64 428.0,457.84 428.5,456.69 429.0,457.08 429.5,456.67 430.0,457.08 431.0,456.70 431.5,457.59 432.0,456.56 432.5,456.28 433.0,457.64 434.0,458.16 434.5,457.81 435.0,458.75 435.5,458.85 436.0,458.23 436.5,458.12 437.0,458.35 438.0,457.10 438.5,456.89 439.0,457.56 439.5,456.47 440.5,455.41 442.0,458.36 442.5,457.91 443.5,457.43 444.0,457.56 444.5,457.89 445.0,458.99 446.0,456.73 446.5,456.32 447.0,457.12 447.5,457.12 448.0,456.47 448.5,456.09 449.5,454.67 450.0,456.21 450.5,456.76 451.0,456.70 451.5,455.89 452.0,455.97 452.5,457.21 454.0,459.16 454.5,458.82 455.0,459.24 455.5,459.12 456.0,458.79 456.5,459.17 457.0,458.83 457.5,459.45 458.0,459.03 458.5,458.24 459.5,457.31 460.0,457.19 460.5,458.19 461.0,457.80"/>
<polyline fill="none" stroke="#e48a97" stroke-width="1.1" stroke-linejoin="round"  points="298.0,499.48 298.5,500.15 299.5,502.22 300.5,502.33 302.0,501.29 304.0,499.15 305.5,497.84 306.5,497.92 307.0,498.31 307.5,498.52 308.0,498.13 309.0,498.59 309.5,499.16 310.0,499.15 311.0,498.79 311.5,499.13 312.5,499.19 313.0,499.06 313.5,499.44 314.5,499.57 315.0,499.38 315.5,499.40 316.0,499.26 317.0,498.50 318.0,497.98 318.5,497.95 319.5,497.35 320.5,497.75 321.0,497.50 321.5,497.43 322.5,497.52 323.0,497.28 323.5,496.57 324.0,496.09 325.0,496.45 326.0,496.46 327.0,497.34 327.5,497.59 328.0,497.64 328.5,498.11 329.0,498.40 330.0,498.45 330.5,498.90 331.5,499.17 332.5,498.48 333.0,498.37 333.5,498.45 334.0,497.85 335.0,497.71 335.5,497.43 337.0,497.05 338.0,497.02 338.5,496.82 339.5,497.23 340.0,497.23 340.5,496.82 341.0,496.90 341.5,496.62 343.5,496.19 344.0,496.35 344.5,496.09 346.0,496.39 346.5,496.31 348.0,496.81 349.0,496.47 349.5,495.96 350.0,495.68 350.5,495.78 351.0,495.29 351.5,495.21 352.0,495.57 353.0,495.88 353.5,496.01 354.0,495.81 354.5,496.15 355.0,495.95 355.5,495.42 356.0,495.25 357.5,495.50 359.0,495.93 359.5,495.77 360.0,495.91 360.5,495.61 361.5,495.71 362.0,495.93 362.5,495.95 363.0,496.44 364.5,496.48 365.5,496.24 366.0,496.65 367.0,497.17 367.5,497.62 368.0,497.74 369.0,498.41 369.5,498.41 370.5,498.23 371.0,498.01 371.5,498.06 372.0,497.91 373.0,498.11 374.0,497.72 374.5,498.46 375.5,498.90 376.5,498.85 377.0,499.14 377.5,499.68 378.0,499.19 379.0,499.30 380.0,499.67 381.0,499.48 381.5,499.75 382.5,499.37 383.0,499.35 383.5,499.02 384.0,499.13 385.5,498.85 387.0,499.65 387.5,499.56 388.0,499.67 388.5,499.44 389.0,499.47 390.0,498.54 390.5,498.33 391.0,498.47 391.5,498.37 392.0,498.49 392.5,498.80 393.5,498.89 394.0,498.52 395.5,498.01 396.0,497.69 397.5,497.71 398.5,497.55 399.0,497.65 399.5,497.54 400.0,497.29 401.0,497.07 403.0,495.97 403.5,495.98 404.0,495.81 405.5,496.27 407.0,496.08 407.5,496.39 408.0,496.18 409.5,495.07 410.0,495.11 410.5,495.42 411.0,494.98 411.5,495.43 412.0,496.25 413.0,498.38 413.5,499.07 414.0,499.17 414.5,499.43 415.5,499.20 417.0,499.28 418.0,499.83 419.0,500.79 419.5,500.72 420.0,500.84 421.0,500.82 421.5,500.97 422.5,500.68 423.0,500.74 423.5,501.19 424.0,501.19 424.5,501.58 425.0,501.28 425.5,501.25 426.5,501.43 427.5,501.41 428.0,501.49 429.0,501.94 429.5,501.90 430.0,501.42 430.5,501.33 431.0,501.54 431.5,500.94 432.0,500.96 432.5,501.08 433.0,501.04 433.5,501.62 434.0,501.88 435.0,501.49 436.5,500.41 437.0,499.95 437.5,498.93 438.0,498.53 438.5,498.52 439.0,498.33 439.5,497.82 440.0,497.72 440.5,497.35 441.0,497.50 441.5,497.31 442.0,497.42 443.0,497.28 443.5,496.90 444.0,497.21 444.5,496.74 446.0,495.96 447.0,496.63 447.5,496.38 448.5,497.43 449.0,497.70 449.5,498.36 450.5,498.45 451.5,499.03 452.0,499.08 452.5,498.86 453.0,498.23 453.5,498.11 454.0,497.80 454.5,497.30 455.0,497.21 455.5,496.77 456.5,496.23 457.0,496.12 458.0,496.25 458.5,495.98 459.0,496.25 460.0,497.33 461.0,497.18"/>
<circle cx="461.0" cy="480.1" r="1.7" fill="#b01838"/>
<rect x="460" y="437.5" width="2.5" height="2.5" fill="#222"/>
<rect x="490.5" y="438.5" width="163.0" height="84.0" fill="none" stroke="#cbcbcb" stroke-width="1"/>
<line x1="653.5" y1="438.0" x2="653.5" y2="521.5" stroke="#bababa" stroke-width="1"/>
<line x1="653.0" y1="438.0" x2="655.0" y2="438.0" stroke="#b0b0b0" stroke-width="0.8"/>
<line x1="653.0" y1="443.2" x2="655.0" y2="443.2" stroke="#b0b0b0" stroke-width="0.8"/>
<line x1="653.0" y1="448.4" x2="655.0" y2="448.4" stroke="#b0b0b0" stroke-width="0.8"/>
<line x1="653.0" y1="453.7" x2="655.0" y2="453.7" stroke="#b0b0b0" stroke-width="0.8"/>
<line x1="653.0" y1="458.9" x2="655.0" y2="458.9" stroke="#b0b0b0" stroke-width="0.8"/>
<line x1="653.0" y1="464.1" x2="655.0" y2="464.1" stroke="#b0b0b0" stroke-width="0.8"/>
<line x1="653.0" y1="469.3" x2="655.0" y2="469.3" stroke="#b0b0b0" stroke-width="0.8"/>
<line x1="653.0" y1="474.5" x2="655.0" y2="474.5" stroke="#b0b0b0" stroke-width="0.8"/>
<line x1="653.0" y1="479.8" x2="655.0" y2="479.8" stroke="#b0b0b0" stroke-width="0.8"/>
<line x1="653.0" y1="485.0" x2="655.0" y2="485.0" stroke="#b0b0b0" stroke-width="0.8"/>
<line x1="653.0" y1="490.2" x2="655.0" y2="490.2" stroke="#b0b0b0" stroke-width="0.8"/>
<line x1="653.0" y1="495.4" x2="655.0" y2="495.4" stroke="#b0b0b0" stroke-width="0.8"/>
<line x1="653.0" y1="500.6" x2="655.0" y2="500.6" stroke="#b0b0b0" stroke-width="0.8"/>
<line x1="653.0" y1="505.8" x2="655.0" y2="505.8" stroke="#b0b0b0" stroke-width="0.8"/>
<line x1="653.0" y1="511.1" x2="655.0" y2="511.1" stroke="#b0b0b0" stroke-width="0.8"/>
<line x1="653.0" y1="516.3" x2="655.0" y2="516.3" stroke="#b0b0b0" stroke-width="0.8"/>
<line x1="653.0" y1="521.5" x2="655.0" y2="521.5" stroke="#b0b0b0" stroke-width="0.8"/>
<rect x="656.8" y="438.5" width="2.4" height="7" fill="#999"/>
<rect x="656.8" y="467.9" width="2.4" height="7" fill="#b0b0b0"/>
<rect x="656.8" y="498.5" width="2.4" height="7" fill="#b0b0b0"/>
<line x1="490.0" y1="521.5" x2="490.0" y2="523.0" stroke="#9a9a9a" stroke-width="0.7"/>
<line x1="494.4" y1="521.5" x2="494.4" y2="523.0" stroke="#9a9a9a" stroke-width="0.7"/>
<line x1="498.8" y1="521.5" x2="498.8" y2="523.0" stroke="#9a9a9a" stroke-width="0.7"/>
<line x1="503.2" y1="521.5" x2="503.2" y2="523.0" stroke="#9a9a9a" stroke-width="0.7"/>
<line x1="507.6" y1="521.5" x2="507.6" y2="523.0" stroke="#9a9a9a" stroke-width="0.7"/>
<line x1="512.0" y1="521.5" x2="512.0" y2="523.0" stroke="#9a9a9a" stroke-width="0.7"/>
<line x1="516.4" y1="521.5" x2="516.4" y2="523.0" stroke="#9a9a9a" stroke-width="0.7"/>
<line x1="520.8" y1="521.5" x2="520.8" y2="523.0" stroke="#9a9a9a" stroke-width="0.7"/>
<line x1="525.2" y1="521.5" x2="525.2" y2="523.0" stroke="#9a9a9a" stroke-width="0.7"/>
<line x1="529.6" y1="521.5" x2="529.6" y2="523.0" stroke="#9a9a9a" stroke-width="0.7"/>
<line x1="534.1" y1="521.5" x2="534.1" y2="523.0" stroke="#9a9a9a" stroke-width="0.7"/>
<line x1="538.5" y1="521.5" x2="538.5" y2="523.0" stroke="#9a9a9a" stroke-width="0.7"/>
<line x1="542.9" y1="521.5" x2="542.9" y2="523.0" stroke="#9a9a9a" stroke-width="0.7"/>
<line x1="547.3" y1="521.5" x2="547.3" y2="523.0" stroke="#9a9a9a" stroke-width="0.7"/>
<line x1="551.7" y1="521.5" x2="551.7" y2="523.0" stroke="#9a9a9a" stroke-width="0.7"/>
<line x1="556.1" y1="521.5" x2="556.1" y2="523.0" stroke="#9a9a9a" stroke-width="0.7"/>
<line x1="560.5" y1="521.5" x2="560.5" y2="523.0" stroke="#9a9a9a" stroke-width="0.7"/>
<line x1="564.9" y1="521.5" x2="564.9" y2="523.0" stroke="#9a9a9a" stroke-width="0.7"/>
<line x1="569.3" y1="521.5" x2="569.3" y2="523.0" stroke="#9a9a9a" stroke-width="0.7"/>
<line x1="573.7" y1="521.5" x2="573.7" y2="523.0" stroke="#9a9a9a" stroke-width="0.7"/>
<line x1="578.1" y1="521.5" x2="578.1" y2="523.0" stroke="#9a9a9a" stroke-width="0.7"/>
<line x1="582.5" y1="521.5" x2="582.5" y2="523.0" stroke="#9a9a9a" stroke-width="0.7"/>
<line x1="586.9" y1="521.5" x2="586.9" y2="523.0" stroke="#9a9a9a" stroke-width="0.7"/>
<line x1="591.3" y1="521.5" x2="591.3" y2="523.0" stroke="#9a9a9a" stroke-width="0.7"/>
<line x1="595.7" y1="521.5" x2="595.7" y2="523.0" stroke="#9a9a9a" stroke-width="0.7"/>
<line x1="600.1" y1="521.5" x2="600.1" y2="523.0" stroke="#9a9a9a" stroke-width="0.7"/>
<line x1="604.5" y1="521.5" x2="604.5" y2="523.0" stroke="#9a9a9a" stroke-width="0.7"/>
<line x1="608.9" y1="521.5" x2="608.9" y2="523.0" stroke="#9a9a9a" stroke-width="0.7"/>
<line x1="613.4" y1="521.5" x2="613.4" y2="523.0" stroke="#9a9a9a" stroke-width="0.7"/>
<line x1="617.8" y1="521.5" x2="617.8" y2="523.0" stroke="#9a9a9a" stroke-width="0.7"/>
<line x1="622.2" y1="521.5" x2="622.2" y2="523.0" stroke="#9a9a9a" stroke-width="0.7"/>
<line x1="626.6" y1="521.5" x2="626.6" y2="523.0" stroke="#9a9a9a" stroke-width="0.7"/>
<line x1="631.0" y1="521.5" x2="631.0" y2="523.0" stroke="#9a9a9a" stroke-width="0.7"/>
<line x1="635.4" y1="521.5" x2="635.4" y2="523.0" stroke="#9a9a9a" stroke-width="0.7"/>
<line x1="639.8" y1="521.5" x2="639.8" y2="523.0" stroke="#9a9a9a" stroke-width="0.7"/>
<line x1="644.2" y1="521.5" x2="644.2" y2="523.0" stroke="#9a9a9a" stroke-width="0.7"/>
<line x1="648.6" y1="521.5" x2="648.6" y2="523.0" stroke="#9a9a9a" stroke-width="0.7"/>
<line x1="653.0" y1="521.5" x2="653.0" y2="523.0" stroke="#9a9a9a" stroke-width="0.7"/>
<text x="498.0" y="529.0" font-size="4.4" font-weight="bold" fill="#555" text-anchor="middle">7.6</text>
<text x="538.0" y="529.0" font-size="4.4" font-weight="bold" fill="#555" text-anchor="middle">7.4</text>
<text x="576.7" y="529.0" font-size="4.4" font-weight="bold" fill="#555" text-anchor="middle">7.3</text>
<text x="616.1" y="529.0" font-size="4.4" font-weight="bold" fill="#555" text-anchor="middle">7.2</text>
<text x="649.2" y="529.0" font-size="4.4" font-weight="bold" fill="#555" text-anchor="middle">[ppm]</text>
<polyline fill="none" stroke="#b2bcb2" stroke-width="1.1" stroke-linejoin="round"  points="491.0,458.41 491.5,458.03 492.0,457.39 493.0,458.59 493.5,458.54 494.5,460.44 495.0,460.89 496.0,461.03 496.5,461.61 497.0,461.91 497.5,461.78 498.5,461.01 499.0,461.38 499.5,461.33 500.0,461.60 501.0,460.94 501.5,459.74 502.0,459.43 502.5,460.49 503.0,460.71 503.5,460.21 504.0,460.34 504.5,459.90 505.0,460.06 506.0,460.99 506.5,462.24 507.0,461.21 508.0,461.86 508.5,462.05 509.0,462.70 510.5,463.01 511.0,462.11 511.5,462.56 512.5,462.42 513.0,462.75 513.5,462.17 514.0,462.72 514.5,462.02 515.0,462.14 515.5,462.42 516.0,462.48 516.5,462.11 517.5,461.06 518.0,461.22 518.5,461.62 519.0,462.67 519.5,462.98 520.0,463.67 520.5,464.07 521.0,464.02 521.5,464.59 522.5,463.75 523.0,462.44 524.0,461.47 524.5,460.28 525.0,459.82 525.5,460.53 526.0,459.75 526.5,460.34 527.0,460.19 527.5,460.72 528.0,460.21 529.0,460.23 529.5,460.79 530.0,459.71 530.5,460.47 531.0,460.02 531.5,460.08 532.0,459.91 532.5,460.90 533.0,461.28 533.5,461.41 534.0,461.40 534.5,461.72 535.0,461.60 536.0,462.28 536.5,461.73 537.0,460.79 537.5,460.17 538.0,460.37 539.5,459.55 540.0,460.06 540.5,460.08 541.0,459.63 541.5,459.54 542.0,460.72 542.5,460.77 543.0,460.34 543.5,460.70 544.0,460.81 544.5,459.95 545.0,459.38 545.5,460.34 546.0,460.34 546.5,458.73 547.0,458.42 547.5,458.84 548.0,458.27 548.5,458.57 549.0,458.60 549.5,459.83 550.5,459.67 551.0,461.00 551.5,461.23 552.0,460.88 552.5,462.52 553.0,463.04 553.5,463.28 554.0,462.15 554.5,461.92 555.0,462.64 555.5,461.45 556.5,461.17 557.5,458.92 558.0,458.53 559.0,459.79 560.5,459.52 562.0,461.58 562.5,461.60 563.0,461.08 563.5,460.01 564.0,460.15 564.5,460.52 565.0,460.44 565.5,460.70 566.0,459.70 566.5,459.82 567.0,459.49 568.0,461.04 568.5,460.28 569.0,460.42 570.0,460.11 570.5,460.50 571.0,460.30 571.5,461.12 572.5,460.27 573.0,460.00 573.5,460.90 574.0,461.11 574.5,461.02 575.0,460.52 575.5,460.70 576.0,460.70 577.0,461.53 577.5,461.61 578.0,461.42 578.5,461.92 579.0,461.65 579.5,461.90 580.0,461.61 580.5,462.02 581.0,461.88 581.5,461.41 582.5,461.72 583.0,460.90 584.0,460.93 584.5,461.37 585.0,460.93 585.5,460.91 586.0,461.49 586.5,461.72 587.0,460.86 587.5,461.06 588.0,461.01 588.5,461.45 589.0,461.44 590.0,460.32 590.5,460.54 591.5,460.77 592.0,461.21 592.5,462.13 593.0,461.97 593.5,461.15 594.0,462.10 594.5,462.42 595.5,461.28 596.5,461.74 597.0,461.02 597.5,460.59 598.0,461.03 598.5,460.37 600.0,461.83 601.0,460.15 601.5,460.30 602.0,460.27 603.0,460.82 603.5,460.86 604.0,461.19 604.5,461.18 605.0,461.36 605.5,462.03 606.0,461.39 606.5,461.27 607.0,460.60 607.5,460.41 608.0,459.90 608.5,460.00 609.0,460.61 610.0,460.94 610.5,461.61 612.0,462.31 613.0,462.27 613.5,461.53 614.0,461.36 614.5,460.84 615.0,460.97 615.5,460.84 616.0,461.93 616.5,461.23 617.0,461.98 617.5,462.01 618.0,461.62 618.5,461.95 619.0,462.59 619.5,462.80 620.0,462.49 620.5,461.65 621.0,462.08 621.5,461.58 622.0,460.29 622.5,460.64 623.5,460.33 624.0,459.70 625.0,460.18 626.0,460.45 626.5,461.89 627.0,462.03 627.5,461.79 628.0,461.26 628.5,461.41 629.5,461.13 630.0,460.81 630.5,461.07 631.0,460.42 631.5,460.94 632.0,461.71 632.5,461.97 633.0,461.77 633.5,462.76 634.0,462.72 635.0,461.60 635.5,462.57 636.0,462.02 636.5,461.72 637.5,462.14 638.0,461.52 638.5,461.58 639.0,461.91 639.5,461.53 640.5,461.60 641.0,461.50 641.5,460.78 642.0,460.98 643.0,459.92 644.0,461.81 644.5,461.10 645.0,462.17 646.0,462.13 646.5,461.78 647.0,462.67 648.0,462.43 648.5,461.70 649.0,461.58 649.5,460.33 650.0,459.85 650.5,459.85 651.0,460.47 651.5,460.25 652.0,460.43 652.5,459.89 653.0,460.00"/>
<polyline fill="none" stroke="#e48a97" stroke-width="1.1" stroke-linejoin="round"  points="491.0,499.55 492.0,499.47 492.5,499.22 493.0,499.70 494.0,500.08 494.5,500.07 495.0,499.81 495.5,500.12 496.0,500.60 496.5,500.70 497.0,501.19 498.0,501.22 498.5,501.77 499.0,501.61 499.5,502.01 500.0,501.78 501.0,501.87 502.0,501.56 502.5,501.74 503.0,501.09 503.5,501.17 504.5,499.49 505.5,498.74 506.5,498.94 507.0,498.60 508.0,498.66 509.0,499.65 509.5,499.02 510.0,499.07 510.5,498.31 511.0,497.98 511.5,498.30 512.0,498.22 512.5,497.62 513.0,497.33 514.0,497.31 515.0,498.35 515.5,498.21 516.0,498.40 516.5,498.17 517.0,498.92 517.5,499.41 518.5,499.66 519.0,498.88 519.5,499.31 520.0,498.99 520.5,497.90 521.0,498.09 521.5,497.40 522.0,496.95 522.5,496.07 523.5,496.67 524.0,496.17 525.0,497.08 525.5,496.91 526.0,497.31 526.5,497.28 527.0,497.91 528.0,497.21 528.5,497.05 529.5,497.31 530.0,497.70 530.5,497.52 531.0,498.07 531.5,497.81 532.0,497.96 532.5,498.84 533.0,499.10 533.5,499.06 535.5,498.00 536.0,497.85 536.5,497.91 537.0,497.07 537.5,496.59 538.0,496.42 538.5,496.92 539.0,497.05 540.0,497.80 540.5,498.40 541.5,498.90 542.0,499.36 542.5,499.17 543.0,498.79 544.0,499.29 544.5,499.03 545.0,498.93 546.0,499.26 546.5,499.09 547.0,499.61 547.5,499.70 548.0,499.62 549.5,499.92 550.0,500.28 550.5,500.31 551.0,500.76 551.5,500.56 552.0,500.86 553.0,500.17 553.5,500.43 554.0,500.24 554.5,499.76 555.0,499.84 556.5,498.80 558.0,499.30 558.5,499.60 559.0,499.30 560.0,499.15 561.5,499.96 562.0,499.56 562.5,499.63 563.5,499.11 564.0,499.44 565.0,499.60 566.0,499.58 566.5,500.40 567.0,499.71 567.5,499.67 568.0,500.16 568.5,499.74 569.0,500.21 569.5,499.74 570.5,499.44 571.0,498.52 571.5,499.01 572.0,499.04 572.5,499.30 573.5,499.54 574.0,499.44 574.5,500.03 575.0,500.01 575.5,500.20 576.0,499.82 576.5,500.09 577.0,499.40 577.5,499.26 578.0,498.65 578.5,499.25 579.5,498.93 580.0,499.58 580.5,499.75 581.5,499.86 582.0,500.09 582.5,500.08 583.0,499.51 584.5,498.89 585.5,498.80 586.5,498.17 587.0,498.10 588.0,498.35 588.5,499.00 589.0,498.35 590.0,497.69 590.5,498.62 591.0,498.61 592.0,499.97 592.5,500.14 593.0,499.86 594.0,500.71 594.5,500.80 595.0,500.29 595.5,500.51 596.5,499.97 597.5,499.25 598.0,499.09 598.5,499.37 599.5,500.20 600.0,500.84 601.5,501.27 602.0,501.81 603.0,502.22 603.5,502.14 604.0,502.57 604.5,501.75 605.0,502.09 605.5,501.20 606.0,501.48 606.5,501.15 607.0,500.42 607.5,500.40 608.0,500.99 608.5,500.22 609.0,500.33 609.5,500.22 610.0,500.30 611.0,499.10 611.5,499.75 612.0,499.85 612.5,499.21 613.5,499.18 614.0,498.75 614.5,499.03 615.0,498.65 615.5,499.55 616.0,499.26 616.5,499.35 618.0,500.15 618.5,499.93 619.5,500.43 620.0,500.21 620.5,500.66 621.0,499.83 621.5,499.35 622.0,499.42 622.5,498.95 623.0,499.57 623.5,499.77 624.0,500.28 625.0,499.95 626.0,500.12 626.5,499.81 627.0,500.57 627.5,500.35 628.0,499.78 628.5,499.62 629.0,499.77 629.5,499.63 630.0,499.20 630.5,498.99 631.0,499.05 631.5,498.36 634.0,498.54 634.5,499.36 635.0,499.34 635.5,499.49 636.0,499.21 636.5,499.09 637.0,499.16 638.5,498.73 639.0,499.19 640.0,499.16 640.5,499.72 641.0,500.03 641.5,500.16 642.5,500.68 643.0,500.67 643.5,500.40 644.5,501.23 646.0,500.96 647.5,501.33 648.0,501.14 648.5,500.62 649.0,500.29 650.0,499.14 651.0,498.57 651.5,498.04 652.0,497.94 652.5,497.36 653.0,497.38"/>
<circle cx="653.0" cy="480.1" r="1.7" fill="#b01838"/>
<rect x="652" y="437.5" width="2.5" height="2.5" fill="#222"/>
<text x="158.0" y="449.5" font-size="9.24" fill="#5c855c" font-weight="bold" text-anchor="start" textLength="103.7" lengthAdjust="spacingAndGlyphs" stroke="#5c855c" stroke-width="0.1">Compound alone (50 µM)</text>
<text x="109.1" y="486.1" font-size="9.24" fill="#d3283e" font-weight="bold" text-anchor="start" textLength="153.1" lengthAdjust="spacingAndGlyphs" stroke="#d3283e" stroke-width="0.25">Compound (50 µM) + Protein (2.5 µM)</text>
<rect x="109.5" y="603.5" width="165.0" height="104.5" fill="none" stroke="#cbcbcb" stroke-width="1"/>
<line x1="274.5" y1="604.0" x2="274.5" y2="707.5" stroke="#bababa" stroke-width="1"/>
<line x1="274.0" y1="604.0" x2="276.0" y2="604.0" stroke="#b0b0b0" stroke-width="0.8"/>
<line x1="274.0" y1="609.2" x2="276.0" y2="609.2" stroke="#b0b0b0" stroke-width="0.8"/>
<line x1="274.0" y1="614.4" x2="276.0" y2="614.4" stroke="#b0b0b0" stroke-width="0.8"/>
<line x1="274.0" y1="619.5" x2="276.0" y2="619.5" stroke="#b0b0b0" stroke-width="0.8"/>
<line x1="274.0" y1="624.7" x2="276.0" y2="624.7" stroke="#b0b0b0" stroke-width="0.8"/>
<line x1="274.0" y1="629.9" x2="276.0" y2="629.9" stroke="#b0b0b0" stroke-width="0.8"/>
<line x1="274.0" y1="635.0" x2="276.0" y2="635.0" stroke="#b0b0b0" stroke-width="0.8"/>
<line x1="274.0" y1="640.2" x2="276.0" y2="640.2" stroke="#b0b0b0" stroke-width="0.8"/>
<line x1="274.0" y1="645.4" x2="276.0" y2="645.4" stroke="#b0b0b0" stroke-width="0.8"/>
<line x1="274.0" y1="650.6" x2="276.0" y2="650.6" stroke="#b0b0b0" stroke-width="0.8"/>
<line x1="274.0" y1="655.8" x2="276.0" y2="655.8" stroke="#b0b0b0" stroke-width="0.8"/>
<line x1="274.0" y1="660.9" x2="276.0" y2="660.9" stroke="#b0b0b0" stroke-width="0.8"/>
<line x1="274.0" y1="666.1" x2="276.0" y2="666.1" stroke="#b0b0b0" stroke-width="0.8"/>
<line x1="274.0" y1="671.3" x2="276.0" y2="671.3" stroke="#b0b0b0" stroke-width="0.8"/>
<line x1="274.0" y1="676.5" x2="276.0" y2="676.5" stroke="#b0b0b0" stroke-width="0.8"/>
<line x1="274.0" y1="681.6" x2="276.0" y2="681.6" stroke="#b0b0b0" stroke-width="0.8"/>
<line x1="274.0" y1="686.8" x2="276.0" y2="686.8" stroke="#b0b0b0" stroke-width="0.8"/>
<line x1="274.0" y1="692.0" x2="276.0" y2="692.0" stroke="#b0b0b0" stroke-width="0.8"/>
<line x1="274.0" y1="697.1" x2="276.0" y2="697.1" stroke="#b0b0b0" stroke-width="0.8"/>
<line x1="274.0" y1="702.3" x2="276.0" y2="702.3" stroke="#b0b0b0" stroke-width="0.8"/>
<line x1="274.0" y1="707.5" x2="276.0" y2="707.5" stroke="#b0b0b0" stroke-width="0.8"/>
<rect x="276.5" y="604.2" width="1.4" height="2.5" fill="#777"/>
<rect x="276.5" y="621.8" width="1.4" height="1.4" fill="#888"/>
<rect x="276.5" y="640.3" width="1.4" height="1.4" fill="#888"/>
<rect x="276.5" y="659.0" width="1.4" height="1.4" fill="#888"/>
<rect x="276.5" y="678.5" width="1.4" height="1.4" fill="#888"/>
<rect x="276.5" y="697.0" width="1.4" height="1.4" fill="#888"/>
<line x1="109.0" y1="707.5" x2="109.0" y2="709.0" stroke="#9a9a9a" stroke-width="0.7"/>
<line x1="113.3" y1="707.5" x2="113.3" y2="709.0" stroke="#9a9a9a" stroke-width="0.7"/>
<line x1="117.7" y1="707.5" x2="117.7" y2="709.0" stroke="#9a9a9a" stroke-width="0.7"/>
<line x1="122.0" y1="707.5" x2="122.0" y2="709.0" stroke="#9a9a9a" stroke-width="0.7"/>
<line x1="126.4" y1="707.5" x2="126.4" y2="709.0" stroke="#9a9a9a" stroke-width="0.7"/>
<line x1="130.7" y1="707.5" x2="130.7" y2="709.0" stroke="#9a9a9a" stroke-width="0.7"/>
<line x1="135.1" y1="707.5" x2="135.1" y2="709.0" stroke="#9a9a9a" stroke-width="0.7"/>
<line x1="139.4" y1="707.5" x2="139.4" y2="709.0" stroke="#9a9a9a" stroke-width="0.7"/>
<line x1="143.7" y1="707.5" x2="143.7" y2="709.0" stroke="#9a9a9a" stroke-width="0.7"/>
<line x1="148.1" y1="707.5" x2="148.1" y2="709.0" stroke="#9a9a9a" stroke-width="0.7"/>
<line x1="152.4" y1="707.5" x2="152.4" y2="709.0" stroke="#9a9a9a" stroke-width="0.7"/>
<line x1="156.8" y1="707.5" x2="156.8" y2="709.0" stroke="#9a9a9a" stroke-width="0.7"/>
<line x1="161.1" y1="707.5" x2="161.1" y2="709.0" stroke="#9a9a9a" stroke-width="0.7"/>
<line x1="165.4" y1="707.5" x2="165.4" y2="709.0" stroke="#9a9a9a" stroke-width="0.7"/>
<line x1="169.8" y1="707.5" x2="169.8" y2="709.0" stroke="#9a9a9a" stroke-width="0.7"/>
<line x1="174.1" y1="707.5" x2="174.1" y2="709.0" stroke="#9a9a9a" stroke-width="0.7"/>
<line x1="178.5" y1="707.5" x2="178.5" y2="709.0" stroke="#9a9a9a" stroke-width="0.7"/>
<line x1="182.8" y1="707.5" x2="182.8" y2="709.0" stroke="#9a9a9a" stroke-width="0.7"/>
<line x1="187.2" y1="707.5" x2="187.2" y2="709.0" stroke="#9a9a9a" stroke-width="0.7"/>
<line x1="191.5" y1="707.5" x2="191.5" y2="709.0" stroke="#9a9a9a" stroke-width="0.7"/>
<line x1="195.8" y1="707.5" x2="195.8" y2="709.0" stroke="#9a9a9a" stroke-width="0.7"/>
<line x1="200.2" y1="707.5" x2="200.2" y2="709.0" stroke="#9a9a9a" stroke-width="0.7"/>
<line x1="204.5" y1="707.5" x2="204.5" y2="709.0" stroke="#9a9a9a" stroke-width="0.7"/>
<line x1="208.9" y1="707.5" x2="208.9" y2="709.0" stroke="#9a9a9a" stroke-width="0.7"/>
<line x1="213.2" y1="707.5" x2="213.2" y2="709.0" stroke="#9a9a9a" stroke-width="0.7"/>
<line x1="217.6" y1="707.5" x2="217.6" y2="709.0" stroke="#9a9a9a" stroke-width="0.7"/>
<line x1="221.9" y1="707.5" x2="221.9" y2="709.0" stroke="#9a9a9a" stroke-width="0.7"/>
<line x1="226.2" y1="707.5" x2="226.2" y2="709.0" stroke="#9a9a9a" stroke-width="0.7"/>
<line x1="230.6" y1="707.5" x2="230.6" y2="709.0" stroke="#9a9a9a" stroke-width="0.7"/>
<line x1="234.9" y1="707.5" x2="234.9" y2="709.0" stroke="#9a9a9a" stroke-width="0.7"/>
<line x1="239.3" y1="707.5" x2="239.3" y2="709.0" stroke="#9a9a9a" stroke-width="0.7"/>
<line x1="243.6" y1="707.5" x2="243.6" y2="709.0" stroke="#9a9a9a" stroke-width="0.7"/>
<line x1="247.9" y1="707.5" x2="247.9" y2="709.0" stroke="#9a9a9a" stroke-width="0.7"/>
<line x1="252.3" y1="707.5" x2="252.3" y2="709.0" stroke="#9a9a9a" stroke-width="0.7"/>
<line x1="256.6" y1="707.5" x2="256.6" y2="709.0" stroke="#9a9a9a" stroke-width="0.7"/>
<line x1="261.0" y1="707.5" x2="261.0" y2="709.0" stroke="#9a9a9a" stroke-width="0.7"/>
<line x1="265.3" y1="707.5" x2="265.3" y2="709.0" stroke="#9a9a9a" stroke-width="0.7"/>
<line x1="269.7" y1="707.5" x2="269.7" y2="709.0" stroke="#9a9a9a" stroke-width="0.7"/>
<line x1="274.0" y1="707.5" x2="274.0" y2="709.0" stroke="#9a9a9a" stroke-width="0.7"/>
<text x="143.0" y="712.0" font-size="3.8" font-weight="normal" fill="#999" text-anchor="middle">2.0</text>
<text x="175.0" y="712.0" font-size="3.8" font-weight="normal" fill="#999" text-anchor="middle">1.5</text>
<text x="208.5" y="712.0" font-size="3.8" font-weight="normal" fill="#999" text-anchor="middle">1.0</text>
<text x="241.5" y="712.0" font-size="3.8" font-weight="normal" fill="#999" text-anchor="middle">0.5</text>
<text x="270.0" y="712.0" font-size="3.8" font-weight="normal" fill="#999" text-anchor="middle">ppm</text>
<polyline fill="none" stroke="#7fba7f" stroke-width="1.0" stroke-linejoin="round"  points="110.0,627.89 113.0,627.82 123.5,627.97 129.0,627.74 135.5,627.95 138.0,627.84 141.5,627.99 146.5,627.83 153.5,627.97 159.0,627.80 161.0,627.97 164.5,627.80 168.5,627.78 171.5,627.90 176.0,627.59 177.0,627.33 177.5,627.05 178.0,626.42 178.5,625.11 179.0,621.62 179.5,613.33 180.0,615.17 180.5,622.56 181.0,625.34 181.5,626.47 182.0,627.01 182.5,627.32 184.0,627.68 187.0,627.85 192.5,627.82 198.5,627.96 203.0,627.83 205.0,627.95 210.5,627.89 214.0,627.98 216.5,627.83 223.5,627.95 229.0,627.83 243.5,627.92 254.0,627.80 260.0,627.98 261.5,627.98 263.5,627.82 270.5,627.84 274.0,628.00"/>
<polyline fill="none" stroke="#eea0a8" stroke-width="1.0" stroke-linejoin="round"  points="110.0,662.95 117.0,662.78 126.0,662.78 129.0,662.91 136.0,662.78 138.0,662.86 141.5,662.70 149.5,662.87 160.0,662.73 164.0,662.91 171.0,662.69 179.5,662.84 182.0,662.72 190.5,662.84 199.5,662.65 205.5,662.93 212.0,662.75 215.0,662.84 219.0,662.75 236.5,662.84 237.5,662.76 243.5,662.88 254.5,662.80 257.0,662.69 266.0,662.90 269.0,662.73 274.0,662.68"/>
<polyline fill="none" stroke="#9e9ce8" stroke-width="1.0" stroke-linejoin="round"  points="110.0,698.08 113.5,697.99 121.5,698.09 125.0,697.94 126.5,698.01 132.0,697.91 135.5,698.01 140.0,697.88 145.0,698.11 147.5,697.95 153.5,698.07 155.5,697.91 167.5,697.96 171.0,698.14 176.0,697.92 184.0,698.07 187.5,697.94 195.5,698.09 203.5,697.94 208.5,698.03 219.5,697.96 223.0,698.07 229.0,697.98 231.5,698.06 234.5,697.91 242.0,698.10 246.0,697.94 250.5,698.07 256.0,697.94 259.5,698.10 264.5,697.94 271.5,698.15 274.0,698.02"/>
<rect x="304.5" y="603.5" width="163.0" height="104.5" fill="none" stroke="#cbcbcb" stroke-width="1"/>
<line x1="467.5" y1="604.0" x2="467.5" y2="707.5" stroke="#bababa" stroke-width="1"/>
<line x1="467.0" y1="604.0" x2="469.0" y2="604.0" stroke="#b0b0b0" stroke-width="0.8"/>
<line x1="467.0" y1="609.2" x2="469.0" y2="609.2" stroke="#b0b0b0" stroke-width="0.8"/>
<line x1="467.0" y1="614.4" x2="469.0" y2="614.4" stroke="#b0b0b0" stroke-width="0.8"/>
<line x1="467.0" y1="619.5" x2="469.0" y2="619.5" stroke="#b0b0b0" stroke-width="0.8"/>
<line x1="467.0" y1="624.7" x2="469.0" y2="624.7" stroke="#b0b0b0" stroke-width="0.8"/>
<line x1="467.0" y1="629.9" x2="469.0" y2="629.9" stroke="#b0b0b0" stroke-width="0.8"/>
<line x1="467.0" y1="635.0" x2="469.0" y2="635.0" stroke="#b0b0b0" stroke-width="0.8"/>
<line x1="467.0" y1="640.2" x2="469.0" y2="640.2" stroke="#b0b0b0" stroke-width="0.8"/>
<line x1="467.0" y1="645.4" x2="469.0" y2="645.4" stroke="#b0b0b0" stroke-width="0.8"/>
<line x1="467.0" y1="650.6" x2="469.0" y2="650.6" stroke="#b0b0b0" stroke-width="0.8"/>
<line x1="467.0" y1="655.8" x2="469.0" y2="655.8" stroke="#b0b0b0" stroke-width="0.8"/>
<line x1="467.0" y1="660.9" x2="469.0" y2="660.9" stroke="#b0b0b0" stroke-width="0.8"/>
<line x1="467.0" y1="666.1" x2="469.0" y2="666.1" stroke="#b0b0b0" stroke-width="0.8"/>
<line x1="467.0" y1="671.3" x2="469.0" y2="671.3" stroke="#b0b0b0" stroke-width="0.8"/>
<line x1="467.0" y1="676.5" x2="469.0" y2="676.5" stroke="#b0b0b0" stroke-width="0.8"/>
<line x1="467.0" y1="681.6" x2="469.0" y2="681.6" stroke="#b0b0b0" stroke-width="0.8"/>
<line x1="467.0" y1="686.8" x2="469.0" y2="686.8" stroke="#b0b0b0" stroke-width="0.8"/>
<line x1="467.0" y1="692.0" x2="469.0" y2="692.0" stroke="#b0b0b0" stroke-width="0.8"/>
<line x1="467.0" y1="697.1" x2="469.0" y2="697.1" stroke="#b0b0b0" stroke-width="0.8"/>
<line x1="467.0" y1="702.3" x2="469.0" y2="702.3" stroke="#b0b0b0" stroke-width="0.8"/>
<line x1="467.0" y1="707.5" x2="469.0" y2="707.5" stroke="#b0b0b0" stroke-width="0.8"/>
<rect x="469.5" y="604.2" width="1.4" height="2.5" fill="#777"/>
<rect x="469.5" y="621.8" width="1.4" height="1.4" fill="#888"/>
<rect x="469.5" y="640.3" width="1.4" height="1.4" fill="#888"/>
<rect x="469.5" y="659.0" width="1.4" height="1.4" fill="#888"/>
<rect x="469.5" y="678.5" width="1.4" height="1.4" fill="#888"/>
<rect x="469.5" y="697.0" width="1.4" height="1.4" fill="#888"/>
<line x1="304.0" y1="707.5" x2="304.0" y2="709.0" stroke="#9a9a9a" stroke-width="0.7"/>
<line x1="308.4" y1="707.5" x2="308.4" y2="709.0" stroke="#9a9a9a" stroke-width="0.7"/>
<line x1="312.8" y1="707.5" x2="312.8" y2="709.0" stroke="#9a9a9a" stroke-width="0.7"/>
<line x1="317.2" y1="707.5" x2="317.2" y2="709.0" stroke="#9a9a9a" stroke-width="0.7"/>
<line x1="321.6" y1="707.5" x2="321.6" y2="709.0" stroke="#9a9a9a" stroke-width="0.7"/>
<line x1="326.0" y1="707.5" x2="326.0" y2="709.0" stroke="#9a9a9a" stroke-width="0.7"/>
<line x1="330.4" y1="707.5" x2="330.4" y2="709.0" stroke="#9a9a9a" stroke-width="0.7"/>
<line x1="334.8" y1="707.5" x2="334.8" y2="709.0" stroke="#9a9a9a" stroke-width="0.7"/>
<line x1="339.2" y1="707.5" x2="339.2" y2="709.0" stroke="#9a9a9a" stroke-width="0.7"/>
<line x1="343.6" y1="707.5" x2="343.6" y2="709.0" stroke="#9a9a9a" stroke-width="0.7"/>
<line x1="348.1" y1="707.5" x2="348.1" y2="709.0" stroke="#9a9a9a" stroke-width="0.7"/>
<line x1="352.5" y1="707.5" x2="352.5" y2="709.0" stroke="#9a9a9a" stroke-width="0.7"/>
<line x1="356.9" y1="707.5" x2="356.9" y2="709.0" stroke="#9a9a9a" stroke-width="0.7"/>
<line x1="361.3" y1="707.5" x2="361.3" y2="709.0" stroke="#9a9a9a" stroke-width="0.7"/>
<line x1="365.7" y1="707.5" x2="365.7" y2="709.0" stroke="#9a9a9a" stroke-width="0.7"/>
<line x1="370.1" y1="707.5" x2="370.1" y2="709.0" stroke="#9a9a9a" stroke-width="0.7"/>
<line x1="374.5" y1="707.5" x2="374.5" y2="709.0" stroke="#9a9a9a" stroke-width="0.7"/>
<line x1="378.9" y1="707.5" x2="378.9" y2="709.0" stroke="#9a9a9a" stroke-width="0.7"/>
<line x1="383.3" y1="707.5" x2="383.3" y2="709.0" stroke="#9a9a9a" stroke-width="0.7"/>
<line x1="387.7" y1="707.5" x2="387.7" y2="709.0" stroke="#9a9a9a" stroke-width="0.7"/>
<line x1="392.1" y1="707.5" x2="392.1" y2="709.0" stroke="#9a9a9a" stroke-width="0.7"/>
<line x1="396.5" y1="707.5" x2="396.5" y2="709.0" stroke="#9a9a9a" stroke-width="0.7"/>
<line x1="400.9" y1="707.5" x2="400.9" y2="709.0" stroke="#9a9a9a" stroke-width="0.7"/>
<line x1="405.3" y1="707.5" x2="405.3" y2="709.0" stroke="#9a9a9a" stroke-width="0.7"/>
<line x1="409.7" y1="707.5" x2="409.7" y2="709.0" stroke="#9a9a9a" stroke-width="0.7"/>
<line x1="414.1" y1="707.5" x2="414.1" y2="709.0" stroke="#9a9a9a" stroke-width="0.7"/>
<line x1="418.5" y1="707.5" x2="418.5" y2="709.0" stroke="#9a9a9a" stroke-width="0.7"/>
<line x1="422.9" y1="707.5" x2="422.9" y2="709.0" stroke="#9a9a9a" stroke-width="0.7"/>
<line x1="427.4" y1="707.5" x2="427.4" y2="709.0" stroke="#9a9a9a" stroke-width="0.7"/>
<line x1="431.8" y1="707.5" x2="431.8" y2="709.0" stroke="#9a9a9a" stroke-width="0.7"/>
<line x1="436.2" y1="707.5" x2="436.2" y2="709.0" stroke="#9a9a9a" stroke-width="0.7"/>
<line x1="440.6" y1="707.5" x2="440.6" y2="709.0" stroke="#9a9a9a" stroke-width="0.7"/>
<line x1="445.0" y1="707.5" x2="445.0" y2="709.0" stroke="#9a9a9a" stroke-width="0.7"/>
<line x1="449.4" y1="707.5" x2="449.4" y2="709.0" stroke="#9a9a9a" stroke-width="0.7"/>
<line x1="453.8" y1="707.5" x2="453.8" y2="709.0" stroke="#9a9a9a" stroke-width="0.7"/>
<line x1="458.2" y1="707.5" x2="458.2" y2="709.0" stroke="#9a9a9a" stroke-width="0.7"/>
<line x1="462.6" y1="707.5" x2="462.6" y2="709.0" stroke="#9a9a9a" stroke-width="0.7"/>
<line x1="467.0" y1="707.5" x2="467.0" y2="709.0" stroke="#9a9a9a" stroke-width="0.7"/>
<text x="338.0" y="712.0" font-size="3.8" font-weight="normal" fill="#999" text-anchor="middle">2.0</text>
<text x="370.0" y="712.0" font-size="3.8" font-weight="normal" fill="#999" text-anchor="middle">1.5</text>
<text x="403.5" y="712.0" font-size="3.8" font-weight="normal" fill="#999" text-anchor="middle">1.0</text>
<text x="436.5" y="712.0" font-size="3.8" font-weight="normal" fill="#999" text-anchor="middle">0.5</text>
<text x="465.0" y="712.0" font-size="3.8" font-weight="normal" fill="#999" text-anchor="middle">ppm</text>
<polyline fill="none" stroke="#7fba7f" stroke-width="1.0" stroke-linejoin="round"  points="305.0,627.24 309.5,627.34 313.0,627.19 320.5,627.34 324.0,627.25 330.0,627.33 333.5,627.18 338.0,627.40 342.0,627.28 348.5,627.40 352.0,627.26 352.5,627.36 360.5,627.22 365.5,627.30 368.5,627.21 371.5,626.91 372.5,626.62 373.0,626.35 373.5,625.77 374.0,624.59 374.5,621.45 375.0,613.04 375.5,610.88 376.0,620.22 376.5,624.11 377.0,625.55 377.5,626.20 378.0,626.54 379.0,626.95 382.5,627.18 385.5,627.10 390.0,627.28 393.5,627.20 404.0,627.34 410.0,627.20 413.5,627.34 416.5,627.25 421.0,627.38 424.0,627.24 426.5,627.37 429.5,627.21 430.5,627.32 432.0,627.24 436.0,627.36 441.5,627.23 446.0,627.30 448.0,627.20 452.5,627.41 459.0,627.24 463.5,627.36 467.0,627.20"/>
<polyline fill="none" stroke="#eea0a8" stroke-width="1.0" stroke-linejoin="round"  points="305.0,662.00 312.0,661.92 316.5,662.03 326.5,661.92 332.0,662.08 339.0,661.90 342.5,662.07 346.0,661.92 349.5,662.02 357.5,661.87 363.0,662.01 368.0,661.84 370.5,661.63 373.0,661.12 375.0,660.14 375.5,659.94 376.0,659.91 376.5,660.06 378.5,661.10 379.5,661.40 381.5,661.75 384.0,661.85 390.5,661.84 394.0,662.03 400.5,661.96 404.0,662.12 408.0,661.98 421.0,662.03 424.5,661.93 432.0,662.11 440.5,661.87 447.5,662.02 453.5,661.90 461.0,662.16 467.0,662.05"/>
<polyline fill="none" stroke="#9e9ce8" stroke-width="1.0" stroke-linejoin="round"  points="305.0,697.13 308.0,697.14 309.5,697.26 313.0,697.15 315.0,697.23 321.5,697.14 325.0,697.32 328.5,697.13 331.5,697.33 335.0,697.14 338.0,697.25 346.0,697.11 351.0,697.23 357.0,697.14 365.5,697.21 370.0,696.98 372.5,696.58 374.0,695.78 375.5,694.52 376.0,694.49 376.5,694.81 377.5,695.74 378.5,696.34 380.0,696.75 382.5,697.02 387.0,696.99 390.5,697.23 407.5,697.07 411.0,697.32 417.0,697.11 420.0,697.25 422.0,697.13 425.5,697.25 428.5,697.15 431.5,697.26 435.0,697.14 438.0,697.25 441.5,697.12 448.5,697.23 451.5,697.14 457.5,697.28 461.0,697.13 464.0,697.26 467.0,697.17"/>
<rect x="490.5" y="603.5" width="165.0" height="104.5" fill="none" stroke="#cbcbcb" stroke-width="1"/>
<line x1="655.5" y1="604.0" x2="655.5" y2="707.5" stroke="#bababa" stroke-width="1"/>
<line x1="655.0" y1="604.0" x2="657.0" y2="604.0" stroke="#b0b0b0" stroke-width="0.8"/>
<line x1="655.0" y1="609.2" x2="657.0" y2="609.2" stroke="#b0b0b0" stroke-width="0.8"/>
<line x1="655.0" y1="614.4" x2="657.0" y2="614.4" stroke="#b0b0b0" stroke-width="0.8"/>
<line x1="655.0" y1="619.5" x2="657.0" y2="619.5" stroke="#b0b0b0" stroke-width="0.8"/>
<line x1="655.0" y1="624.7" x2="657.0" y2="624.7" stroke="#b0b0b0" stroke-width="0.8"/>
<line x1="655.0" y1="629.9" x2="657.0" y2="629.9" stroke="#b0b0b0" stroke-width="0.8"/>
<line x1="655.0" y1="635.0" x2="657.0" y2="635.0" stroke="#b0b0b0" stroke-width="0.8"/>
<line x1="655.0" y1="640.2" x2="657.0" y2="640.2" stroke="#b0b0b0" stroke-width="0.8"/>
<line x1="655.0" y1="645.4" x2="657.0" y2="645.4" stroke="#b0b0b0" stroke-width="0.8"/>
<line x1="655.0" y1="650.6" x2="657.0" y2="650.6" stroke="#b0b0b0" stroke-width="0.8"/>
<line x1="655.0" y1="655.8" x2="657.0" y2="655.8" stroke="#b0b0b0" stroke-width="0.8"/>
<line x1="655.0" y1="660.9" x2="657.0" y2="660.9" stroke="#b0b0b0" stroke-width="0.8"/>
<line x1="655.0" y1="666.1" x2="657.0" y2="666.1" stroke="#b0b0b0" stroke-width="0.8"/>
<line x1="655.0" y1="671.3" x2="657.0" y2="671.3" stroke="#b0b0b0" stroke-width="0.8"/>
<line x1="655.0" y1="676.5" x2="657.0" y2="676.5" stroke="#b0b0b0" stroke-width="0.8"/>
<line x1="655.0" y1="681.6" x2="657.0" y2="681.6" stroke="#b0b0b0" stroke-width="0.8"/>
<line x1="655.0" y1="686.8" x2="657.0" y2="686.8" stroke="#b0b0b0" stroke-width="0.8"/>
<line x1="655.0" y1="692.0" x2="657.0" y2="692.0" stroke="#b0b0b0" stroke-width="0.8"/>
<line x1="655.0" y1="697.1" x2="657.0" y2="697.1" stroke="#b0b0b0" stroke-width="0.8"/>
<line x1="655.0" y1="702.3" x2="657.0" y2="702.3" stroke="#b0b0b0" stroke-width="0.8"/>
<line x1="655.0" y1="707.5" x2="657.0" y2="707.5" stroke="#b0b0b0" stroke-width="0.8"/>
<rect x="657.5" y="604.2" width="1.4" height="2.5" fill="#777"/>
<rect x="657.5" y="621.8" width="1.4" height="1.4" fill="#888"/>
<rect x="657.5" y="640.3" width="1.4" height="1.4" fill="#888"/>
<rect x="657.5" y="659.0" width="1.4" height="1.4" fill="#888"/>
<rect x="657.5" y="678.5" width="1.4" height="1.4" fill="#888"/>
<rect x="657.5" y="697.0" width="1.4" height="1.4" fill="#888"/>
<line x1="490.0" y1="707.5" x2="490.0" y2="709.0" stroke="#9a9a9a" stroke-width="0.7"/>
<line x1="494.3" y1="707.5" x2="494.3" y2="709.0" stroke="#9a9a9a" stroke-width="0.7"/>
<line x1="498.7" y1="707.5" x2="498.7" y2="709.0" stroke="#9a9a9a" stroke-width="0.7"/>
<line x1="503.0" y1="707.5" x2="503.0" y2="709.0" stroke="#9a9a9a" stroke-width="0.7"/>
<line x1="507.4" y1="707.5" x2="507.4" y2="709.0" stroke="#9a9a9a" stroke-width="0.7"/>
<line x1="511.7" y1="707.5" x2="511.7" y2="709.0" stroke="#9a9a9a" stroke-width="0.7"/>
<line x1="516.1" y1="707.5" x2="516.1" y2="709.0" stroke="#9a9a9a" stroke-width="0.7"/>
<line x1="520.4" y1="707.5" x2="520.4" y2="709.0" stroke="#9a9a9a" stroke-width="0.7"/>
<line x1="524.7" y1="707.5" x2="524.7" y2="709.0" stroke="#9a9a9a" stroke-width="0.7"/>
<line x1="529.1" y1="707.5" x2="529.1" y2="709.0" stroke="#9a9a9a" stroke-width="0.7"/>
<line x1="533.4" y1="707.5" x2="533.4" y2="709.0" stroke="#9a9a9a" stroke-width="0.7"/>
<line x1="537.8" y1="707.5" x2="537.8" y2="709.0" stroke="#9a9a9a" stroke-width="0.7"/>
<line x1="542.1" y1="707.5" x2="542.1" y2="709.0" stroke="#9a9a9a" stroke-width="0.7"/>
<line x1="546.4" y1="707.5" x2="546.4" y2="709.0" stroke="#9a9a9a" stroke-width="0.7"/>
<line x1="550.8" y1="707.5" x2="550.8" y2="709.0" stroke="#9a9a9a" stroke-width="0.7"/>
<line x1="555.1" y1="707.5" x2="555.1" y2="709.0" stroke="#9a9a9a" stroke-width="0.7"/>
<line x1="559.5" y1="707.5" x2="559.5" y2="709.0" stroke="#9a9a9a" stroke-width="0.7"/>
<line x1="563.8" y1="707.5" x2="563.8" y2="709.0" stroke="#9a9a9a" stroke-width="0.7"/>
<line x1="568.2" y1="707.5" x2="568.2" y2="709.0" stroke="#9a9a9a" stroke-width="0.7"/>
<line x1="572.5" y1="707.5" x2="572.5" y2="709.0" stroke="#9a9a9a" stroke-width="0.7"/>
<line x1="576.8" y1="707.5" x2="576.8" y2="709.0" stroke="#9a9a9a" stroke-width="0.7"/>
<line x1="581.2" y1="707.5" x2="581.2" y2="709.0" stroke="#9a9a9a" stroke-width="0.7"/>
<line x1="585.5" y1="707.5" x2="585.5" y2="709.0" stroke="#9a9a9a" stroke-width="0.7"/>
<line x1="589.9" y1="707.5" x2="589.9" y2="709.0" stroke="#9a9a9a" stroke-width="0.7"/>
<line x1="594.2" y1="707.5" x2="594.2" y2="709.0" stroke="#9a9a9a" stroke-width="0.7"/>
<line x1="598.6" y1="707.5" x2="598.6" y2="709.0" stroke="#9a9a9a" stroke-width="0.7"/>
<line x1="602.9" y1="707.5" x2="602.9" y2="709.0" stroke="#9a9a9a" stroke-width="0.7"/>
<line x1="607.2" y1="707.5" x2="607.2" y2="709.0" stroke="#9a9a9a" stroke-width="0.7"/>
<line x1="611.6" y1="707.5" x2="611.6" y2="709.0" stroke="#9a9a9a" stroke-width="0.7"/>
<line x1="615.9" y1="707.5" x2="615.9" y2="709.0" stroke="#9a9a9a" stroke-width="0.7"/>
<line x1="620.3" y1="707.5" x2="620.3" y2="709.0" stroke="#9a9a9a" stroke-width="0.7"/>
<line x1="624.6" y1="707.5" x2="624.6" y2="709.0" stroke="#9a9a9a" stroke-width="0.7"/>
<line x1="628.9" y1="707.5" x2="628.9" y2="709.0" stroke="#9a9a9a" stroke-width="0.7"/>
<line x1="633.3" y1="707.5" x2="633.3" y2="709.0" stroke="#9a9a9a" stroke-width="0.7"/>
<line x1="637.6" y1="707.5" x2="637.6" y2="709.0" stroke="#9a9a9a" stroke-width="0.7"/>
<line x1="642.0" y1="707.5" x2="642.0" y2="709.0" stroke="#9a9a9a" stroke-width="0.7"/>
<line x1="646.3" y1="707.5" x2="646.3" y2="709.0" stroke="#9a9a9a" stroke-width="0.7"/>
<line x1="650.7" y1="707.5" x2="650.7" y2="709.0" stroke="#9a9a9a" stroke-width="0.7"/>
<line x1="655.0" y1="707.5" x2="655.0" y2="709.0" stroke="#9a9a9a" stroke-width="0.7"/>
<text x="524.0" y="712.0" font-size="3.8" font-weight="normal" fill="#999" text-anchor="middle">2.0</text>
<text x="556.0" y="712.0" font-size="3.8" font-weight="normal" fill="#999" text-anchor="middle">1.5</text>
<text x="589.5" y="712.0" font-size="3.8" font-weight="normal" fill="#999" text-anchor="middle">1.0</text>
<text x="622.5" y="712.0" font-size="3.8" font-weight="normal" fill="#999" text-anchor="middle">0.5</text>
<text x="651.0" y="712.0" font-size="3.8" font-weight="normal" fill="#999" text-anchor="middle">ppm</text>
<polyline fill="none" stroke="#7fba7f" stroke-width="1.0" stroke-linejoin="round"  points="491.0,627.84 498.0,627.79 502.5,627.94 508.5,627.80 516.0,627.95 519.0,627.82 522.0,627.91 524.5,627.79 527.5,627.93 533.0,627.85 537.5,627.96 541.5,627.81 546.5,627.97 553.0,627.84 554.0,627.68 558.0,627.41 558.5,627.20 559.0,626.83 559.5,626.16 560.0,624.77 560.5,621.01 561.0,612.06 561.5,614.06 562.0,622.11 562.5,625.11 563.0,626.33 563.5,626.88 564.0,627.21 565.0,627.51 566.0,627.67 572.0,627.87 580.5,627.84 584.0,627.98 590.5,627.78 597.5,627.93 600.0,627.83 603.5,627.94 611.5,627.80 619.0,627.97 624.5,627.83 628.0,627.96 630.5,627.87 634.5,627.98 636.5,627.86 639.0,627.97 642.5,627.77 646.5,627.97 650.0,627.80 653.0,627.98 655.0,627.92"/>
<polyline fill="none" stroke="#eea0a8" stroke-width="1.0" stroke-linejoin="round"  points="491.0,662.97 497.5,662.77 500.0,662.88 504.5,662.85 508.0,662.69 511.0,662.82 514.5,662.72 518.0,662.86 522.0,662.71 538.5,662.85 542.5,662.72 550.0,662.72 555.5,662.51 557.0,662.30 558.0,662.00 559.0,661.45 559.5,661.03 560.0,660.44 560.5,659.55 561.5,657.09 562.0,656.17 562.5,656.28 564.0,659.88 564.5,660.67 565.0,661.18 566.0,661.85 567.5,662.28 569.0,662.48 574.0,662.72 586.5,662.73 595.5,662.87 600.0,662.86 602.5,662.73 606.5,662.89 610.0,662.76 616.0,662.83 619.5,662.74 621.0,662.86 624.5,662.77 629.0,662.87 632.5,662.77 636.5,662.83 639.5,662.67 642.5,662.90 646.0,662.80 650.0,662.89 653.0,662.69 655.0,662.73"/>
<polyline fill="none" stroke="#9e9ce8" stroke-width="1.0" stroke-linejoin="round"  points="491.0,697.53 493.5,697.55 497.0,697.39 500.5,697.55 503.5,697.47 505.5,697.57 509.0,697.40 513.0,697.55 524.5,697.40 527.5,697.51 531.0,697.43 540.5,697.54 548.5,697.47 554.5,697.23 558.0,696.72 559.0,696.34 559.5,696.01 560.5,694.85 562.0,691.94 562.5,692.07 564.0,694.97 565.0,696.11 565.5,696.45 567.0,697.03 569.5,697.30 573.5,697.49 587.0,697.39 590.5,697.55 593.0,697.48 596.5,697.57 600.0,697.52 601.0,697.61 618.5,697.42 622.5,697.54 630.0,697.45 637.0,697.58 645.5,697.41 652.0,697.57 655.0,697.41"/>
<circle cx="655.0" cy="604.5" r="1.8" fill="#1a8a1a"/>
<text x="162.7" y="615.7" font-size="9.38" fill="#5c855c" font-weight="bold" text-anchor="start" textLength="107.4" lengthAdjust="spacingAndGlyphs" stroke="#5c855c" stroke-width="0.1">Compound alone (50 µM)</text>
<text x="111.6" y="644.4" font-size="9.38" fill="#d3283e" font-weight="bold" text-anchor="start" textLength="158.5" lengthAdjust="spacingAndGlyphs" stroke="#d3283e" stroke-width="0.25">Compound (50 µM) + Protein (2.5 µM)</text>
<text x="111.6" y="674.6" font-size="9.38" fill="#3a2fb0" font-weight="bold" text-anchor="start" textLength="158.5" lengthAdjust="spacingAndGlyphs" stroke="#3a2fb0" stroke-width="0.25">Compound (50 µM) + Protein (2.5 µM)</text>
<text x="206.6" y="692.5" font-size="9.38" fill="#3a2fb0" font-weight="bold" text-anchor="start" textLength="63.8" lengthAdjust="spacingAndGlyphs" stroke="#3a2fb0" stroke-width="0.25">+ cAMP (1 mM)</text>
<circle cx="272.8" cy="639.6" r="1.1" fill="#c01838"/>
<circle cx="272.8" cy="674.0" r="1.2" fill="#1c149c"/>
<path d="M272.3,603.6 L276.3,603.6 L274.3,606.6 Z" fill="#222"/>
<rect x="109.5" y="720.5" width="165.0" height="104.0" fill="none" stroke="#cbcbcb" stroke-width="1"/>
<line x1="274.5" y1="721.0" x2="274.5" y2="824.0" stroke="#bababa" stroke-width="1"/>
<line x1="274.0" y1="721.0" x2="276.0" y2="721.0" stroke="#b0b0b0" stroke-width="0.8"/>
<line x1="274.0" y1="726.1" x2="276.0" y2="726.1" stroke="#b0b0b0" stroke-width="0.8"/>
<line x1="274.0" y1="731.3" x2="276.0" y2="731.3" stroke="#b0b0b0" stroke-width="0.8"/>
<line x1="274.0" y1="736.5" x2="276.0" y2="736.5" stroke="#b0b0b0" stroke-width="0.8"/>
<line x1="274.0" y1="741.6" x2="276.0" y2="741.6" stroke="#b0b0b0" stroke-width="0.8"/>
<line x1="274.0" y1="746.8" x2="276.0" y2="746.8" stroke="#b0b0b0" stroke-width="0.8"/>
<line x1="274.0" y1="751.9" x2="276.0" y2="751.9" stroke="#b0b0b0" stroke-width="0.8"/>
<line x1="274.0" y1="757.0" x2="276.0" y2="757.0" stroke="#b0b0b0" stroke-width="0.8"/>
<line x1="274.0" y1="762.2" x2="276.0" y2="762.2" stroke="#b0b0b0" stroke-width="0.8"/>
<line x1="274.0" y1="767.4" x2="276.0" y2="767.4" stroke="#b0b0b0" stroke-width="0.8"/>
<line x1="274.0" y1="772.5" x2="276.0" y2="772.5" stroke="#b0b0b0" stroke-width="0.8"/>
<line x1="274.0" y1="777.6" x2="276.0" y2="777.6" stroke="#b0b0b0" stroke-width="0.8"/>
<line x1="274.0" y1="782.8" x2="276.0" y2="782.8" stroke="#b0b0b0" stroke-width="0.8"/>
<line x1="274.0" y1="788.0" x2="276.0" y2="788.0" stroke="#b0b0b0" stroke-width="0.8"/>
<line x1="274.0" y1="793.1" x2="276.0" y2="793.1" stroke="#b0b0b0" stroke-width="0.8"/>
<line x1="274.0" y1="798.2" x2="276.0" y2="798.2" stroke="#b0b0b0" stroke-width="0.8"/>
<line x1="274.0" y1="803.4" x2="276.0" y2="803.4" stroke="#b0b0b0" stroke-width="0.8"/>
<line x1="274.0" y1="808.5" x2="276.0" y2="808.5" stroke="#b0b0b0" stroke-width="0.8"/>
<line x1="274.0" y1="813.7" x2="276.0" y2="813.7" stroke="#b0b0b0" stroke-width="0.8"/>
<line x1="274.0" y1="818.9" x2="276.0" y2="818.9" stroke="#b0b0b0" stroke-width="0.8"/>
<line x1="274.0" y1="824.0" x2="276.0" y2="824.0" stroke="#b0b0b0" stroke-width="0.8"/>
<rect x="276.5" y="720.5" width="1.5" height="3" fill="#999"/>
<rect x="276.5" y="738.5" width="1.5" height="3" fill="#aaa"/>
<rect x="276.5" y="766.0" width="1.5" height="3" fill="#aaa"/>
<rect x="276.5" y="793.5" width="1.5" height="3" fill="#aaa"/>
<rect x="276.5" y="815.5" width="1.5" height="3" fill="#aaa"/>
<line x1="109.0" y1="824.0" x2="109.0" y2="825.5" stroke="#9a9a9a" stroke-width="0.7"/>
<line x1="113.3" y1="824.0" x2="113.3" y2="825.5" stroke="#9a9a9a" stroke-width="0.7"/>
<line x1="117.7" y1="824.0" x2="117.7" y2="825.5" stroke="#9a9a9a" stroke-width="0.7"/>
<line x1="122.0" y1="824.0" x2="122.0" y2="825.5" stroke="#9a9a9a" stroke-width="0.7"/>
<line x1="126.4" y1="824.0" x2="126.4" y2="825.5" stroke="#9a9a9a" stroke-width="0.7"/>
<line x1="130.7" y1="824.0" x2="130.7" y2="825.5" stroke="#9a9a9a" stroke-width="0.7"/>
<line x1="135.1" y1="824.0" x2="135.1" y2="825.5" stroke="#9a9a9a" stroke-width="0.7"/>
<line x1="139.4" y1="824.0" x2="139.4" y2="825.5" stroke="#9a9a9a" stroke-width="0.7"/>
<line x1="143.7" y1="824.0" x2="143.7" y2="825.5" stroke="#9a9a9a" stroke-width="0.7"/>
<line x1="148.1" y1="824.0" x2="148.1" y2="825.5" stroke="#9a9a9a" stroke-width="0.7"/>
<line x1="152.4" y1="824.0" x2="152.4" y2="825.5" stroke="#9a9a9a" stroke-width="0.7"/>
<line x1="156.8" y1="824.0" x2="156.8" y2="825.5" stroke="#9a9a9a" stroke-width="0.7"/>
<line x1="161.1" y1="824.0" x2="161.1" y2="825.5" stroke="#9a9a9a" stroke-width="0.7"/>
<line x1="165.4" y1="824.0" x2="165.4" y2="825.5" stroke="#9a9a9a" stroke-width="0.7"/>
<line x1="169.8" y1="824.0" x2="169.8" y2="825.5" stroke="#9a9a9a" stroke-width="0.7"/>
<line x1="174.1" y1="824.0" x2="174.1" y2="825.5" stroke="#9a9a9a" stroke-width="0.7"/>
<line x1="178.5" y1="824.0" x2="178.5" y2="825.5" stroke="#9a9a9a" stroke-width="0.7"/>
<line x1="182.8" y1="824.0" x2="182.8" y2="825.5" stroke="#9a9a9a" stroke-width="0.7"/>
<line x1="187.2" y1="824.0" x2="187.2" y2="825.5" stroke="#9a9a9a" stroke-width="0.7"/>
<line x1="191.5" y1="824.0" x2="191.5" y2="825.5" stroke="#9a9a9a" stroke-width="0.7"/>
<line x1="195.8" y1="824.0" x2="195.8" y2="825.5" stroke="#9a9a9a" stroke-width="0.7"/>
<line x1="200.2" y1="824.0" x2="200.2" y2="825.5" stroke="#9a9a9a" stroke-width="0.7"/>
<line x1="204.5" y1="824.0" x2="204.5" y2="825.5" stroke="#9a9a9a" stroke-width="0.7"/>
<line x1="208.9" y1="824.0" x2="208.9" y2="825.5" stroke="#9a9a9a" stroke-width="0.7"/>
<line x1="213.2" y1="824.0" x2="213.2" y2="825.5" stroke="#9a9a9a" stroke-width="0.7"/>
<line x1="217.6" y1="824.0" x2="217.6" y2="825.5" stroke="#9a9a9a" stroke-width="0.7"/>
<line x1="221.9" y1="824.0" x2="221.9" y2="825.5" stroke="#9a9a9a" stroke-width="0.7"/>
<line x1="226.2" y1="824.0" x2="226.2" y2="825.5" stroke="#9a9a9a" stroke-width="0.7"/>
<line x1="230.6" y1="824.0" x2="230.6" y2="825.5" stroke="#9a9a9a" stroke-width="0.7"/>
<line x1="234.9" y1="824.0" x2="234.9" y2="825.5" stroke="#9a9a9a" stroke-width="0.7"/>
<line x1="239.3" y1="824.0" x2="239.3" y2="825.5" stroke="#9a9a9a" stroke-width="0.7"/>
<line x1="243.6" y1="824.0" x2="243.6" y2="825.5" stroke="#9a9a9a" stroke-width="0.7"/>
<line x1="247.9" y1="824.0" x2="247.9" y2="825.5" stroke="#9a9a9a" stroke-width="0.7"/>
<line x1="252.3" y1="824.0" x2="252.3" y2="825.5" stroke="#9a9a9a" stroke-width="0.7"/>
<line x1="256.6" y1="824.0" x2="256.6" y2="825.5" stroke="#9a9a9a" stroke-width="0.7"/>
<line x1="261.0" y1="824.0" x2="261.0" y2="825.5" stroke="#9a9a9a" stroke-width="0.7"/>
<line x1="265.3" y1="824.0" x2="265.3" y2="825.5" stroke="#9a9a9a" stroke-width="0.7"/>
<line x1="269.7" y1="824.0" x2="269.7" y2="825.5" stroke="#9a9a9a" stroke-width="0.7"/>
<line x1="274.0" y1="824.0" x2="274.0" y2="825.5" stroke="#9a9a9a" stroke-width="0.7"/>
<text x="143.0" y="829.0" font-size="3.8" font-weight="normal" fill="#999" text-anchor="middle">2.0</text>
<text x="175.0" y="829.0" font-size="3.8" font-weight="normal" fill="#999" text-anchor="middle">1.5</text>
<text x="208.5" y="829.0" font-size="3.8" font-weight="normal" fill="#999" text-anchor="middle">1.0</text>
<text x="241.5" y="829.0" font-size="3.8" font-weight="normal" fill="#999" text-anchor="middle">0.5</text>
<text x="270.0" y="829.0" font-size="3.8" font-weight="normal" fill="#999" text-anchor="middle">ppm</text>
<polyline fill="none" stroke="#e48a97" stroke-width="1.0" stroke-linejoin="round"  points="110.0,743.15 110.5,743.17 111.0,743.01 111.5,743.35 112.5,743.41 114.0,743.03 115.0,743.53 116.0,743.49 117.0,743.59 117.5,743.40 118.0,743.40 119.5,743.71 120.0,743.57 120.5,743.64 121.0,743.47 123.5,743.56 124.0,743.24 124.5,743.45 125.0,743.33 125.5,743.78 126.5,743.17 127.0,743.07 127.5,743.12 128.0,743.43 128.5,743.12 129.0,743.08 130.5,743.32 131.0,743.20 131.5,743.29 132.0,743.12 132.5,743.56 133.5,744.09 134.0,743.56 134.5,743.40 136.0,743.76 138.0,743.52 139.0,744.06 139.5,743.76 140.0,743.89 140.5,743.44 141.0,743.67 141.5,743.42 142.0,743.63 143.0,743.64 144.5,743.38 145.5,743.39 146.0,743.64 146.5,743.59 147.0,743.76 147.5,743.46 148.5,743.33 149.5,743.73 150.0,743.73 151.5,743.31 152.0,743.49 152.5,743.34 153.0,743.55 153.5,743.59 154.0,743.58 155.0,743.30 155.5,743.43 156.5,743.07 157.0,743.01 158.0,743.27 158.5,743.07 159.0,743.33 159.5,743.39 160.0,743.32 160.5,742.84 162.0,743.25 162.5,743.08 163.5,743.12 164.5,743.63 165.5,743.30 166.0,743.31 166.5,743.75 167.0,743.78 167.5,743.96 168.0,743.65 168.5,743.75 169.0,743.61 169.5,743.92 170.0,743.64 170.5,743.59 171.0,743.34 172.5,743.53 173.0,743.70 173.5,743.27 174.0,743.26 174.5,743.01 175.0,743.25 175.5,743.20 176.0,743.37 177.0,742.92 177.5,742.95 178.5,742.72 179.0,742.37 179.5,741.51 180.0,740.06 180.5,740.27 181.0,741.81 181.5,742.54 183.0,743.88 184.5,742.77 185.0,743.27 186.0,743.53 187.0,743.35 187.5,743.51 188.0,743.41 188.5,743.50 189.0,743.10 190.0,743.31 190.5,743.33 191.0,743.20 192.5,743.76 193.5,743.59 195.0,743.62 196.0,743.44 196.5,743.65 197.0,743.39 198.0,743.33 198.5,743.53 200.0,743.25 201.0,743.22 201.5,743.46 203.0,743.25 204.0,743.51 205.0,743.40 206.5,743.67 207.0,743.27 208.0,743.27 209.0,743.57 209.5,743.31 210.5,743.49 211.0,743.76 212.0,743.71 212.5,743.88 213.0,743.72 213.5,743.14 214.0,742.80 214.5,743.00 215.0,743.52 215.5,743.81 216.0,743.88 216.5,743.82 217.0,743.38 218.0,743.52 218.5,743.82 219.0,743.58 219.5,743.70 220.0,743.67 220.5,743.83 221.0,743.56 222.5,743.18 223.0,743.33 223.5,743.18 224.0,743.38 226.0,743.22 226.5,743.51 227.0,743.54 227.5,743.37 228.0,743.71 228.5,743.66 229.0,743.89 230.0,743.71 230.5,743.36 231.0,743.32 232.0,743.70 232.5,743.55 233.0,743.18 234.0,743.53 235.0,743.51 235.5,743.38 236.0,743.46 236.5,743.71 238.5,743.50 239.0,743.57 240.0,743.26 240.5,743.32 241.0,743.21 241.5,743.37 242.0,743.21 242.5,743.61 243.0,743.82 243.5,743.86 244.5,742.87 246.0,743.62 246.5,743.68 247.0,743.33 248.0,743.18 248.5,743.48 250.0,743.94 250.5,743.84 251.0,743.39 251.5,743.17 253.0,743.93 253.5,743.79 255.5,743.60 256.0,743.34 256.5,743.30 257.0,742.99 258.0,742.83 259.5,743.83 260.0,743.84 260.5,743.70 261.0,743.37 262.0,743.68 262.5,743.72 263.0,743.49 264.0,743.26 265.0,743.20 266.5,743.35 267.5,743.77 268.0,743.55 269.0,743.40 270.0,743.69 271.0,743.53 272.5,743.76 273.0,743.62 274.0,743.66"/>
<polyline fill="none" stroke="#7a78dc" stroke-width="1.1" stroke-linejoin="round"  points="110.0,796.44 110.5,796.57 111.0,796.50 111.5,796.68 112.0,796.59 112.5,796.93 113.0,796.68 113.5,796.64 114.0,796.30 115.5,797.41 116.0,796.99 117.0,796.47 117.5,796.82 118.0,796.75 118.5,796.52 119.0,796.53 120.0,797.23 120.5,797.25 121.5,796.57 122.0,796.42 122.5,796.60 123.5,796.45 124.0,796.25 125.0,796.43 125.5,796.36 127.0,796.89 129.0,797.02 130.5,796.88 131.0,796.69 132.5,796.85 133.0,796.73 133.5,796.94 134.5,796.91 135.0,796.72 135.5,796.95 136.0,796.73 137.0,796.79 137.5,796.93 138.0,796.83 138.5,796.56 139.0,796.60 139.5,796.34 140.0,796.49 140.5,796.23 141.0,796.30 141.5,796.21 142.5,796.77 143.0,796.61 143.5,796.63 144.0,796.28 144.5,796.51 145.0,796.55 145.5,796.88 146.0,796.91 147.0,796.80 148.5,796.44 149.0,796.60 150.0,797.18 150.5,797.25 151.0,797.19 152.0,796.69 152.5,796.56 153.0,796.59 153.5,796.95 155.0,796.72 155.5,796.38 156.5,796.79 157.0,797.22 158.0,796.86 158.5,797.08 159.5,796.98 160.0,796.27 160.5,796.52 161.0,796.39 161.5,796.81 163.0,797.15 163.5,796.86 164.0,796.97 164.5,796.78 165.5,796.79 166.0,796.95 167.5,796.48 168.0,796.48 168.5,796.53 169.5,796.99 170.0,796.99 170.5,796.79 171.5,796.64 172.0,796.80 172.5,796.78 173.0,797.18 173.5,797.33 174.0,797.42 175.0,797.28 175.5,797.48 176.0,797.33 177.0,797.50 178.0,797.95 179.0,798.01 180.0,798.32 181.0,798.09 181.5,797.76 182.0,797.75 182.5,797.33 183.5,796.86 184.0,796.93 185.0,796.64 185.5,796.27 186.5,796.55 187.0,796.84 187.5,796.89 188.0,796.86 188.5,796.64 189.0,796.70 190.5,796.44 191.5,797.14 192.0,797.31 193.5,796.25 194.0,796.54 195.0,796.89 195.5,796.66 196.0,797.00 197.0,796.79 197.5,796.39 198.0,796.31 199.0,796.78 199.5,796.86 200.0,796.70 201.0,796.81 201.5,796.53 202.5,796.47 203.0,796.90 203.5,796.77 204.5,797.31 205.0,797.28 206.0,796.94 206.5,797.01 207.0,796.93 208.0,796.28 209.0,796.18 209.5,796.70 210.0,796.79 210.5,797.07 211.0,796.70 211.5,796.69 212.0,796.70 212.5,796.93 213.5,796.79 214.5,797.12 215.0,797.05 215.5,796.75 216.0,796.60 216.5,796.93 217.0,797.02 217.5,797.03 218.0,796.85 219.0,796.93 220.0,797.42 220.5,797.48 221.5,796.78 222.5,796.77 223.0,796.97 223.5,796.78 224.0,796.90 224.5,796.77 225.0,796.82 225.5,796.62 227.0,796.55 227.5,796.70 228.0,796.60 228.5,796.74 229.0,796.58 229.5,796.65 230.0,796.91 231.0,797.03 232.0,796.49 234.0,796.99 234.5,797.02 235.0,797.34 236.0,797.06 236.5,796.47 237.5,796.73 238.0,797.40 239.0,796.58 239.5,796.45 240.5,797.06 241.5,796.41 242.0,796.51 242.5,796.86 244.0,796.85 244.5,797.06 245.5,796.82 246.0,797.02 247.0,796.74 247.5,796.39 248.0,796.58 249.0,796.65 249.5,797.02 250.5,796.75 251.0,796.40 251.5,796.90 252.0,796.88 252.5,797.04 253.0,796.76 253.5,796.99 254.0,796.53 254.5,796.37 255.0,796.53 255.5,796.95 256.0,797.02 257.0,796.37 258.0,796.50 259.0,796.19 259.5,796.20 260.5,797.21 261.0,797.30 262.0,796.49 263.5,796.81 264.0,797.05 264.5,796.85 265.0,796.97 265.5,796.47 266.5,796.41 267.0,796.65 267.5,796.63 268.0,796.85 268.5,796.80 269.0,797.07 269.5,796.99 270.5,797.02 271.0,796.82 272.0,796.74 273.5,797.09 274.0,797.06"/>
<rect x="304.5" y="720.5" width="164.0" height="104.0" fill="none" stroke="#cbcbcb" stroke-width="1"/>
<line x1="468.5" y1="721.0" x2="468.5" y2="824.0" stroke="#bababa" stroke-width="1"/>
<line x1="468.0" y1="721.0" x2="470.0" y2="721.0" stroke="#b0b0b0" stroke-width="0.8"/>
<line x1="468.0" y1="726.1" x2="470.0" y2="726.1" stroke="#b0b0b0" stroke-width="0.8"/>
<line x1="468.0" y1="731.3" x2="470.0" y2="731.3" stroke="#b0b0b0" stroke-width="0.8"/>
<line x1="468.0" y1="736.5" x2="470.0" y2="736.5" stroke="#b0b0b0" stroke-width="0.8"/>
<line x1="468.0" y1="741.6" x2="470.0" y2="741.6" stroke="#b0b0b0" stroke-width="0.8"/>
<line x1="468.0" y1="746.8" x2="470.0" y2="746.8" stroke="#b0b0b0" stroke-width="0.8"/>
<line x1="468.0" y1="751.9" x2="470.0" y2="751.9" stroke="#b0b0b0" stroke-width="0.8"/>
<line x1="468.0" y1="757.0" x2="470.0" y2="757.0" stroke="#b0b0b0" stroke-width="0.8"/>
<line x1="468.0" y1="762.2" x2="470.0" y2="762.2" stroke="#b0b0b0" stroke-width="0.8"/>
<line x1="468.0" y1="767.4" x2="470.0" y2="767.4" stroke="#b0b0b0" stroke-width="0.8"/>
<line x1="468.0" y1="772.5" x2="470.0" y2="772.5" stroke="#b0b0b0" stroke-width="0.8"/>
<line x1="468.0" y1="777.6" x2="470.0" y2="777.6" stroke="#b0b0b0" stroke-width="0.8"/>
<line x1="468.0" y1="782.8" x2="470.0" y2="782.8" stroke="#b0b0b0" stroke-width="0.8"/>
<line x1="468.0" y1="788.0" x2="470.0" y2="788.0" stroke="#b0b0b0" stroke-width="0.8"/>
<line x1="468.0" y1="793.1" x2="470.0" y2="793.1" stroke="#b0b0b0" stroke-width="0.8"/>
<line x1="468.0" y1="798.2" x2="470.0" y2="798.2" stroke="#b0b0b0" stroke-width="0.8"/>
<line x1="468.0" y1="803.4" x2="470.0" y2="803.4" stroke="#b0b0b0" stroke-width="0.8"/>
<line x1="468.0" y1="808.5" x2="470.0" y2="808.5" stroke="#b0b0b0" stroke-width="0.8"/>
<line x1="468.0" y1="813.7" x2="470.0" y2="813.7" stroke="#b0b0b0" stroke-width="0.8"/>
<line x1="468.0" y1="818.9" x2="470.0" y2="818.9" stroke="#b0b0b0" stroke-width="0.8"/>
<line x1="468.0" y1="824.0" x2="470.0" y2="824.0" stroke="#b0b0b0" stroke-width="0.8"/>
<rect x="470.5" y="720.5" width="1.5" height="3" fill="#999"/>
<rect x="470.5" y="738.5" width="1.5" height="3" fill="#aaa"/>
<rect x="470.5" y="766.0" width="1.5" height="3" fill="#aaa"/>
<rect x="470.5" y="793.5" width="1.5" height="3" fill="#aaa"/>
<rect x="470.5" y="815.5" width="1.5" height="3" fill="#aaa"/>
<line x1="304.0" y1="824.0" x2="304.0" y2="825.5" stroke="#9a9a9a" stroke-width="0.7"/>
<line x1="308.3" y1="824.0" x2="308.3" y2="825.5" stroke="#9a9a9a" stroke-width="0.7"/>
<line x1="312.6" y1="824.0" x2="312.6" y2="825.5" stroke="#9a9a9a" stroke-width="0.7"/>
<line x1="316.9" y1="824.0" x2="316.9" y2="825.5" stroke="#9a9a9a" stroke-width="0.7"/>
<line x1="321.3" y1="824.0" x2="321.3" y2="825.5" stroke="#9a9a9a" stroke-width="0.7"/>
<line x1="325.6" y1="824.0" x2="325.6" y2="825.5" stroke="#9a9a9a" stroke-width="0.7"/>
<line x1="329.9" y1="824.0" x2="329.9" y2="825.5" stroke="#9a9a9a" stroke-width="0.7"/>
<line x1="334.2" y1="824.0" x2="334.2" y2="825.5" stroke="#9a9a9a" stroke-width="0.7"/>
<line x1="338.5" y1="824.0" x2="338.5" y2="825.5" stroke="#9a9a9a" stroke-width="0.7"/>
<line x1="342.8" y1="824.0" x2="342.8" y2="825.5" stroke="#9a9a9a" stroke-width="0.7"/>
<line x1="347.2" y1="824.0" x2="347.2" y2="825.5" stroke="#9a9a9a" stroke-width="0.7"/>
<line x1="351.5" y1="824.0" x2="351.5" y2="825.5" stroke="#9a9a9a" stroke-width="0.7"/>
<line x1="355.8" y1="824.0" x2="355.8" y2="825.5" stroke="#9a9a9a" stroke-width="0.7"/>
<line x1="360.1" y1="824.0" x2="360.1" y2="825.5" stroke="#9a9a9a" stroke-width="0.7"/>
<line x1="364.4" y1="824.0" x2="364.4" y2="825.5" stroke="#9a9a9a" stroke-width="0.7"/>
<line x1="368.7" y1="824.0" x2="368.7" y2="825.5" stroke="#9a9a9a" stroke-width="0.7"/>
<line x1="373.1" y1="824.0" x2="373.1" y2="825.5" stroke="#9a9a9a" stroke-width="0.7"/>
<line x1="377.4" y1="824.0" x2="377.4" y2="825.5" stroke="#9a9a9a" stroke-width="0.7"/>
<line x1="381.7" y1="824.0" x2="381.7" y2="825.5" stroke="#9a9a9a" stroke-width="0.7"/>
<line x1="386.0" y1="824.0" x2="386.0" y2="825.5" stroke="#9a9a9a" stroke-width="0.7"/>
<line x1="390.3" y1="824.0" x2="390.3" y2="825.5" stroke="#9a9a9a" stroke-width="0.7"/>
<line x1="394.6" y1="824.0" x2="394.6" y2="825.5" stroke="#9a9a9a" stroke-width="0.7"/>
<line x1="398.9" y1="824.0" x2="398.9" y2="825.5" stroke="#9a9a9a" stroke-width="0.7"/>
<line x1="403.3" y1="824.0" x2="403.3" y2="825.5" stroke="#9a9a9a" stroke-width="0.7"/>
<line x1="407.6" y1="824.0" x2="407.6" y2="825.5" stroke="#9a9a9a" stroke-width="0.7"/>
<line x1="411.9" y1="824.0" x2="411.9" y2="825.5" stroke="#9a9a9a" stroke-width="0.7"/>
<line x1="416.2" y1="824.0" x2="416.2" y2="825.5" stroke="#9a9a9a" stroke-width="0.7"/>
<line x1="420.5" y1="824.0" x2="420.5" y2="825.5" stroke="#9a9a9a" stroke-width="0.7"/>
<line x1="424.8" y1="824.0" x2="424.8" y2="825.5" stroke="#9a9a9a" stroke-width="0.7"/>
<line x1="429.2" y1="824.0" x2="429.2" y2="825.5" stroke="#9a9a9a" stroke-width="0.7"/>
<line x1="433.5" y1="824.0" x2="433.5" y2="825.5" stroke="#9a9a9a" stroke-width="0.7"/>
<line x1="437.8" y1="824.0" x2="437.8" y2="825.5" stroke="#9a9a9a" stroke-width="0.7"/>
<line x1="442.1" y1="824.0" x2="442.1" y2="825.5" stroke="#9a9a9a" stroke-width="0.7"/>
<line x1="446.4" y1="824.0" x2="446.4" y2="825.5" stroke="#9a9a9a" stroke-width="0.7"/>
<line x1="450.7" y1="824.0" x2="450.7" y2="825.5" stroke="#9a9a9a" stroke-width="0.7"/>
<line x1="455.1" y1="824.0" x2="455.1" y2="825.5" stroke="#9a9a9a" stroke-width="0.7"/>
<line x1="459.4" y1="824.0" x2="459.4" y2="825.5" stroke="#9a9a9a" stroke-width="0.7"/>
<line x1="463.7" y1="824.0" x2="463.7" y2="825.5" stroke="#9a9a9a" stroke-width="0.7"/>
<line x1="468.0" y1="824.0" x2="468.0" y2="825.5" stroke="#9a9a9a" stroke-width="0.7"/>
<text x="338.0" y="829.0" font-size="3.8" font-weight="normal" fill="#999" text-anchor="middle">2.0</text>
<text x="370.0" y="829.0" font-size="3.8" font-weight="normal" fill="#999" text-anchor="middle">1.5</text>
<text x="403.5" y="829.0" font-size="3.8" font-weight="normal" fill="#999" text-anchor="middle">1.0</text>
<text x="436.5" y="829.0" font-size="3.8" font-weight="normal" fill="#999" text-anchor="middle">0.5</text>
<text x="465.0" y="829.0" font-size="3.8" font-weight="normal" fill="#999" text-anchor="middle">ppm</text>
<polyline fill="none" stroke="#e48a97" stroke-width="1.0" stroke-linejoin="round"  points="305.0,745.47 305.5,745.63 306.0,746.02 307.0,746.21 307.5,745.92 310.5,745.90 311.0,745.82 311.5,745.60 312.0,745.65 312.5,745.40 313.0,745.68 313.5,745.52 314.0,745.95 314.5,745.90 316.5,746.29 317.5,746.29 318.5,746.50 319.0,746.41 319.5,746.52 321.0,745.56 321.5,745.87 322.0,746.45 322.5,746.62 324.0,746.02 324.5,746.20 325.0,745.97 325.5,746.10 326.0,746.01 326.5,746.22 327.5,745.71 328.0,745.67 328.5,745.99 329.0,746.08 329.5,745.88 330.0,746.19 330.5,746.05 331.0,746.33 331.5,745.91 332.0,746.50 332.5,746.39 333.0,746.43 333.5,746.02 334.0,745.90 334.5,746.00 335.5,745.52 336.0,745.51 337.0,746.13 338.0,745.79 339.5,746.71 340.0,746.34 341.5,745.77 342.0,745.74 343.0,746.04 343.5,745.86 344.5,745.80 345.5,745.55 347.0,745.89 347.5,745.84 348.0,745.60 349.0,745.72 349.5,746.00 350.0,745.76 350.5,745.84 351.0,745.33 351.5,745.47 352.0,744.99 352.5,745.55 353.0,745.75 353.5,746.25 355.0,745.54 355.5,745.72 356.5,746.50 357.0,746.57 357.5,746.46 358.0,745.87 358.5,745.95 359.0,745.81 359.5,746.08 360.0,745.76 361.5,746.05 362.0,745.81 362.5,745.96 365.0,745.95 365.5,745.55 366.0,745.65 366.5,745.60 367.0,745.80 367.5,745.61 369.0,746.02 371.0,746.08 372.0,745.42 373.5,745.64 374.0,744.78 374.5,743.46 375.0,741.36 375.5,741.18 376.0,743.40 376.5,744.84 377.5,745.67 378.0,745.76 378.5,746.10 379.0,746.26 380.0,745.99 380.5,745.43 381.5,745.45 382.0,745.67 383.0,745.84 383.5,745.62 384.0,745.87 386.5,746.04 387.5,745.94 388.0,746.13 389.5,746.01 390.0,745.83 390.5,745.93 391.0,745.69 391.5,745.64 392.0,745.44 393.0,745.83 394.0,745.52 394.5,745.23 395.5,745.67 396.0,746.07 396.5,746.21 397.5,745.54 398.0,745.41 398.5,745.74 400.0,745.72 400.5,745.93 402.0,745.65 403.0,745.59 404.0,746.05 404.5,746.02 405.5,745.37 406.0,745.72 407.0,746.08 407.5,745.82 409.0,746.11 410.5,745.86 412.5,746.17 414.0,745.75 415.0,746.04 416.5,745.91 417.0,746.29 418.0,746.11 418.5,745.78 419.0,745.98 420.5,745.82 422.0,746.23 422.5,746.12 423.0,746.46 423.5,746.22 424.0,746.36 424.5,745.93 425.5,745.91 427.0,745.60 427.5,745.75 428.0,745.58 428.5,745.58 429.0,745.77 429.5,745.78 430.5,745.63 431.0,745.81 433.0,746.02 434.0,745.99 435.5,745.50 437.5,745.93 439.0,746.06 439.5,746.47 440.0,746.47 441.5,746.24 443.0,745.43 443.5,745.69 444.0,745.74 444.5,745.98 445.5,745.98 446.5,745.68 447.0,745.65 449.0,745.96 450.0,745.80 450.5,745.52 453.0,746.29 453.5,746.28 454.0,745.88 455.0,745.39 456.0,745.67 456.5,745.70 457.0,745.52 457.5,745.54 458.0,745.76 459.5,745.53 460.0,745.91 460.5,745.98 461.5,746.36 462.5,745.98 463.0,745.90 463.5,745.62 464.0,745.67 464.5,745.45 466.0,746.06 466.5,746.04 467.5,745.71 468.0,745.69"/>
<polyline fill="none" stroke="#7a78dc" stroke-width="1.1" stroke-linejoin="round"  points="305.0,795.38 305.5,795.34 306.0,795.52 307.0,795.60 308.0,795.32 308.5,794.96 309.0,794.82 309.5,794.87 310.5,795.50 311.0,795.64 312.0,795.33 313.0,795.62 313.5,795.65 314.0,794.93 315.0,794.45 315.5,794.76 317.5,795.42 319.0,795.28 319.5,795.06 320.0,795.09 321.0,794.69 322.0,795.03 322.5,795.48 323.0,795.33 323.5,795.49 324.5,795.48 325.0,795.28 326.0,795.76 326.5,795.68 327.0,795.26 328.5,795.39 329.0,795.03 331.0,795.63 331.5,795.52 332.0,795.56 332.5,795.27 334.5,795.64 335.0,795.52 335.5,795.57 336.5,796.10 337.0,795.83 338.0,795.01 338.5,794.94 339.0,795.08 339.5,795.49 340.0,795.71 340.5,795.79 341.0,795.54 341.5,795.52 342.0,795.24 342.5,795.31 343.0,795.18 344.0,795.15 345.0,795.37 345.5,795.60 346.0,795.44 348.0,795.42 348.5,795.25 349.0,795.53 350.0,795.73 350.5,795.69 351.5,795.37 352.0,795.51 353.5,795.38 354.0,795.64 354.5,795.71 355.0,795.54 356.0,794.94 357.5,795.30 358.5,795.79 359.5,795.97 360.0,795.88 360.5,795.98 361.0,795.48 361.5,795.50 362.5,796.28 363.0,796.20 363.5,795.91 364.0,795.80 364.5,796.06 365.0,795.99 365.5,796.46 366.0,796.38 366.5,796.71 367.0,796.59 368.0,796.95 369.5,797.92 371.5,799.96 372.0,800.64 373.0,802.80 374.0,807.18 375.5,816.39 376.0,818.86 376.5,818.94 377.0,817.29 379.0,805.18 380.5,800.29 381.0,799.62 383.0,797.86 383.5,797.66 384.0,797.23 385.0,796.67 385.5,796.73 387.5,796.37 389.0,795.46 389.5,795.62 390.0,795.95 391.0,796.06 391.5,795.84 392.0,795.83 392.5,795.99 393.5,795.72 394.0,795.28 394.5,795.02 395.5,795.24 396.0,795.61 397.5,795.14 398.5,795.34 399.5,795.00 400.5,795.22 401.0,795.74 401.5,795.63 402.0,795.80 402.5,795.61 404.0,795.59 405.5,795.34 406.0,795.50 407.0,795.40 408.0,795.61 408.5,795.98 409.5,795.88 410.5,795.38 411.5,795.05 412.0,795.56 413.0,795.45 413.5,795.09 414.0,795.29 414.5,795.27 415.5,795.53 417.0,795.53 418.0,795.35 418.5,794.95 420.0,795.67 420.5,795.81 421.0,795.75 421.5,795.86 422.0,795.39 422.5,795.57 423.0,795.12 423.5,795.31 424.0,795.02 425.0,794.94 425.5,795.10 426.0,795.67 426.5,795.30 427.0,795.25 427.5,794.88 428.0,795.19 428.5,794.87 429.5,794.60 431.0,795.17 432.0,795.12 433.5,795.48 434.5,794.97 435.0,795.16 435.5,795.09 436.0,795.27 436.5,795.02 437.0,795.07 437.5,795.17 438.0,795.65 438.5,795.71 439.0,795.59 439.5,795.13 440.0,795.37 440.5,795.30 441.5,795.40 442.0,795.61 443.5,795.50 444.0,795.68 445.0,795.16 446.5,795.06 447.5,795.25 449.5,794.80 450.5,795.02 451.0,795.24 451.5,794.87 452.0,795.14 453.0,795.18 453.5,794.77 454.0,794.82 455.0,795.32 456.0,795.36 456.5,795.25 457.0,794.87 458.0,794.73 458.5,795.12 459.0,795.32 459.5,795.32 460.0,795.49 460.5,795.14 461.0,795.40 461.5,795.34 462.0,795.53 463.0,794.96 464.0,795.02 464.5,795.26 465.0,795.31 466.0,795.04 466.5,795.01 467.0,795.15 468.0,794.99"/>
<rect x="490.5" y="718.5" width="164.0" height="104.0" fill="none" stroke="#cbcbcb" stroke-width="1"/>
<line x1="579" y1="718.5" x2="653" y2="718.5" stroke="#f4d2d6" stroke-width="1"/>
<line x1="654.5" y1="721.0" x2="654.5" y2="824.0" stroke="#bababa" stroke-width="1"/>
<line x1="654.0" y1="721.0" x2="656.0" y2="721.0" stroke="#b0b0b0" stroke-width="0.8"/>
<line x1="654.0" y1="726.1" x2="656.0" y2="726.1" stroke="#b0b0b0" stroke-width="0.8"/>
<line x1="654.0" y1="731.3" x2="656.0" y2="731.3" stroke="#b0b0b0" stroke-width="0.8"/>
<line x1="654.0" y1="736.5" x2="656.0" y2="736.5" stroke="#b0b0b0" stroke-width="0.8"/>
<line x1="654.0" y1="741.6" x2="656.0" y2="741.6" stroke="#b0b0b0" stroke-width="0.8"/>
<line x1="654.0" y1="746.8" x2="656.0" y2="746.8" stroke="#b0b0b0" stroke-width="0.8"/>
<line x1="654.0" y1="751.9" x2="656.0" y2="751.9" stroke="#b0b0b0" stroke-width="0.8"/>
<line x1="654.0" y1="757.0" x2="656.0" y2="757.0" stroke="#b0b0b0" stroke-width="0.8"/>
<line x1="654.0" y1="762.2" x2="656.0" y2="762.2" stroke="#b0b0b0" stroke-width="0.8"/>
<line x1="654.0" y1="767.4" x2="656.0" y2="767.4" stroke="#b0b0b0" stroke-width="0.8"/>
<line x1="654.0" y1="772.5" x2="656.0" y2="772.5" stroke="#b0b0b0" stroke-width="0.8"/>
<line x1="654.0" y1="777.6" x2="656.0" y2="777.6" stroke="#b0b0b0" stroke-width="0.8"/>
<line x1="654.0" y1="782.8" x2="656.0" y2="782.8" stroke="#b0b0b0" stroke-width="0.8"/>
<line x1="654.0" y1="788.0" x2="656.0" y2="788.0" stroke="#b0b0b0" stroke-width="0.8"/>
<line x1="654.0" y1="793.1" x2="656.0" y2="793.1" stroke="#b0b0b0" stroke-width="0.8"/>
<line x1="654.0" y1="798.2" x2="656.0" y2="798.2" stroke="#b0b0b0" stroke-width="0.8"/>
<line x1="654.0" y1="803.4" x2="656.0" y2="803.4" stroke="#b0b0b0" stroke-width="0.8"/>
<line x1="654.0" y1="808.5" x2="656.0" y2="808.5" stroke="#b0b0b0" stroke-width="0.8"/>
<line x1="654.0" y1="813.7" x2="656.0" y2="813.7" stroke="#b0b0b0" stroke-width="0.8"/>
<line x1="654.0" y1="818.9" x2="656.0" y2="818.9" stroke="#b0b0b0" stroke-width="0.8"/>
<line x1="654.0" y1="824.0" x2="656.0" y2="824.0" stroke="#b0b0b0" stroke-width="0.8"/>
<rect x="656.5" y="720.5" width="1.5" height="3" fill="#999"/>
<rect x="656.5" y="738.5" width="1.5" height="3" fill="#aaa"/>
<rect x="656.5" y="766.0" width="1.5" height="3" fill="#aaa"/>
<rect x="656.5" y="793.5" width="1.5" height="3" fill="#aaa"/>
<rect x="656.5" y="815.5" width="1.5" height="3" fill="#aaa"/>
<line x1="490.0" y1="822.0" x2="490.0" y2="823.5" stroke="#9a9a9a" stroke-width="0.7"/>
<line x1="494.3" y1="822.0" x2="494.3" y2="823.5" stroke="#9a9a9a" stroke-width="0.7"/>
<line x1="498.6" y1="822.0" x2="498.6" y2="823.5" stroke="#9a9a9a" stroke-width="0.7"/>
<line x1="502.9" y1="822.0" x2="502.9" y2="823.5" stroke="#9a9a9a" stroke-width="0.7"/>
<line x1="507.3" y1="822.0" x2="507.3" y2="823.5" stroke="#9a9a9a" stroke-width="0.7"/>
<line x1="511.6" y1="822.0" x2="511.6" y2="823.5" stroke="#9a9a9a" stroke-width="0.7"/>
<line x1="515.9" y1="822.0" x2="515.9" y2="823.5" stroke="#9a9a9a" stroke-width="0.7"/>
<line x1="520.2" y1="822.0" x2="520.2" y2="823.5" stroke="#9a9a9a" stroke-width="0.7"/>
<line x1="524.5" y1="822.0" x2="524.5" y2="823.5" stroke="#9a9a9a" stroke-width="0.7"/>
<line x1="528.8" y1="822.0" x2="528.8" y2="823.5" stroke="#9a9a9a" stroke-width="0.7"/>
<line x1="533.2" y1="822.0" x2="533.2" y2="823.5" stroke="#9a9a9a" stroke-width="0.7"/>
<line x1="537.5" y1="822.0" x2="537.5" y2="823.5" stroke="#9a9a9a" stroke-width="0.7"/>
<line x1="541.8" y1="822.0" x2="541.8" y2="823.5" stroke="#9a9a9a" stroke-width="0.7"/>
<line x1="546.1" y1="822.0" x2="546.1" y2="823.5" stroke="#9a9a9a" stroke-width="0.7"/>
<line x1="550.4" y1="822.0" x2="550.4" y2="823.5" stroke="#9a9a9a" stroke-width="0.7"/>
<line x1="554.7" y1="822.0" x2="554.7" y2="823.5" stroke="#9a9a9a" stroke-width="0.7"/>
<line x1="559.1" y1="822.0" x2="559.1" y2="823.5" stroke="#9a9a9a" stroke-width="0.7"/>
<line x1="563.4" y1="822.0" x2="563.4" y2="823.5" stroke="#9a9a9a" stroke-width="0.7"/>
<line x1="567.7" y1="822.0" x2="567.7" y2="823.5" stroke="#9a9a9a" stroke-width="0.7"/>
<line x1="572.0" y1="822.0" x2="572.0" y2="823.5" stroke="#9a9a9a" stroke-width="0.7"/>
<line x1="576.3" y1="822.0" x2="576.3" y2="823.5" stroke="#9a9a9a" stroke-width="0.7"/>
<line x1="580.6" y1="822.0" x2="580.6" y2="823.5" stroke="#9a9a9a" stroke-width="0.7"/>
<line x1="584.9" y1="822.0" x2="584.9" y2="823.5" stroke="#9a9a9a" stroke-width="0.7"/>
<line x1="589.3" y1="822.0" x2="589.3" y2="823.5" stroke="#9a9a9a" stroke-width="0.7"/>
<line x1="593.6" y1="822.0" x2="593.6" y2="823.5" stroke="#9a9a9a" stroke-width="0.7"/>
<line x1="597.9" y1="822.0" x2="597.9" y2="823.5" stroke="#9a9a9a" stroke-width="0.7"/>
<line x1="602.2" y1="822.0" x2="602.2" y2="823.5" stroke="#9a9a9a" stroke-width="0.7"/>
<line x1="606.5" y1="822.0" x2="606.5" y2="823.5" stroke="#9a9a9a" stroke-width="0.7"/>
<line x1="610.8" y1="822.0" x2="610.8" y2="823.5" stroke="#9a9a9a" stroke-width="0.7"/>
<line x1="615.2" y1="822.0" x2="615.2" y2="823.5" stroke="#9a9a9a" stroke-width="0.7"/>
<line x1="619.5" y1="822.0" x2="619.5" y2="823.5" stroke="#9a9a9a" stroke-width="0.7"/>
<line x1="623.8" y1="822.0" x2="623.8" y2="823.5" stroke="#9a9a9a" stroke-width="0.7"/>
<line x1="628.1" y1="822.0" x2="628.1" y2="823.5" stroke="#9a9a9a" stroke-width="0.7"/>
<line x1="632.4" y1="822.0" x2="632.4" y2="823.5" stroke="#9a9a9a" stroke-width="0.7"/>
<line x1="636.7" y1="822.0" x2="636.7" y2="823.5" stroke="#9a9a9a" stroke-width="0.7"/>
<line x1="641.1" y1="822.0" x2="641.1" y2="823.5" stroke="#9a9a9a" stroke-width="0.7"/>
<line x1="645.4" y1="822.0" x2="645.4" y2="823.5" stroke="#9a9a9a" stroke-width="0.7"/>
<line x1="649.7" y1="822.0" x2="649.7" y2="823.5" stroke="#9a9a9a" stroke-width="0.7"/>
<line x1="654.0" y1="822.0" x2="654.0" y2="823.5" stroke="#9a9a9a" stroke-width="0.7"/>
<text x="524.0" y="829.0" font-size="3.8" font-weight="normal" fill="#999" text-anchor="middle">2.0</text>
<text x="556.0" y="829.0" font-size="3.8" font-weight="normal" fill="#999" text-anchor="middle">1.5</text>
<text x="589.5" y="829.0" font-size="3.8" font-weight="normal" fill="#999" text-anchor="middle">1.0</text>
<text x="622.5" y="829.0" font-size="3.8" font-weight="normal" fill="#999" text-anchor="middle">0.5</text>
<text x="651.0" y="829.0" font-size="3.8" font-weight="normal" fill="#999" text-anchor="middle">ppm</text>
<polyline fill="none" stroke="#e48a97" stroke-width="1.0" stroke-linejoin="round"  points="491.0,741.76 491.5,741.65 492.0,741.95 493.0,742.00 493.5,742.00 494.0,741.85 494.5,742.13 495.0,741.97 495.5,742.11 496.5,741.81 497.0,742.04 498.0,742.27 499.0,741.84 500.5,741.87 501.0,741.71 501.5,742.02 502.5,742.24 503.5,742.29 505.0,741.74 506.5,742.29 508.0,741.89 508.5,742.33 509.5,742.09 510.5,741.46 511.5,741.53 512.0,742.08 513.0,741.97 513.5,741.74 514.0,741.92 515.0,741.93 515.5,742.08 516.5,742.64 517.0,742.58 517.5,742.20 518.5,741.86 519.0,741.99 519.5,741.83 520.0,742.00 521.0,742.00 521.5,741.81 523.0,741.61 523.5,741.85 524.0,741.62 525.0,741.69 525.5,742.02 526.0,741.99 526.5,741.61 527.0,741.45 527.5,741.73 528.5,741.70 529.0,741.54 529.5,741.58 530.0,741.89 531.0,742.06 532.0,741.59 532.5,741.57 533.5,741.85 534.0,742.19 534.5,742.19 536.0,741.85 536.5,742.22 537.0,741.95 537.5,741.98 538.0,741.58 538.5,741.52 539.5,741.69 540.5,741.56 542.0,742.03 542.5,741.74 543.5,741.73 544.0,742.11 545.5,742.07 546.0,742.21 546.5,742.19 547.0,741.76 547.5,741.93 548.0,741.68 548.5,741.77 549.0,741.40 549.5,741.56 550.0,742.01 550.5,742.12 551.5,741.88 552.5,741.84 553.5,741.47 554.0,741.67 555.0,741.81 555.5,741.84 556.0,741.64 557.0,741.71 557.5,742.03 558.0,741.80 558.5,741.82 559.0,741.37 559.5,741.20 560.5,739.83 561.5,736.62 562.5,740.31 563.0,741.28 563.5,741.62 564.5,741.95 565.0,741.95 566.0,741.54 566.5,741.96 567.0,742.20 567.5,742.11 568.0,741.86 568.5,741.92 569.0,742.24 570.0,741.87 570.5,741.29 572.5,742.38 573.5,742.43 574.0,742.34 575.0,742.42 575.5,741.86 576.0,741.66 576.5,741.68 577.0,742.17 579.5,742.28 580.5,741.83 581.0,741.89 581.5,741.70 582.0,741.88 582.5,741.67 583.0,741.83 583.5,741.46 584.5,741.83 585.0,742.14 585.5,742.00 586.5,741.25 587.5,741.53 588.0,741.93 588.5,742.14 589.5,741.70 590.0,741.21 590.5,741.25 592.0,741.88 592.5,741.76 593.0,741.95 593.5,741.85 594.0,742.12 595.0,742.13 596.0,741.70 596.5,741.79 597.0,741.72 597.5,742.02 598.5,742.07 599.0,741.69 600.0,741.25 601.0,741.71 601.5,742.07 602.0,742.14 602.5,741.98 603.5,741.93 604.5,742.12 605.5,742.10 606.0,742.28 606.5,741.87 607.5,741.56 608.0,742.04 608.5,741.86 609.5,741.85 611.0,741.49 611.5,741.67 613.0,741.86 614.0,741.51 614.5,741.60 615.0,741.97 616.0,741.66 617.0,742.08 617.5,742.45 618.0,742.02 618.5,742.00 619.0,741.71 619.5,741.95 620.5,741.93 621.0,741.65 621.5,741.86 622.0,741.79 622.5,741.86 623.0,741.41 623.5,741.48 625.0,742.00 626.5,742.22 627.5,741.71 628.5,741.39 629.0,741.70 630.0,741.57 631.0,742.01 631.5,742.11 632.0,742.01 633.0,742.31 634.0,742.11 634.5,742.14 635.0,741.94 635.5,742.09 636.0,741.99 636.5,742.23 637.0,741.81 637.5,741.74 638.0,741.81 638.5,742.22 639.0,742.28 640.0,741.69 641.0,741.64 642.0,742.28 642.5,742.43 643.0,742.42 643.5,741.99 644.0,742.04 644.5,741.93 645.5,742.36 647.5,741.66 648.0,741.65 648.5,741.70 649.5,742.08 650.0,741.88 650.5,742.02 651.0,741.90 651.5,742.11 652.0,741.96 652.5,742.20 653.5,741.82 654.0,741.45"/>
<polyline fill="none" stroke="#7a78dc" stroke-width="1.1" stroke-linejoin="round"  points="491.0,790.97 491.5,790.81 493.0,790.91 494.0,790.79 494.5,791.09 495.0,791.05 496.5,790.34 498.5,790.76 499.0,790.62 499.5,790.82 500.0,790.61 500.5,790.72 501.0,790.60 502.0,791.00 502.5,790.83 503.0,790.82 503.5,790.58 504.5,790.82 505.0,790.60 505.5,790.64 506.0,790.34 506.5,790.58 507.5,790.21 508.5,790.57 509.0,790.99 509.5,790.76 510.0,790.75 511.5,791.05 512.0,790.79 513.0,790.96 513.5,791.37 515.0,790.49 516.0,790.60 516.5,790.84 517.0,790.77 517.5,791.08 518.0,790.83 518.5,791.06 519.0,790.66 520.0,790.58 520.5,790.79 521.0,790.75 521.5,790.93 522.0,790.72 522.5,791.06 523.0,790.62 523.5,790.79 524.0,790.77 524.5,790.98 526.0,790.51 526.5,790.71 527.0,790.71 527.5,790.99 528.0,790.95 529.0,790.41 529.5,790.36 530.0,790.84 531.5,790.43 532.0,790.70 535.5,790.72 536.5,791.01 538.5,790.73 539.0,790.38 539.5,790.35 540.5,790.64 541.5,790.20 542.0,790.21 542.5,790.59 543.0,790.44 543.5,790.61 544.5,790.45 545.0,790.21 545.5,790.61 546.5,791.05 547.0,790.88 547.5,790.94 548.0,790.65 549.0,790.56 550.0,791.02 550.5,790.94 551.0,791.49 551.5,791.22 552.0,791.25 552.5,791.01 553.5,791.25 554.0,790.88 555.0,790.93 555.5,791.62 556.0,791.60 556.5,791.79 557.0,791.83 557.5,792.46 558.5,793.38 559.5,795.42 560.0,797.57 560.5,801.01 561.5,813.32 562.0,816.99 562.5,813.28 563.0,806.35 563.5,801.18 564.0,797.64 565.0,794.22 566.0,792.61 567.0,792.02 568.5,791.80 570.0,791.19 571.0,791.00 571.5,791.27 572.5,791.01 573.0,791.04 573.5,791.34 574.0,791.23 575.0,790.57 575.5,790.99 576.5,791.08 577.5,791.02 578.5,790.63 580.0,790.73 580.5,790.58 581.0,790.82 582.0,790.75 583.5,791.18 584.0,791.04 584.5,790.59 585.0,790.70 585.5,790.37 586.0,790.56 586.5,790.36 588.5,790.70 589.0,791.34 590.0,791.29 590.5,790.66 591.0,790.76 591.5,791.07 592.5,790.99 593.0,790.49 593.5,790.84 594.5,791.10 595.5,790.69 596.5,790.56 597.0,790.70 597.5,790.50 598.0,790.71 598.5,790.67 599.0,790.85 599.5,790.42 600.5,790.60 601.0,791.10 601.5,790.58 602.0,790.54 602.5,790.24 603.0,790.74 604.0,791.19 605.0,790.41 606.5,790.66 607.0,790.21 607.5,790.08 608.0,790.76 608.5,791.02 609.0,791.57 610.0,790.96 611.0,790.92 611.5,791.39 612.5,790.89 613.5,790.79 614.0,790.93 614.5,790.69 615.5,790.69 616.5,790.30 617.0,790.36 617.5,790.70 618.0,791.24 619.5,790.72 620.0,791.04 620.5,791.02 621.5,790.48 623.0,790.85 623.5,790.75 624.0,790.93 625.0,790.93 626.5,790.29 627.0,790.23 628.5,790.97 630.5,790.33 631.0,790.44 632.0,791.24 632.5,791.41 633.5,790.67 634.0,790.60 634.5,790.67 635.0,791.06 636.5,790.61 638.0,791.24 640.5,790.48 641.5,790.63 642.0,790.89 642.5,790.88 643.5,790.61 644.0,790.66 644.5,790.57 645.0,790.70 645.5,790.29 646.0,790.43 646.5,790.42 647.0,790.62 648.5,790.59 649.0,790.73 649.5,790.64 650.0,791.08 650.5,790.73 651.0,790.99 651.5,790.53 652.0,790.51 653.5,791.00 654.0,790.67"/>
<circle cx="653.5" cy="718.7" r="1.8" fill="#d0202a"/>
<circle cx="653.5" cy="771.2" r="1.8" fill="#2020b0"/>
<text x="163.9" y="734.0" font-size="9.38" fill="#d3283e" font-weight="bold" text-anchor="start" textLength="107.4" lengthAdjust="spacingAndGlyphs" stroke="#d3283e" stroke-width="0.25">Compound alone (50 µM)</text>
<text x="112.1" y="781.0" font-size="9.38" fill="#3a2fb0" font-weight="bold" text-anchor="start" textLength="158.2" lengthAdjust="spacingAndGlyphs" stroke="#3a2fb0" stroke-width="0.25">Compound (50 µM) + Protein (2.5 µM)</text>
</svg>
</body></html>
